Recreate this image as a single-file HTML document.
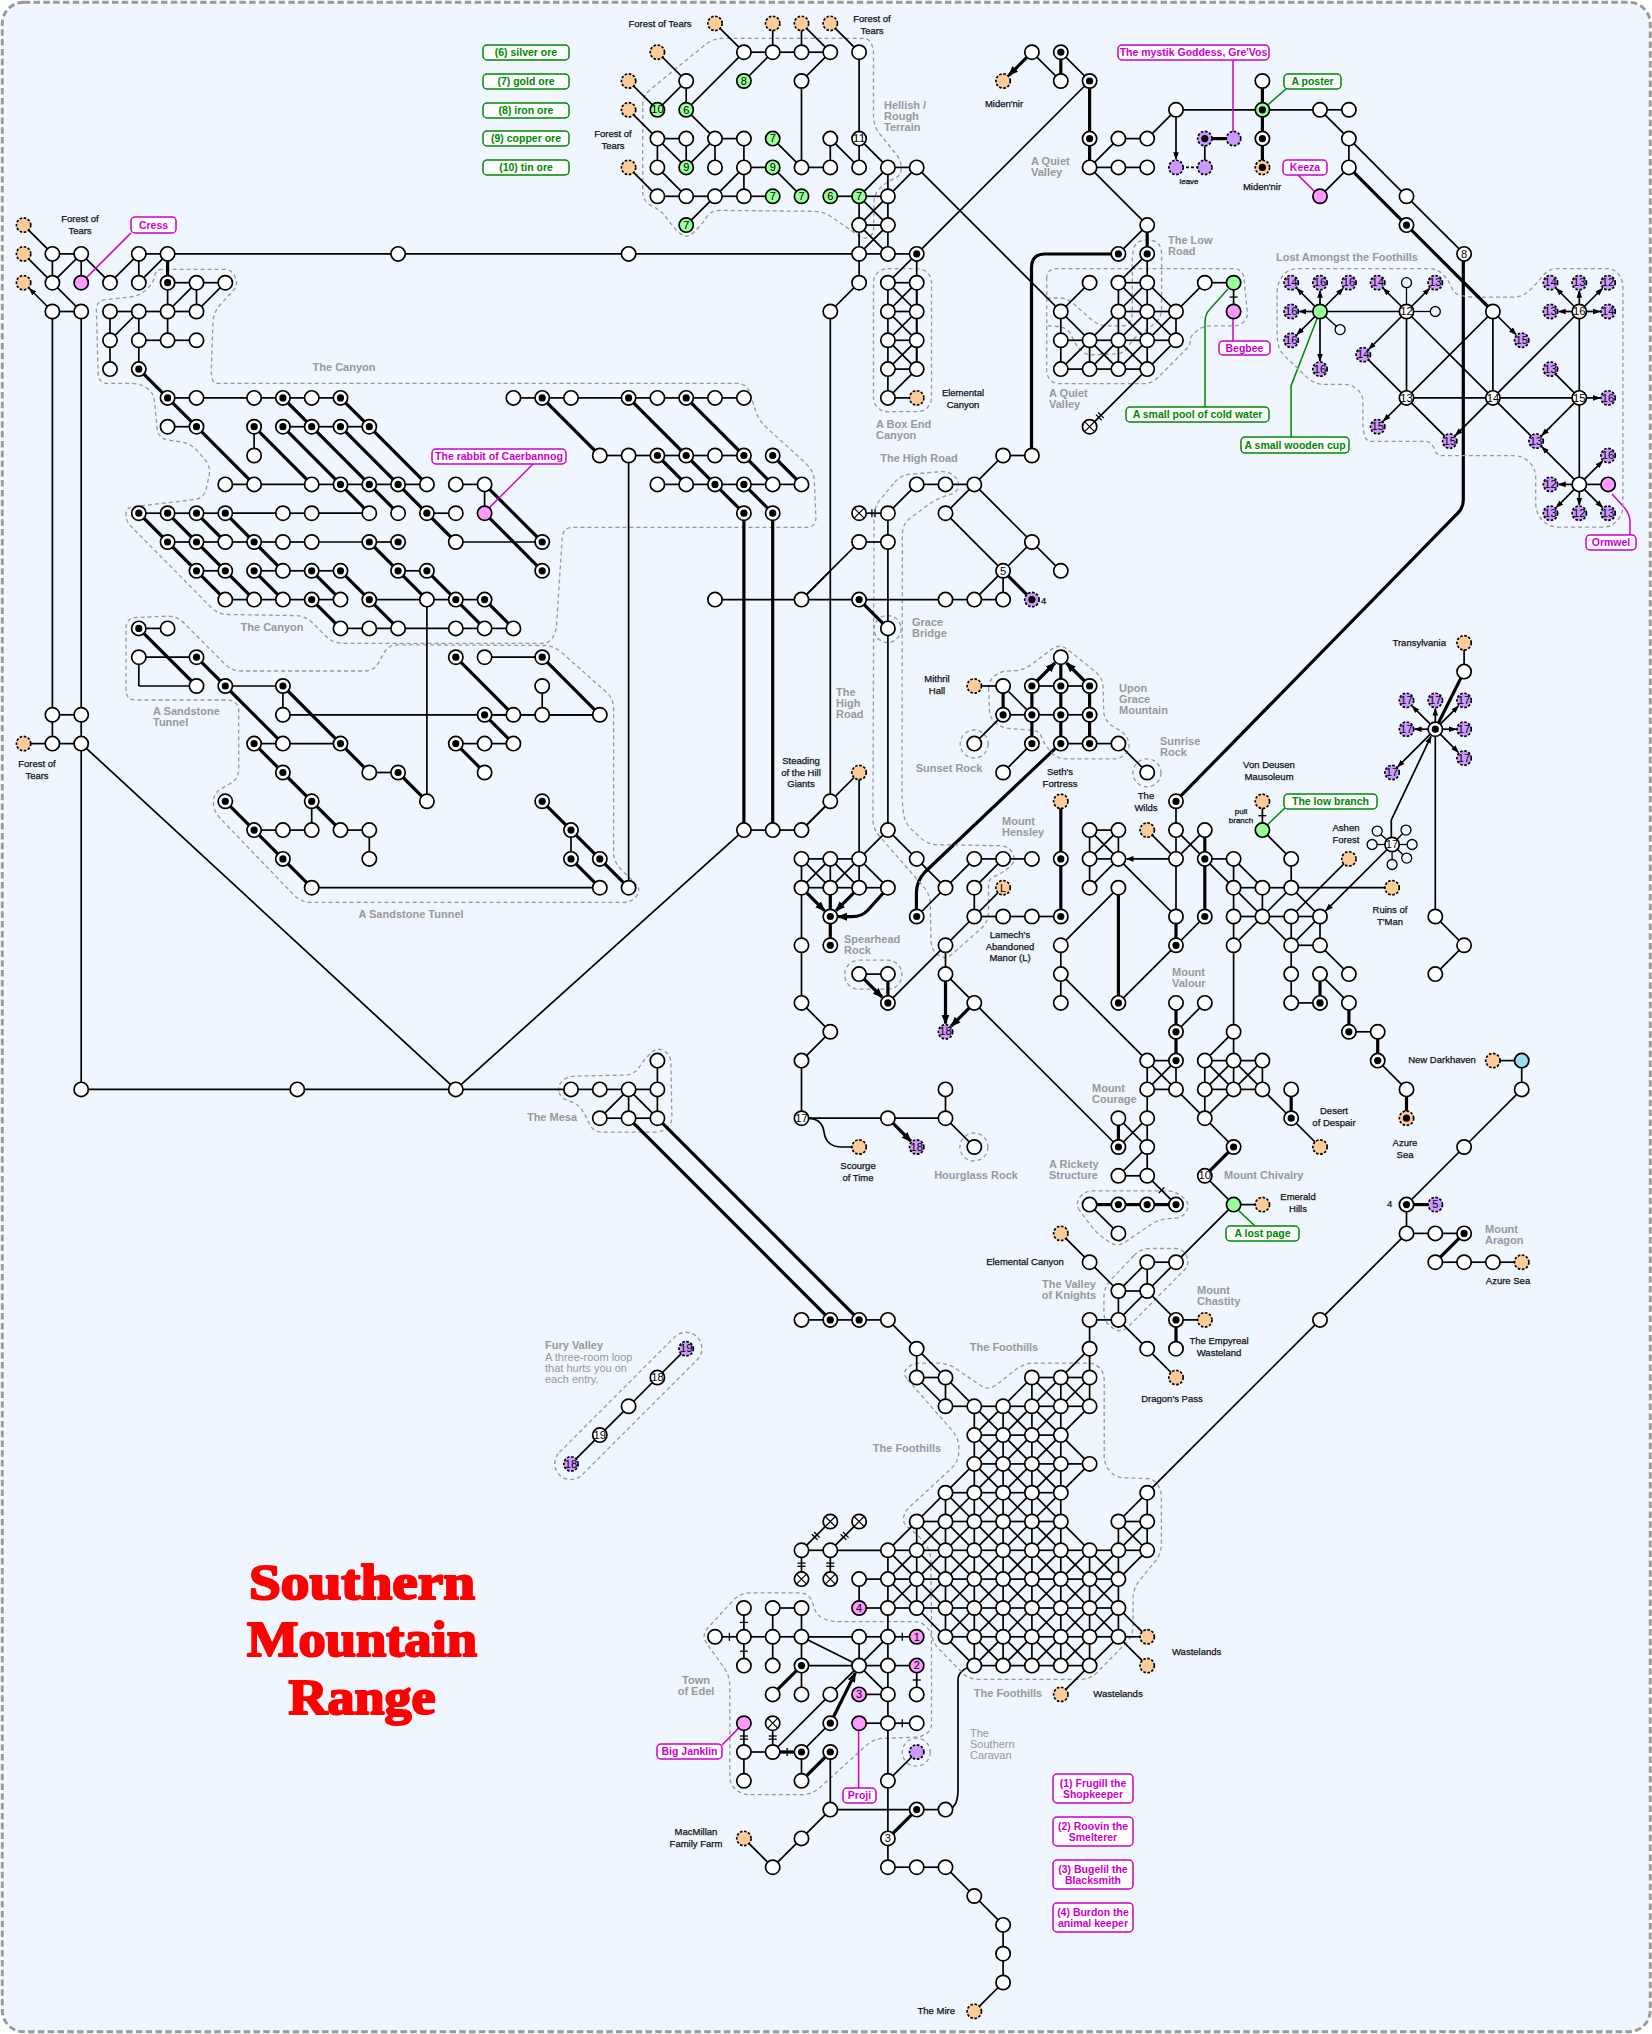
<!DOCTYPE html><html><head><meta charset="utf-8"><style>html,body{margin:0;padding:0;background:#fff;width:1652px;height:2034px;overflow:hidden;position:relative}</style></head><body><svg width="1652" height="2034" viewBox="0 0 1652 2034" style="position:absolute;left:0;top:0">
<defs><marker id="ah" markerWidth="8" markerHeight="8" refX="7" refY="4" orient="auto" markerUnits="userSpaceOnUse"><path d="M0,1.2 L8,4 L0,6.8 z" fill="#000"/></marker><marker id="ahT" markerWidth="10" markerHeight="10" refX="9" refY="5" orient="auto" markerUnits="userSpaceOnUse"><path d="M0,1 L10,5 L0,9 z" fill="#000"/></marker></defs>
<rect x="2.25" y="2.25" width="1648" height="2029.5" rx="21.5" ry="21.5" fill="#eff6fd" stroke="#999" stroke-width="2.9" stroke-dasharray="6.5,3.3"/>
<path d="M1118.0,254.0 L1045,254 Q1031.5,254 1031.5,268 L1031.5,455.6" fill="none" stroke="#000" stroke-width="3.2"/>
<path d="M1060.3,743.6 L925,872 Q916.4,881 916.4,893 L916.4,916.4" fill="none" stroke="#000" stroke-width="3.2"/>
<path d="M887.8,888 L868,910 Q862,916.7 852,916.7 L838,916.7" fill="none" stroke="#000" stroke-width="3.2" marker-end="url(#ahT)"/>
<path d="M808,1118.3 Q822,1118.3 824,1132 Q826,1147 842,1147 L852,1147" fill="none" stroke="#000" stroke-width="1.7"/>
<path d="M1463.3,254 L1463.3,500 Q1463.3,508 1457,514 L1175.7,801.2" fill="none" stroke="#000" stroke-width="3.2"/>
<path d="M1228,289 L1210,309 Q1205,314 1205,322 L1205,407" fill="none" stroke="#008800" stroke-width="1.5"/>
<path d="M1319.7,311.7 L1291.1,385.7 L1291.1,437" fill="none" stroke="#008800" stroke-width="1.5"/>
<circle cx="1319.7" cy="340.2" r="0" />
<path d="M1612,494 L1622,505 Q1630,513 1630,522 L1630,535" fill="none" stroke="#cc00cc" stroke-width="1.5"/>
<path d="M1391.3,844 L1391.3,820 L1431,736.4" fill="none" stroke="#000" stroke-width="1.7" marker-end="url(#ah)"/>
<path d="M945.1,1809.8 Q958,1809.8 958,1790 L958,1680 Q958,1670 973.9,1665.3" fill="none" stroke="#000" stroke-width="1.7"/>
<text x="362" y="1598.5" text-anchor="middle" font-family="Liberation Serif" font-weight="bold" font-size="51" fill="#f00" stroke="#f00" stroke-width="2.2" stroke-linejoin="round" textLength="226" lengthAdjust="spacingAndGlyphs">Southern</text>
<text x="362" y="1656" text-anchor="middle" font-family="Liberation Serif" font-weight="bold" font-size="51" fill="#f00" stroke="#f00" stroke-width="2.2" stroke-linejoin="round" textLength="230" lengthAdjust="spacingAndGlyphs">Mountain</text>
<text x="362" y="1713.7" text-anchor="middle" font-family="Liberation Serif" font-weight="bold" font-size="51" fill="#f00" stroke="#f00" stroke-width="2.2" stroke-linejoin="round" textLength="147" lengthAdjust="spacingAndGlyphs">Range</text>
<path d="M154.8,275.8 Q155.9,269.3 162.5,269.3 L223.5,269.3 Q231.8,269.3 235.2,276.9 L235.2,276.9 Q238.7,284.5 233.1,290.7 L220.2,304.7 Q213.4,312.1 213.0,322.1 L211.3,369.5 Q211.1,374.2 212.2,378.8 L212.2,378.8 Q213.4,383.4 218.1,383.4 L737.0,383.4 Q747.0,383.4 750.0,392.9 L755.6,410.7 Q758.6,420.2 766.0,427.0 L806.4,464.0 Q813.8,470.8 814.3,480.8 L815.9,517.6 Q816.1,521.4 813.8,524.4 L813.8,524.4 Q811.5,527.4 807.7,527.4 L573.0,527.4 Q563.0,527.4 562.3,537.4 L556.5,625.1 Q556.1,631.8 552.7,637.5 L552.7,637.5 Q549.3,643.3 542.6,643.3 L343.0,643.3 Q333.0,643.3 325.9,636.2 L312.5,622.8 Q305.4,615.7 295.4,615.6 L228.0,614.5 Q218.0,614.4 211.0,607.3 L130.9,526.3 Q126.0,521.4 126.0,514.5 L126.0,514.5 Q126.0,507.6 132.9,506.8 L194.3,499.6 Q204.2,498.4 206.3,488.6 L209.0,476.0 Q211.1,466.2 204.4,458.8 L197.1,450.6 Q190.4,443.2 180.5,441.8 L168.1,440.0 Q158.2,438.6 157.2,428.6 L154.4,400.9 Q153.6,392.6 146.7,388.0 L146.7,388.0 Q139.8,383.4 131.5,383.4 L108.4,383.4 Q98.4,383.4 98.1,373.4 L96.4,310.6 Q96.1,300.6 106.0,299.6 L130.1,297.0 Q139.8,296.0 146.7,289.1 L149.0,286.8 Q153.6,282.2 154.8,275.8 Z" fill="none" stroke="#999" stroke-width="1.3" stroke-dasharray="4,3"/>
<path d="M126.0,628.0 Q126.0,618.0 136.0,617.5 L166.6,616.2 Q176.6,615.7 183.7,622.8 L224.7,663.9 Q231.8,671.0 241.8,671.0 L364.4,671.0 Q374.4,671.0 379.0,662.1 L383.6,653.6 Q388.2,644.7 398.2,644.8 L543.8,645.5 Q553.8,645.6 561.3,652.2 L606.1,691.9 Q613.6,698.5 613.6,708.5 L613.6,851.9 Q613.6,861.9 620.7,869.0 L635.7,883.9 Q641.3,889.5 636.6,895.9 L636.6,895.9 Q632.0,902.3 624.1,902.3 L310.8,902.3 Q300.8,902.3 293.9,895.1 L219.8,817.9 Q213.4,811.3 213.4,802.1 L213.4,802.1 Q213.4,792.9 221.5,788.5 L229.9,783.8 Q238.7,779.0 238.7,769.0 L238.7,709.8 Q238.7,705.4 235.2,702.7 L235.2,702.7 Q231.8,700.0 227.4,700.0 L136.0,700.0 Q126.0,700.0 126.0,690.0 Z" fill="none" stroke="#999" stroke-width="1.3" stroke-dasharray="4,3"/>
<path d="M642.7,105.7 Q642.7,95.7 650.5,89.4 L705.2,44.7 Q713.0,38.4 723.0,38.4 L863.3,38.4 Q868.7,38.4 871.1,43.2 L871.1,43.2 Q873.5,48.1 873.5,53.5 L873.5,116.0 Q873.5,126.0 879.7,133.8 L896.5,154.7 Q901.2,160.6 901.2,168.1 L901.2,168.7 Q901.2,175.7 894.7,178.4 L894.7,178.4 Q888.2,181.1 882.8,185.6 L881.2,187.1 Q874.1,193.0 874.0,202.2 L873.6,228.8 Q873.5,234.1 869.0,236.8 L869.0,236.8 Q864.4,239.5 860.0,236.5 L831.6,217.0 Q823.3,211.4 813.3,211.3 L719.8,210.4 Q710.8,210.3 706.0,217.9 L706.0,217.9 Q701.1,225.5 694.5,231.6 L693.3,232.7 Q686.0,239.5 679.0,232.5 L678.5,232.1 Q671.9,225.5 666.5,217.9 L666.5,217.9 Q661.1,210.3 652.7,206.4 L651.8,205.9 Q642.7,201.7 642.7,191.7 Z" fill="none" stroke="#999" stroke-width="1.3" stroke-dasharray="4,3"/>
<rect x="873.5" y="268.7" width="58.0" height="143.0" rx="14.0" fill="none" stroke="#999" stroke-width="1.3" stroke-dasharray="4,3"/>
<path d="M894.6,482.4 Q901.1,474.8 911.1,474.0 L940.9,471.7 Q947.9,471.1 953.4,475.4 L954.0,475.9 Q958.9,479.7 958.3,485.9 L958.3,485.9 Q957.7,492.0 951.8,493.9 L945.1,496.2 Q935.6,499.3 927.6,505.3 L910.4,518.0 Q902.4,524.0 902.4,534.0 L902.0,790.0 Q902.0,800.0 903.1,809.9 L903.5,813.0 Q904.6,822.9 911.9,829.8 L920.2,837.6 Q927.5,844.5 937.5,844.7 L1000.3,845.7 Q1008.8,845.8 1012.6,853.4 L1012.6,853.4 Q1016.5,861.0 1009.9,866.4 L1006.5,869.3 Q1001.2,873.7 994.9,876.2 L994.9,876.2 Q988.5,878.8 988.5,885.6 L988.5,912.0 Q988.5,922.0 981.0,928.6 L951.8,954.5 Q945.3,960.2 938.3,955.1 L938.3,955.1 Q931.3,950.0 931.1,941.3 L930.2,904.0 Q930.0,894.0 923.4,886.5 L879.5,836.3 Q872.9,828.8 872.9,818.8 L874.1,516.7 Q874.1,506.7 880.6,499.1 Z" fill="none" stroke="#999" stroke-width="1.3" stroke-dasharray="4,3"/>
<circle cx="887.6" cy="629.0" r="13.5" fill="none" stroke="#999" stroke-width="1.3" stroke-dasharray="4,3"/>
<path d="M988.7,688.7 Q988.4,681.3 994.0,676.4 L994.0,676.4 Q999.5,671.5 1006.9,671.1 L1014.1,670.7 Q1024.1,670.2 1032.1,664.2 L1051.8,649.2 Q1059.8,643.2 1067.6,649.4 L1095.0,671.4 Q1102.8,677.6 1103.1,687.6 L1103.7,710.7 Q1104.0,720.7 1112.5,726.0 L1121.1,731.4 Q1127.4,735.4 1128.6,742.8 L1128.8,743.8 Q1129.8,750.2 1124.9,754.5 L1124.9,754.5 Q1120.0,758.8 1113.5,758.8 L1066.0,758.8 Q1056.0,758.8 1049.9,750.8 L1047.8,748.1 Q1043.8,742.8 1041.3,736.6 L1041.3,736.6 Q1038.8,730.5 1032.2,730.1 L1009.8,728.5 Q1002.0,728.0 995.9,723.1 L995.9,723.1 Q989.7,718.2 989.4,710.3 Z" fill="none" stroke="#999" stroke-width="1.3" stroke-dasharray="4,3"/>
<circle cx="974.2" cy="744.0" r="14.0" fill="none" stroke="#999" stroke-width="1.3" stroke-dasharray="4,3"/>
<circle cx="1147.0" cy="772.8" r="14.0" fill="none" stroke="#999" stroke-width="1.3" stroke-dasharray="4,3"/>
<rect x="844.8" y="960.2" width="57.0" height="29.0" rx="14.0" fill="none" stroke="#999" stroke-width="1.3" stroke-dasharray="4,3"/>
<circle cx="973.9" cy="1147.0" r="14.0" fill="none" stroke="#999" stroke-width="1.3" stroke-dasharray="4,3"/>
<path d="M1079.7,1210.5 Q1074.9,1203.9 1079.8,1197.3 L1079.8,1197.3 Q1084.6,1190.8 1092.8,1190.8 L1165.8,1190.8 Q1175.6,1190.8 1182.8,1197.3 L1184.5,1198.8 Q1190.1,1203.9 1186.7,1210.7 L1186.7,1210.7 Q1183.3,1217.5 1175.7,1218.1 L1168.2,1218.6 Q1158.2,1219.4 1150.0,1225.1 L1125.7,1241.8 Q1117.5,1247.5 1109.2,1241.9 L1104.5,1238.6 Q1096.2,1233.0 1090.3,1224.9 Z" fill="none" stroke="#999" stroke-width="1.3" stroke-dasharray="4,3"/>
<path d="M1133.8,1255.7 Q1140.7,1248.5 1150.7,1248.5 L1174.8,1248.5 Q1183.3,1248.5 1186.7,1256.2 L1186.7,1256.2 Q1190.1,1264.0 1184.2,1270.0 L1128.4,1326.6 Q1121.4,1333.7 1113.1,1328.2 L1112.2,1327.6 Q1103.9,1322.1 1103.9,1312.1 L1103.9,1297.2 Q1103.9,1287.2 1110.8,1280.0 Z" fill="none" stroke="#999" stroke-width="1.3" stroke-dasharray="4,3"/>
<path d="M906.7,1378.6 Q902.0,1373.2 907.1,1368.2 L907.1,1368.2 Q912.2,1363.1 919.4,1363.1 L937.8,1363.1 Q947.8,1363.1 956.0,1368.8 L980.3,1385.3 Q988.5,1391.0 996.4,1384.8 L1016.2,1369.3 Q1024.1,1363.1 1034.1,1363.1 L1088.6,1363.1 Q1095.3,1363.1 1099.8,1368.2 L1099.8,1368.2 Q1104.2,1373.2 1104.2,1379.9 L1104.2,1456.3 Q1104.2,1464.8 1109.9,1471.2 L1109.9,1471.2 Q1115.6,1477.5 1124.1,1477.8 L1147.0,1478.6 Q1153.8,1478.8 1157.6,1484.5 L1157.6,1484.5 Q1161.4,1490.2 1161.4,1497.1 L1161.4,1543.8 Q1161.4,1553.8 1155.0,1561.5 L1139.5,1580.5 Q1133.1,1588.2 1133.1,1598.2 L1133.1,1625.7 Q1133.1,1635.7 1126.1,1642.9 L1097.5,1672.1 Q1090.5,1679.3 1080.5,1679.3 L978.5,1679.3 Q968.5,1679.3 961.5,1672.1 L938.7,1648.7 Q931.7,1641.5 931.6,1631.5 L930.8,1560.5 Q930.7,1550.5 924.4,1542.8 L924.2,1542.5 Q918.1,1535.0 910.4,1529.2 L907.3,1526.8 Q902.6,1523.3 903.6,1517.5 L903.6,1517.5 Q904.6,1511.7 908.9,1507.7 L951.5,1468.2 Q958.8,1461.4 958.8,1451.4 L958.8,1448.1 Q958.8,1438.1 952.2,1430.6 Z" fill="none" stroke="#999" stroke-width="1.3" stroke-dasharray="4,3"/>
<path d="M706.8,1643.5 Q701.0,1635.3 707.8,1627.9 L733.2,1600.3 Q740.0,1592.9 750.0,1592.9 L799.5,1592.9 Q809.5,1592.9 812.5,1602.5 L814.1,1607.7 Q816.3,1614.9 823.0,1618.3 L823.0,1618.3 Q829.8,1621.7 837.4,1621.7 L914.2,1621.7 Q921.4,1621.7 926.5,1626.8 L926.5,1626.8 Q931.5,1631.9 931.5,1639.1 L931.5,1724.1 Q931.5,1730.2 926.5,1733.6 L926.5,1733.6 Q921.4,1737.0 915.3,1737.2 L883.9,1738.3 Q873.9,1738.6 866.5,1745.3 L819.4,1787.9 Q812.0,1794.6 802.0,1794.6 L749.5,1794.6 Q741.7,1794.6 735.8,1789.5 L735.8,1789.5 Q729.8,1784.4 729.8,1776.6 L729.8,1685.9 Q729.8,1675.9 724.0,1667.7 Z" fill="none" stroke="#999" stroke-width="1.3" stroke-dasharray="4,3"/>
<circle cx="916.3" cy="1752.2" r="14.0" fill="none" stroke="#999" stroke-width="1.3" stroke-dasharray="4,3"/>
<path d="M558.9,1091.5 Q557.6,1085.1 562.5,1080.8 L562.7,1080.7 Q567.8,1076.2 574.6,1076.1 L624.7,1075.1 Q633.9,1074.9 639.0,1067.3 L639.1,1067.2 Q644.1,1059.7 650.5,1053.3 L651.2,1052.6 Q656.8,1047.0 663.8,1050.8 L663.8,1050.8 Q670.8,1054.6 670.9,1062.6 L671.9,1116.6 Q672.0,1123.3 667.0,1127.8 L667.0,1127.8 Q661.9,1132.2 655.2,1132.2 L602.3,1132.2 Q593.2,1132.2 589.4,1123.9 L588.5,1121.8 Q585.6,1115.6 581.8,1109.9 L581.8,1109.9 Q578.0,1104.2 571.5,1101.9 L566.4,1100.1 Q560.2,1097.9 558.9,1091.5 Z" fill="none" stroke="#999" stroke-width="1.3" stroke-dasharray="4,3"/>
<rect x="531.0" y="1390.0" width="195.0" height="32.0" rx="16.0" fill="none" stroke="#999" stroke-width="1.3" stroke-dasharray="4,3" transform="rotate(-45.0 628.4 1406.2)"/>
<path d="M1277.1,292.1 Q1277.1,282.9 1282.8,275.8 L1282.8,275.8 Q1288.6,268.6 1297.8,268.6 L1429.0,268.6 Q1437.1,268.6 1442.8,274.3 L1443.1,274.6 Q1448.6,280.0 1451.4,287.1 L1451.6,287.5 Q1454.3,294.3 1461.4,295.7 L1461.4,295.7 Q1468.6,297.1 1475.9,297.1 L1512.9,297.1 Q1522.9,297.1 1530.0,290.0 L1530.6,289.4 Q1537.1,282.9 1542.8,275.8 L1542.8,275.8 Q1548.6,268.6 1557.8,268.6 L1607.2,268.6 Q1614.3,268.6 1618.6,274.3 L1618.6,274.3 Q1622.9,280.0 1622.9,287.1 L1622.9,505.7 Q1622.9,514.3 1617.2,520.7 L1617.2,520.7 Q1611.4,527.1 1602.8,527.1 L1558.2,527.1 Q1548.6,527.1 1542.2,520.0 L1542.1,520.0 Q1535.7,512.9 1535.7,503.3 L1535.7,477.7 Q1535.7,468.6 1529.3,462.1 L1529.3,462.1 Q1522.9,455.7 1513.8,455.7 L1442.5,455.7 Q1437.1,455.7 1435.0,450.7 L1434.1,448.5 Q1432.9,445.7 1430.8,443.5 L1430.8,443.5 Q1428.6,441.4 1425.6,441.4 L1372.3,441.4 Q1365.7,441.4 1364.3,435.0 L1364.3,435.0 Q1362.9,428.6 1362.9,422.0 L1362.9,401.9 Q1362.9,394.3 1357.2,389.3 L1357.2,389.3 Q1351.4,384.3 1343.8,384.3 L1324.3,384.3 Q1314.3,384.3 1307.1,377.4 L1284.2,355.5 Q1280.0,351.4 1278.5,345.7 L1278.5,345.7 Q1277.1,340.0 1277.1,334.1 Z" fill="none" stroke="#999" stroke-width="1.3" stroke-dasharray="4,3"/>
<path d="M1046.7,278.7 Q1046.7,268.7 1056.7,268.7 L1233.0,268.7 Q1243.0,268.7 1244.0,278.6 L1247.3,311.8 Q1247.9,317.5 1244.0,321.6 L1244.0,321.6 Q1240.0,325.8 1234.3,325.8 L1211.0,325.8 Q1202.6,325.8 1196.3,331.4 L1193.2,334.2 Q1190.1,337.0 1190.1,341.1 L1190.1,341.1 Q1190.1,345.3 1187.2,348.2 L1158.1,377.3 Q1155.3,380.1 1151.8,381.9 L1151.8,381.9 Q1148.3,383.6 1144.4,383.6 L1058.9,383.6 Q1053.7,383.6 1050.2,379.8 L1050.2,379.8 Q1046.7,375.9 1046.7,370.7 Z" fill="none" stroke="#999" stroke-width="1.3" stroke-dasharray="4,3"/>
<path d="M1046.7,298.0 L1060.7,298.0 Q1064.8,298.0 1068.3,300.1 L1068.3,300.1 Q1071.8,302.1 1074.8,304.8 L1090.8,319.1 Q1098.2,325.8 1108.2,325.8 L1122.7,325.8 Q1127.5,325.8 1129.9,321.6 L1129.9,321.6 Q1132.3,317.5 1132.3,312.7 L1132.3,259.4 Q1132.3,253.4 1134.1,247.7 L1134.3,247.3 Q1136.0,242.0 1141.5,240.8 L1141.5,240.8 Q1146.9,239.5 1152.4,240.7 L1153.7,241.0 Q1158.0,242.0 1159.8,246.0 L1159.8,246.0 Q1161.6,250.0 1161.6,254.4 L1161.6,309.4 Q1161.6,316.1 1157.0,321.0 L1157.0,321.0 Q1152.5,325.8 1146.9,329.4 L1140.3,333.6 Q1133.0,338.3 1128.8,346.0 L1128.8,346.0 Q1124.7,353.6 1116.0,353.9 L1092.6,354.8 Q1085.7,355.0 1080.8,350.1 L1080.8,350.1 Q1075.9,345.3 1073.0,339.0 L1071.8,336.2 Q1067.6,327.2 1057.7,326.5 L1046.7,325.8" fill="none" stroke="#999" stroke-width="1.3" stroke-dasharray="4,3"/>
<line x1="23.6" y1="225.1" x2="52.4" y2="253.9" stroke="#000" stroke-width="1.7"/>
<line x1="52.4" y1="253.9" x2="81.2" y2="253.9" stroke="#000" stroke-width="1.7"/>
<line x1="81.2" y1="253.9" x2="81.2" y2="282.7" stroke="#000" stroke-width="1.7"/>
<line x1="23.6" y1="253.9" x2="52.4" y2="282.7" stroke="#000" stroke-width="1.7"/>
<line x1="52.4" y1="282.7" x2="81.2" y2="253.9" stroke="#000" stroke-width="1.7"/>
<line x1="81.2" y1="253.9" x2="110.0" y2="282.7" stroke="#000" stroke-width="1.7"/>
<line x1="110.0" y1="282.7" x2="138.8" y2="253.9" stroke="#000" stroke-width="1.7"/>
<line x1="138.8" y1="253.9" x2="167.6" y2="253.9" stroke="#000" stroke-width="1.7"/>
<line x1="167.6" y1="253.9" x2="398.1" y2="253.9" stroke="#000" stroke-width="1.7"/>
<line x1="52.4" y1="253.9" x2="52.4" y2="282.7" stroke="#000" stroke-width="1.7"/>
<line x1="52.4" y1="282.7" x2="81.2" y2="311.5" stroke="#000" stroke-width="1.7"/>
<line x1="138.8" y1="253.9" x2="138.8" y2="282.7" stroke="#000" stroke-width="1.7"/>
<line x1="138.8" y1="282.7" x2="167.6" y2="253.9" stroke="#000" stroke-width="1.7"/>
<line x1="167.6" y1="253.9" x2="167.6" y2="282.7" stroke="#000" stroke-width="3.2"/>
<line x1="167.6" y1="282.7" x2="196.5" y2="282.7" stroke="#000" stroke-width="1.7"/>
<line x1="196.5" y1="282.7" x2="225.3" y2="282.7" stroke="#000" stroke-width="1.7"/>
<line x1="167.6" y1="282.7" x2="167.6" y2="311.5" stroke="#000" stroke-width="1.7"/>
<line x1="167.6" y1="311.5" x2="196.5" y2="282.7" stroke="#000" stroke-width="1.7"/>
<line x1="196.5" y1="282.7" x2="196.5" y2="311.5" stroke="#000" stroke-width="1.7"/>
<line x1="196.5" y1="311.5" x2="225.3" y2="282.7" stroke="#000" stroke-width="1.7"/>
<line x1="52.4" y1="311.5" x2="29.4" y2="288.5" stroke="#000" stroke-width="1.7" marker-end="url(#ah)"/>
<line x1="52.4" y1="311.5" x2="81.2" y2="311.5" stroke="#000" stroke-width="1.7"/>
<line x1="110.0" y1="311.5" x2="138.8" y2="311.5" stroke="#000" stroke-width="1.7"/>
<line x1="138.8" y1="311.5" x2="167.6" y2="311.5" stroke="#000" stroke-width="1.7"/>
<line x1="167.6" y1="311.5" x2="196.5" y2="311.5" stroke="#000" stroke-width="1.7"/>
<line x1="110.0" y1="311.5" x2="110.0" y2="340.3" stroke="#000" stroke-width="1.7"/>
<line x1="110.0" y1="340.3" x2="138.8" y2="311.5" stroke="#000" stroke-width="1.7"/>
<line x1="138.8" y1="311.5" x2="138.8" y2="340.3" stroke="#000" stroke-width="1.7"/>
<line x1="138.8" y1="340.3" x2="167.6" y2="340.3" stroke="#000" stroke-width="1.7"/>
<line x1="167.6" y1="340.3" x2="196.5" y2="340.3" stroke="#000" stroke-width="1.7"/>
<line x1="167.6" y1="311.5" x2="167.6" y2="340.3" stroke="#000" stroke-width="1.7"/>
<line x1="110.0" y1="340.3" x2="110.0" y2="369.1" stroke="#000" stroke-width="1.7"/>
<line x1="138.8" y1="340.3" x2="138.8" y2="369.1" stroke="#000" stroke-width="1.7"/>
<line x1="138.8" y1="369.1" x2="167.6" y2="397.9" stroke="#000" stroke-width="3.2"/>
<line x1="167.6" y1="397.9" x2="196.5" y2="426.7" stroke="#000" stroke-width="3.2"/>
<line x1="196.5" y1="426.7" x2="254.1" y2="484.4" stroke="#000" stroke-width="3.2"/>
<line x1="167.6" y1="397.9" x2="196.5" y2="397.9" stroke="#000" stroke-width="1.7"/>
<line x1="196.5" y1="397.9" x2="254.1" y2="397.9" stroke="#000" stroke-width="1.7"/>
<line x1="254.1" y1="397.9" x2="282.9" y2="397.9" stroke="#000" stroke-width="1.7"/>
<line x1="282.9" y1="397.9" x2="311.7" y2="397.9" stroke="#000" stroke-width="1.7"/>
<line x1="311.7" y1="397.9" x2="340.5" y2="397.9" stroke="#000" stroke-width="1.7"/>
<line x1="167.6" y1="426.7" x2="196.5" y2="426.7" stroke="#000" stroke-width="1.7"/>
<line x1="254.1" y1="426.7" x2="254.1" y2="455.5" stroke="#000" stroke-width="1.7"/>
<line x1="282.9" y1="426.7" x2="311.7" y2="426.7" stroke="#000" stroke-width="1.7"/>
<line x1="311.7" y1="426.7" x2="340.5" y2="426.7" stroke="#000" stroke-width="1.7"/>
<line x1="340.5" y1="426.7" x2="369.3" y2="426.7" stroke="#000" stroke-width="1.7"/>
<line x1="282.9" y1="397.9" x2="311.7" y2="426.7" stroke="#000" stroke-width="3.2"/>
<line x1="311.7" y1="426.7" x2="369.3" y2="484.4" stroke="#000" stroke-width="3.2"/>
<line x1="340.5" y1="397.9" x2="369.3" y2="426.7" stroke="#000" stroke-width="3.2"/>
<line x1="254.1" y1="426.7" x2="311.7" y2="484.4" stroke="#000" stroke-width="3.2"/>
<line x1="282.9" y1="426.7" x2="340.5" y2="484.4" stroke="#000" stroke-width="3.2"/>
<line x1="340.5" y1="426.7" x2="398.1" y2="484.4" stroke="#000" stroke-width="3.2"/>
<line x1="369.3" y1="426.7" x2="426.9" y2="484.4" stroke="#000" stroke-width="3.2"/>
<line x1="225.3" y1="484.4" x2="254.1" y2="484.4" stroke="#000" stroke-width="1.7"/>
<line x1="254.1" y1="484.4" x2="311.7" y2="484.4" stroke="#000" stroke-width="1.7"/>
<line x1="311.7" y1="484.4" x2="340.5" y2="484.4" stroke="#000" stroke-width="1.7"/>
<line x1="340.5" y1="484.4" x2="369.3" y2="484.4" stroke="#000" stroke-width="1.7"/>
<line x1="369.3" y1="484.4" x2="398.1" y2="484.4" stroke="#000" stroke-width="1.7"/>
<line x1="398.1" y1="484.4" x2="426.9" y2="484.4" stroke="#000" stroke-width="1.7"/>
<line x1="340.5" y1="484.4" x2="369.3" y2="513.2" stroke="#000" stroke-width="3.2"/>
<line x1="369.3" y1="484.4" x2="398.1" y2="513.2" stroke="#000" stroke-width="3.2"/>
<line x1="398.1" y1="484.4" x2="426.9" y2="513.2" stroke="#000" stroke-width="3.2"/>
<line x1="138.8" y1="513.2" x2="167.6" y2="513.2" stroke="#000" stroke-width="1.7"/>
<line x1="167.6" y1="513.2" x2="196.5" y2="513.2" stroke="#000" stroke-width="1.7"/>
<line x1="196.5" y1="513.2" x2="225.3" y2="513.2" stroke="#000" stroke-width="1.7"/>
<line x1="225.3" y1="513.2" x2="282.9" y2="513.2" stroke="#000" stroke-width="1.7"/>
<line x1="282.9" y1="513.2" x2="311.7" y2="513.2" stroke="#000" stroke-width="1.7"/>
<line x1="311.7" y1="513.2" x2="369.3" y2="513.2" stroke="#000" stroke-width="1.7"/>
<line x1="167.6" y1="542.0" x2="196.5" y2="542.0" stroke="#000" stroke-width="1.7"/>
<line x1="196.5" y1="542.0" x2="225.3" y2="542.0" stroke="#000" stroke-width="1.7"/>
<line x1="225.3" y1="542.0" x2="254.1" y2="542.0" stroke="#000" stroke-width="1.7"/>
<line x1="254.1" y1="542.0" x2="282.9" y2="542.0" stroke="#000" stroke-width="1.7"/>
<line x1="282.9" y1="542.0" x2="311.7" y2="542.0" stroke="#000" stroke-width="1.7"/>
<line x1="311.7" y1="542.0" x2="369.3" y2="542.0" stroke="#000" stroke-width="1.7"/>
<line x1="369.3" y1="542.0" x2="398.1" y2="542.0" stroke="#000" stroke-width="1.7"/>
<line x1="138.8" y1="513.2" x2="167.6" y2="542.0" stroke="#000" stroke-width="3.2"/>
<line x1="167.6" y1="542.0" x2="196.5" y2="570.8" stroke="#000" stroke-width="3.2"/>
<line x1="196.5" y1="570.8" x2="225.3" y2="599.6" stroke="#000" stroke-width="3.2"/>
<line x1="167.6" y1="513.2" x2="196.5" y2="542.0" stroke="#000" stroke-width="3.2"/>
<line x1="196.5" y1="542.0" x2="225.3" y2="570.8" stroke="#000" stroke-width="3.2"/>
<line x1="225.3" y1="570.8" x2="254.1" y2="599.6" stroke="#000" stroke-width="3.2"/>
<line x1="196.5" y1="513.2" x2="225.3" y2="542.0" stroke="#000" stroke-width="3.2"/>
<line x1="225.3" y1="513.2" x2="254.1" y2="542.0" stroke="#000" stroke-width="3.2"/>
<line x1="254.1" y1="542.0" x2="282.9" y2="570.8" stroke="#000" stroke-width="3.2"/>
<line x1="369.3" y1="542.0" x2="398.1" y2="570.8" stroke="#000" stroke-width="3.2"/>
<line x1="398.1" y1="570.8" x2="426.9" y2="599.6" stroke="#000" stroke-width="3.2"/>
<line x1="196.5" y1="570.8" x2="225.3" y2="570.8" stroke="#000" stroke-width="1.7"/>
<line x1="254.1" y1="570.8" x2="282.9" y2="570.8" stroke="#000" stroke-width="1.7"/>
<line x1="282.9" y1="570.8" x2="311.7" y2="570.8" stroke="#000" stroke-width="1.7"/>
<line x1="311.7" y1="570.8" x2="340.5" y2="570.8" stroke="#000" stroke-width="1.7"/>
<line x1="398.1" y1="570.8" x2="426.9" y2="570.8" stroke="#000" stroke-width="1.7"/>
<line x1="225.3" y1="599.6" x2="254.1" y2="599.6" stroke="#000" stroke-width="1.7"/>
<line x1="254.1" y1="599.6" x2="282.9" y2="599.6" stroke="#000" stroke-width="1.7"/>
<line x1="282.9" y1="599.6" x2="311.7" y2="599.6" stroke="#000" stroke-width="1.7"/>
<line x1="311.7" y1="599.6" x2="340.5" y2="599.6" stroke="#000" stroke-width="1.7"/>
<line x1="369.3" y1="599.6" x2="398.1" y2="599.6" stroke="#000" stroke-width="1.7"/>
<line x1="398.1" y1="599.6" x2="426.9" y2="599.6" stroke="#000" stroke-width="1.7"/>
<line x1="254.1" y1="570.8" x2="282.9" y2="599.6" stroke="#000" stroke-width="3.2"/>
<line x1="311.7" y1="570.8" x2="340.5" y2="599.6" stroke="#000" stroke-width="3.2"/>
<line x1="340.5" y1="570.8" x2="369.3" y2="599.6" stroke="#000" stroke-width="3.2"/>
<line x1="369.3" y1="599.6" x2="398.1" y2="628.4" stroke="#000" stroke-width="3.2"/>
<line x1="311.7" y1="599.6" x2="340.5" y2="628.4" stroke="#000" stroke-width="3.2"/>
<line x1="138.8" y1="628.4" x2="167.6" y2="628.4" stroke="#000" stroke-width="1.7"/>
<line x1="340.5" y1="628.4" x2="369.3" y2="628.4" stroke="#000" stroke-width="1.7"/>
<line x1="369.3" y1="628.4" x2="398.1" y2="628.4" stroke="#000" stroke-width="1.7"/>
<line x1="398.1" y1="628.4" x2="455.8" y2="628.4" stroke="#000" stroke-width="1.7"/>
<line x1="138.8" y1="628.4" x2="196.5" y2="686.0" stroke="#000" stroke-width="3.2"/>
<line x1="138.8" y1="657.2" x2="196.5" y2="657.2" stroke="#000" stroke-width="1.7"/>
<line x1="138.8" y1="657.2" x2="138.8" y2="686.0" stroke="#000" stroke-width="1.7"/>
<line x1="138.8" y1="686.0" x2="196.5" y2="686.0" stroke="#000" stroke-width="1.7"/>
<line x1="225.3" y1="686.0" x2="282.9" y2="686.0" stroke="#000" stroke-width="1.7"/>
<line x1="196.5" y1="657.2" x2="225.3" y2="686.0" stroke="#000" stroke-width="3.2"/>
<line x1="225.3" y1="686.0" x2="282.9" y2="743.6" stroke="#000" stroke-width="3.2"/>
<line x1="282.9" y1="686.0" x2="282.9" y2="714.8" stroke="#000" stroke-width="1.7"/>
<line x1="282.9" y1="686.0" x2="340.5" y2="743.6" stroke="#000" stroke-width="3.2"/>
<line x1="340.5" y1="743.6" x2="369.3" y2="772.5" stroke="#000" stroke-width="3.2"/>
<line x1="282.9" y1="714.8" x2="599.8" y2="714.8" stroke="#000" stroke-width="1.7"/>
<line x1="52.4" y1="311.5" x2="52.4" y2="714.8" stroke="#000" stroke-width="1.7"/>
<line x1="52.4" y1="714.8" x2="52.4" y2="743.6" stroke="#000" stroke-width="1.7"/>
<line x1="81.2" y1="743.6" x2="81.2" y2="1089.4" stroke="#000" stroke-width="1.7"/>
<line x1="81.2" y1="1089.4" x2="297.3" y2="1089.4" stroke="#000" stroke-width="1.7"/>
<line x1="81.2" y1="743.6" x2="455.8" y2="1089.4" stroke="#000" stroke-width="1.7"/>
<line x1="81.2" y1="311.5" x2="81.2" y2="714.8" stroke="#000" stroke-width="1.7"/>
<line x1="81.2" y1="714.8" x2="81.2" y2="743.6" stroke="#000" stroke-width="1.7"/>
<line x1="52.4" y1="714.8" x2="81.2" y2="714.8" stroke="#000" stroke-width="1.7"/>
<line x1="23.6" y1="743.6" x2="52.4" y2="743.6" stroke="#000" stroke-width="1.7"/>
<line x1="52.4" y1="743.6" x2="81.2" y2="743.6" stroke="#000" stroke-width="1.7"/>
<line x1="254.1" y1="743.6" x2="282.9" y2="743.6" stroke="#000" stroke-width="1.7"/>
<line x1="282.9" y1="743.6" x2="340.5" y2="743.6" stroke="#000" stroke-width="1.7"/>
<line x1="254.1" y1="743.6" x2="282.9" y2="772.5" stroke="#000" stroke-width="3.2"/>
<line x1="282.9" y1="772.5" x2="311.7" y2="801.3" stroke="#000" stroke-width="3.2"/>
<line x1="369.3" y1="772.5" x2="398.1" y2="772.5" stroke="#000" stroke-width="1.7"/>
<line x1="398.1" y1="772.5" x2="426.9" y2="801.3" stroke="#000" stroke-width="3.2"/>
<line x1="225.3" y1="801.3" x2="254.1" y2="830.1" stroke="#000" stroke-width="3.2"/>
<line x1="254.1" y1="830.1" x2="282.9" y2="858.9" stroke="#000" stroke-width="3.2"/>
<line x1="282.9" y1="858.9" x2="311.7" y2="887.7" stroke="#000" stroke-width="3.2"/>
<line x1="254.1" y1="830.1" x2="282.9" y2="830.1" stroke="#000" stroke-width="1.7"/>
<line x1="282.9" y1="830.1" x2="311.7" y2="830.1" stroke="#000" stroke-width="1.7"/>
<line x1="311.7" y1="801.3" x2="311.7" y2="830.1" stroke="#000" stroke-width="1.7"/>
<line x1="311.7" y1="801.3" x2="340.5" y2="830.1" stroke="#000" stroke-width="3.2"/>
<line x1="340.5" y1="830.1" x2="369.3" y2="830.1" stroke="#000" stroke-width="1.7"/>
<line x1="369.3" y1="830.1" x2="369.3" y2="858.9" stroke="#000" stroke-width="1.7"/>
<line x1="311.7" y1="887.7" x2="599.8" y2="887.7" stroke="#000" stroke-width="1.7"/>
<line x1="715.0" y1="23.4" x2="743.9" y2="52.2" stroke="#000" stroke-width="1.7"/>
<line x1="743.9" y1="52.2" x2="772.7" y2="52.2" stroke="#000" stroke-width="1.7"/>
<line x1="772.7" y1="52.2" x2="801.5" y2="52.2" stroke="#000" stroke-width="1.7"/>
<line x1="801.5" y1="52.2" x2="830.3" y2="52.2" stroke="#000" stroke-width="1.7"/>
<line x1="772.7" y1="23.4" x2="772.7" y2="52.2" stroke="#000" stroke-width="1.7"/>
<line x1="801.5" y1="23.4" x2="801.5" y2="52.2" stroke="#000" stroke-width="1.7"/>
<line x1="801.5" y1="23.4" x2="830.3" y2="52.2" stroke="#000" stroke-width="1.7"/>
<line x1="657.4" y1="52.2" x2="686.2" y2="81.0" stroke="#000" stroke-width="1.7"/>
<line x1="686.2" y1="81.0" x2="657.4" y2="109.8" stroke="#000" stroke-width="1.7"/>
<line x1="686.2" y1="81.0" x2="686.2" y2="109.8" stroke="#000" stroke-width="1.7"/>
<line x1="686.2" y1="109.8" x2="743.9" y2="52.2" stroke="#000" stroke-width="1.7"/>
<line x1="743.9" y1="81.0" x2="772.7" y2="52.2" stroke="#000" stroke-width="1.7"/>
<line x1="801.5" y1="81.0" x2="830.3" y2="52.2" stroke="#000" stroke-width="1.7"/>
<line x1="801.5" y1="81.0" x2="801.5" y2="167.4" stroke="#000" stroke-width="1.7"/>
<line x1="801.5" y1="167.4" x2="830.3" y2="167.4" stroke="#000" stroke-width="1.7"/>
<line x1="628.6" y1="81.0" x2="657.4" y2="109.8" stroke="#000" stroke-width="1.7"/>
<line x1="628.6" y1="109.8" x2="657.4" y2="138.6" stroke="#000" stroke-width="1.7"/>
<line x1="657.4" y1="138.6" x2="686.2" y2="138.6" stroke="#000" stroke-width="1.7"/>
<line x1="657.4" y1="138.6" x2="657.4" y2="167.4" stroke="#000" stroke-width="1.7"/>
<line x1="657.4" y1="167.4" x2="686.2" y2="196.3" stroke="#000" stroke-width="1.7"/>
<line x1="657.4" y1="138.6" x2="686.2" y2="167.4" stroke="#000" stroke-width="1.7"/>
<line x1="686.2" y1="167.4" x2="715.0" y2="138.6" stroke="#000" stroke-width="1.7"/>
<line x1="715.0" y1="138.6" x2="743.9" y2="138.6" stroke="#000" stroke-width="1.7"/>
<line x1="743.9" y1="138.6" x2="743.9" y2="167.4" stroke="#000" stroke-width="1.7"/>
<line x1="743.9" y1="167.4" x2="772.7" y2="167.4" stroke="#000" stroke-width="1.7"/>
<line x1="772.7" y1="167.4" x2="801.5" y2="196.3" stroke="#000" stroke-width="1.7"/>
<line x1="686.2" y1="138.6" x2="686.2" y2="167.4" stroke="#000" stroke-width="1.7"/>
<line x1="686.2" y1="109.8" x2="715.0" y2="138.6" stroke="#000" stroke-width="1.7"/>
<line x1="715.0" y1="138.6" x2="715.0" y2="167.4" stroke="#000" stroke-width="1.7"/>
<line x1="772.7" y1="138.6" x2="801.5" y2="167.4" stroke="#000" stroke-width="1.7"/>
<line x1="628.6" y1="167.4" x2="657.4" y2="196.3" stroke="#000" stroke-width="1.7"/>
<line x1="657.4" y1="196.3" x2="686.2" y2="196.3" stroke="#000" stroke-width="1.7"/>
<line x1="686.2" y1="196.3" x2="715.0" y2="196.3" stroke="#000" stroke-width="1.7"/>
<line x1="715.0" y1="196.3" x2="743.9" y2="196.3" stroke="#000" stroke-width="1.7"/>
<line x1="743.9" y1="196.3" x2="772.7" y2="196.3" stroke="#000" stroke-width="1.7"/>
<line x1="715.0" y1="196.3" x2="743.9" y2="167.4" stroke="#000" stroke-width="1.7"/>
<line x1="715.0" y1="196.3" x2="686.2" y2="225.1" stroke="#000" stroke-width="1.7"/>
<line x1="743.9" y1="167.4" x2="743.9" y2="196.3" stroke="#000" stroke-width="1.7"/>
<line x1="513.4" y1="397.9" x2="542.2" y2="397.9" stroke="#000" stroke-width="1.7"/>
<line x1="542.2" y1="397.9" x2="571.0" y2="397.9" stroke="#000" stroke-width="1.7"/>
<line x1="571.0" y1="397.9" x2="628.6" y2="397.9" stroke="#000" stroke-width="1.7"/>
<line x1="628.6" y1="397.9" x2="657.4" y2="397.9" stroke="#000" stroke-width="1.7"/>
<line x1="657.4" y1="397.9" x2="686.2" y2="397.9" stroke="#000" stroke-width="1.7"/>
<line x1="686.2" y1="397.9" x2="715.0" y2="397.9" stroke="#000" stroke-width="1.7"/>
<line x1="715.0" y1="397.9" x2="743.9" y2="397.9" stroke="#000" stroke-width="1.7"/>
<line x1="542.2" y1="397.9" x2="599.8" y2="455.5" stroke="#000" stroke-width="3.2"/>
<line x1="628.6" y1="397.9" x2="686.2" y2="455.5" stroke="#000" stroke-width="3.2"/>
<line x1="686.2" y1="397.9" x2="743.9" y2="455.5" stroke="#000" stroke-width="3.2"/>
<line x1="599.8" y1="455.5" x2="628.6" y2="455.5" stroke="#000" stroke-width="1.7"/>
<line x1="628.6" y1="455.5" x2="657.4" y2="455.5" stroke="#000" stroke-width="1.7"/>
<line x1="657.4" y1="455.5" x2="686.2" y2="455.5" stroke="#000" stroke-width="1.7"/>
<line x1="686.2" y1="455.5" x2="715.0" y2="455.5" stroke="#000" stroke-width="1.7"/>
<line x1="715.0" y1="455.5" x2="743.9" y2="455.5" stroke="#000" stroke-width="1.7"/>
<line x1="628.6" y1="455.5" x2="628.6" y2="887.7" stroke="#000" stroke-width="1.7"/>
<line x1="657.4" y1="455.5" x2="686.2" y2="484.4" stroke="#000" stroke-width="3.2"/>
<line x1="686.2" y1="455.5" x2="715.0" y2="484.4" stroke="#000" stroke-width="3.2"/>
<line x1="715.0" y1="484.4" x2="743.9" y2="513.2" stroke="#000" stroke-width="3.2"/>
<line x1="743.9" y1="455.5" x2="772.7" y2="484.4" stroke="#000" stroke-width="3.2"/>
<line x1="743.9" y1="484.4" x2="772.7" y2="513.2" stroke="#000" stroke-width="3.2"/>
<line x1="772.7" y1="455.5" x2="801.5" y2="484.4" stroke="#000" stroke-width="3.2"/>
<line x1="657.4" y1="484.4" x2="686.2" y2="484.4" stroke="#000" stroke-width="1.7"/>
<line x1="686.2" y1="484.4" x2="715.0" y2="484.4" stroke="#000" stroke-width="1.7"/>
<line x1="715.0" y1="484.4" x2="743.9" y2="484.4" stroke="#000" stroke-width="1.7"/>
<line x1="743.9" y1="484.4" x2="772.7" y2="484.4" stroke="#000" stroke-width="1.7"/>
<line x1="772.7" y1="484.4" x2="801.5" y2="484.4" stroke="#000" stroke-width="1.7"/>
<line x1="743.9" y1="513.2" x2="743.9" y2="830.1" stroke="#000" stroke-width="3.2"/>
<line x1="772.7" y1="513.2" x2="772.7" y2="830.1" stroke="#000" stroke-width="3.2"/>
<line x1="715.0" y1="599.6" x2="801.5" y2="599.6" stroke="#000" stroke-width="1.7"/>
<line x1="801.5" y1="599.6" x2="859.1" y2="599.6" stroke="#000" stroke-width="1.7"/>
<line x1="801.5" y1="599.6" x2="830.3" y2="570.8" stroke="#000" stroke-width="1.7"/>
<line x1="455.8" y1="484.4" x2="484.6" y2="484.4" stroke="#000" stroke-width="1.7"/>
<line x1="484.6" y1="484.4" x2="484.6" y2="513.2" stroke="#000" stroke-width="1.7"/>
<line x1="484.6" y1="484.4" x2="542.2" y2="542.0" stroke="#000" stroke-width="3.2"/>
<line x1="426.9" y1="513.2" x2="455.8" y2="513.2" stroke="#000" stroke-width="1.7"/>
<line x1="426.9" y1="513.2" x2="455.8" y2="542.0" stroke="#000" stroke-width="3.2"/>
<line x1="484.6" y1="513.2" x2="542.2" y2="570.8" stroke="#000" stroke-width="3.2"/>
<line x1="455.8" y1="542.0" x2="542.2" y2="542.0" stroke="#000" stroke-width="1.7"/>
<line x1="426.9" y1="570.8" x2="455.8" y2="599.6" stroke="#000" stroke-width="3.2"/>
<line x1="455.8" y1="599.6" x2="484.6" y2="628.4" stroke="#000" stroke-width="3.2"/>
<line x1="426.9" y1="599.6" x2="455.8" y2="599.6" stroke="#000" stroke-width="1.7"/>
<line x1="455.8" y1="599.6" x2="484.6" y2="599.6" stroke="#000" stroke-width="1.7"/>
<line x1="426.9" y1="599.6" x2="426.9" y2="801.3" stroke="#000" stroke-width="1.7"/>
<line x1="484.6" y1="599.6" x2="513.4" y2="628.4" stroke="#000" stroke-width="3.2"/>
<line x1="455.8" y1="628.4" x2="484.6" y2="628.4" stroke="#000" stroke-width="1.7"/>
<line x1="484.6" y1="628.4" x2="513.4" y2="628.4" stroke="#000" stroke-width="1.7"/>
<line x1="484.6" y1="657.2" x2="542.2" y2="657.2" stroke="#000" stroke-width="1.7"/>
<line x1="455.8" y1="657.2" x2="513.4" y2="714.8" stroke="#000" stroke-width="3.2"/>
<line x1="542.2" y1="657.2" x2="599.8" y2="714.8" stroke="#000" stroke-width="3.2"/>
<line x1="542.2" y1="686.0" x2="542.2" y2="714.8" stroke="#000" stroke-width="1.7"/>
<line x1="484.6" y1="714.8" x2="513.4" y2="714.8" stroke="#000" stroke-width="1.7"/>
<line x1="513.4" y1="714.8" x2="542.2" y2="714.8" stroke="#000" stroke-width="1.7"/>
<line x1="542.2" y1="714.8" x2="599.8" y2="714.8" stroke="#000" stroke-width="1.7"/>
<line x1="484.6" y1="714.8" x2="513.4" y2="743.6" stroke="#000" stroke-width="3.2"/>
<line x1="455.8" y1="743.6" x2="484.6" y2="743.6" stroke="#000" stroke-width="1.7"/>
<line x1="484.6" y1="743.6" x2="513.4" y2="743.6" stroke="#000" stroke-width="1.7"/>
<line x1="455.8" y1="743.6" x2="484.6" y2="772.5" stroke="#000" stroke-width="3.2"/>
<line x1="542.2" y1="801.3" x2="571.0" y2="830.1" stroke="#000" stroke-width="3.2"/>
<line x1="571.0" y1="830.1" x2="599.8" y2="858.9" stroke="#000" stroke-width="3.2"/>
<line x1="599.8" y1="858.9" x2="628.6" y2="887.7" stroke="#000" stroke-width="3.2"/>
<line x1="571.0" y1="830.1" x2="571.0" y2="858.9" stroke="#000" stroke-width="1.7"/>
<line x1="571.0" y1="858.9" x2="599.8" y2="887.7" stroke="#000" stroke-width="3.2"/>
<line x1="743.9" y1="830.1" x2="772.7" y2="830.1" stroke="#000" stroke-width="1.7"/>
<line x1="772.7" y1="830.1" x2="801.5" y2="830.1" stroke="#000" stroke-width="1.7"/>
<line x1="801.5" y1="830.1" x2="859.1" y2="772.5" stroke="#000" stroke-width="1.7"/>
<line x1="743.9" y1="830.1" x2="455.8" y2="1089.4" stroke="#000" stroke-width="1.7"/>
<line x1="297.3" y1="1089.4" x2="455.8" y2="1089.4" stroke="#000" stroke-width="1.7"/>
<line x1="455.8" y1="1089.4" x2="571.0" y2="1089.4" stroke="#000" stroke-width="1.7"/>
<line x1="571.0" y1="1089.4" x2="599.8" y2="1089.4" stroke="#000" stroke-width="1.7"/>
<line x1="599.8" y1="1089.4" x2="628.6" y2="1089.4" stroke="#000" stroke-width="1.7"/>
<line x1="628.6" y1="1089.4" x2="657.4" y2="1089.4" stroke="#000" stroke-width="1.7"/>
<line x1="657.4" y1="1060.6" x2="657.4" y2="1089.4" stroke="#000" stroke-width="1.7"/>
<line x1="657.4" y1="1089.4" x2="657.4" y2="1118.2" stroke="#000" stroke-width="1.7"/>
<line x1="599.8" y1="1118.2" x2="628.6" y2="1118.2" stroke="#000" stroke-width="1.7"/>
<line x1="628.6" y1="1118.2" x2="657.4" y2="1118.2" stroke="#000" stroke-width="1.7"/>
<line x1="628.6" y1="1089.4" x2="599.8" y2="1118.2" stroke="#000" stroke-width="1.7"/>
<line x1="628.6" y1="1089.4" x2="628.6" y2="1118.2" stroke="#000" stroke-width="1.7"/>
<line x1="628.6" y1="1089.4" x2="657.4" y2="1118.2" stroke="#000" stroke-width="1.7"/>
<line x1="628.6" y1="1118.2" x2="830.3" y2="1319.9" stroke="#000" stroke-width="3.2"/>
<line x1="657.4" y1="1118.2" x2="859.1" y2="1319.9" stroke="#000" stroke-width="3.2"/>
<line x1="398.1" y1="253.9" x2="628.6" y2="253.9" stroke="#000" stroke-width="1.7"/>
<line x1="628.6" y1="253.9" x2="859.1" y2="253.9" stroke="#000" stroke-width="1.7"/>
<line x1="830.3" y1="23.4" x2="859.1" y2="52.2" stroke="#000" stroke-width="1.7"/>
<line x1="859.1" y1="52.2" x2="859.1" y2="138.6" stroke="#000" stroke-width="1.7"/>
<line x1="859.1" y1="138.6" x2="859.1" y2="167.4" stroke="#000" stroke-width="1.7"/>
<line x1="830.3" y1="138.6" x2="830.3" y2="167.4" stroke="#000" stroke-width="1.7"/>
<line x1="830.3" y1="138.6" x2="859.1" y2="167.4" stroke="#000" stroke-width="1.7"/>
<line x1="859.1" y1="138.6" x2="887.9" y2="167.4" stroke="#000" stroke-width="1.7"/>
<line x1="887.9" y1="167.4" x2="916.7" y2="167.4" stroke="#000" stroke-width="1.7"/>
<line x1="916.7" y1="167.4" x2="1060.8" y2="311.5" stroke="#000" stroke-width="1.7"/>
<line x1="887.9" y1="167.4" x2="859.1" y2="196.3" stroke="#000" stroke-width="1.7"/>
<line x1="859.1" y1="196.3" x2="887.9" y2="196.3" stroke="#000" stroke-width="1.7"/>
<line x1="887.9" y1="196.3" x2="916.7" y2="167.4" stroke="#000" stroke-width="1.7"/>
<line x1="887.9" y1="167.4" x2="887.9" y2="196.3" stroke="#000" stroke-width="1.7"/>
<line x1="887.9" y1="196.3" x2="887.9" y2="225.1" stroke="#000" stroke-width="1.7"/>
<line x1="887.9" y1="225.1" x2="887.9" y2="253.9" stroke="#000" stroke-width="1.7"/>
<line x1="887.9" y1="253.9" x2="916.7" y2="253.9" stroke="#000" stroke-width="1.7"/>
<line x1="830.3" y1="196.3" x2="859.1" y2="196.3" stroke="#000" stroke-width="1.7"/>
<line x1="887.9" y1="196.3" x2="859.1" y2="225.1" stroke="#000" stroke-width="1.7"/>
<line x1="859.1" y1="225.1" x2="887.9" y2="253.9" stroke="#000" stroke-width="1.7"/>
<line x1="859.1" y1="196.3" x2="859.1" y2="225.1" stroke="#000" stroke-width="1.7"/>
<line x1="859.1" y1="225.1" x2="859.1" y2="253.9" stroke="#000" stroke-width="1.7"/>
<line x1="859.1" y1="253.9" x2="887.9" y2="225.1" stroke="#000" stroke-width="1.7"/>
<line x1="859.1" y1="196.3" x2="887.9" y2="225.1" stroke="#000" stroke-width="1.7"/>
<line x1="887.9" y1="225.1" x2="859.1" y2="225.1" stroke="#000" stroke-width="1.7"/>
<line x1="859.1" y1="253.9" x2="887.9" y2="253.9" stroke="#000" stroke-width="1.7"/>
<line x1="916.7" y1="253.9" x2="1089.6" y2="81.0" stroke="#000" stroke-width="1.7"/>
<line x1="859.1" y1="253.9" x2="859.1" y2="282.7" stroke="#000" stroke-width="1.7"/>
<line x1="859.1" y1="282.7" x2="830.3" y2="311.5" stroke="#000" stroke-width="1.7"/>
<line x1="830.3" y1="311.5" x2="830.3" y2="801.3" stroke="#000" stroke-width="1.7"/>
<line x1="830.3" y1="801.3" x2="801.5" y2="830.1" stroke="#000" stroke-width="1.7"/>
<line x1="916.7" y1="253.9" x2="916.7" y2="282.7" stroke="#000" stroke-width="1.7"/>
<line x1="916.7" y1="282.7" x2="887.9" y2="282.7" stroke="#000" stroke-width="1.7"/>
<line x1="887.9" y1="282.7" x2="916.7" y2="253.9" stroke="#000" stroke-width="1.7"/>
<line x1="887.9" y1="282.7" x2="887.9" y2="311.5" stroke="#000" stroke-width="1.7"/>
<line x1="887.9" y1="311.5" x2="916.7" y2="340.3" stroke="#000" stroke-width="1.7"/>
<line x1="916.7" y1="340.3" x2="916.7" y2="369.1" stroke="#000" stroke-width="1.7"/>
<line x1="916.7" y1="369.1" x2="887.9" y2="397.9" stroke="#000" stroke-width="1.7"/>
<line x1="887.9" y1="397.9" x2="916.7" y2="397.9" stroke="#000" stroke-width="1.7"/>
<line x1="916.7" y1="282.7" x2="916.7" y2="311.5" stroke="#000" stroke-width="1.7"/>
<line x1="916.7" y1="311.5" x2="887.9" y2="340.3" stroke="#000" stroke-width="1.7"/>
<line x1="887.9" y1="340.3" x2="916.7" y2="369.1" stroke="#000" stroke-width="1.7"/>
<line x1="887.9" y1="282.7" x2="916.7" y2="311.5" stroke="#000" stroke-width="1.7"/>
<line x1="916.7" y1="311.5" x2="887.9" y2="311.5" stroke="#000" stroke-width="1.7"/>
<line x1="887.9" y1="311.5" x2="887.9" y2="340.3" stroke="#000" stroke-width="1.7"/>
<line x1="887.9" y1="340.3" x2="887.9" y2="369.1" stroke="#000" stroke-width="1.7"/>
<line x1="887.9" y1="369.1" x2="887.9" y2="397.9" stroke="#000" stroke-width="1.7"/>
<line x1="916.7" y1="282.7" x2="887.9" y2="311.5" stroke="#000" stroke-width="1.7"/>
<line x1="916.7" y1="340.3" x2="887.9" y2="369.1" stroke="#000" stroke-width="1.7"/>
<line x1="887.9" y1="369.1" x2="916.7" y2="369.1" stroke="#000" stroke-width="1.7"/>
<line x1="916.7" y1="311.5" x2="916.7" y2="340.3" stroke="#000" stroke-width="1.7"/>
<line x1="916.7" y1="340.3" x2="887.9" y2="340.3" stroke="#000" stroke-width="1.7"/>
<line x1="916.7" y1="282.7" x2="916.7" y2="369.1" stroke="#000" stroke-width="1.7"/>
<line x1="1031.9" y1="52.2" x2="1008.9" y2="75.3" stroke="#000" stroke-width="3.2" marker-end="url(#ahT)"/>
<line x1="1031.9" y1="52.2" x2="1060.8" y2="81.0" stroke="#000" stroke-width="1.7"/>
<line x1="1060.8" y1="52.2" x2="1060.8" y2="81.0" stroke="#000" stroke-width="3.2"/>
<line x1="1060.8" y1="52.2" x2="1089.6" y2="81.0" stroke="#000" stroke-width="1.7"/>
<line x1="1089.6" y1="81.0" x2="1089.6" y2="138.6" stroke="#000" stroke-width="3.2"/>
<line x1="1089.6" y1="138.6" x2="1089.6" y2="167.4" stroke="#000" stroke-width="3.2"/>
<line x1="1089.6" y1="167.4" x2="1118.4" y2="138.6" stroke="#000" stroke-width="1.7"/>
<line x1="1118.4" y1="138.6" x2="1147.2" y2="138.6" stroke="#000" stroke-width="1.7"/>
<line x1="1147.2" y1="138.6" x2="1176.0" y2="109.8" stroke="#000" stroke-width="1.7"/>
<line x1="1176.0" y1="109.8" x2="1262.4" y2="109.8" stroke="#000" stroke-width="1.7"/>
<line x1="1176.0" y1="109.8" x2="1176.0" y2="159.3" stroke="#000" stroke-width="1.7" marker-end="url(#ah)"/>
<line x1="1089.6" y1="167.4" x2="1118.4" y2="167.4" stroke="#000" stroke-width="1.7"/>
<line x1="1118.4" y1="167.4" x2="1147.2" y2="167.4" stroke="#000" stroke-width="1.7"/>
<line x1="1176.0" y1="167.4" x2="1204.8" y2="167.4" stroke="#000" stroke-width="1.7" stroke-dasharray="3,2"/>
<line x1="1204.8" y1="138.6" x2="1204.8" y2="167.4" stroke="#000" stroke-width="1.7"/>
<line x1="1204.8" y1="138.6" x2="1233.6" y2="138.6" stroke="#000" stroke-width="3.2"/>
<line x1="1089.6" y1="167.4" x2="1147.2" y2="225.1" stroke="#000" stroke-width="1.7"/>
<line x1="1147.2" y1="225.1" x2="1118.4" y2="253.9" stroke="#000" stroke-width="1.7"/>
<line x1="1147.2" y1="225.1" x2="1147.2" y2="253.9" stroke="#000" stroke-width="3.2"/>
<line x1="1147.2" y1="253.9" x2="1147.2" y2="282.7" stroke="#000" stroke-width="1.7"/>
<line x1="1147.2" y1="282.7" x2="1118.4" y2="282.7" stroke="#000" stroke-width="1.7"/>
<line x1="1118.4" y1="282.7" x2="1147.2" y2="253.9" stroke="#000" stroke-width="1.7"/>
<line x1="1089.6" y1="282.7" x2="1060.8" y2="311.5" stroke="#000" stroke-width="1.7"/>
<line x1="1060.8" y1="311.5" x2="1060.8" y2="340.3" stroke="#000" stroke-width="1.7"/>
<line x1="1060.8" y1="340.3" x2="1060.8" y2="369.1" stroke="#000" stroke-width="1.7"/>
<line x1="1118.4" y1="282.7" x2="1118.4" y2="311.5" stroke="#000" stroke-width="1.7"/>
<line x1="1118.4" y1="311.5" x2="1118.4" y2="340.3" stroke="#000" stroke-width="1.7"/>
<line x1="1118.4" y1="340.3" x2="1118.4" y2="369.1" stroke="#000" stroke-width="1.7"/>
<line x1="1147.2" y1="282.7" x2="1147.2" y2="311.5" stroke="#000" stroke-width="1.7"/>
<line x1="1147.2" y1="311.5" x2="1147.2" y2="340.3" stroke="#000" stroke-width="1.7"/>
<line x1="1147.2" y1="340.3" x2="1147.2" y2="369.1" stroke="#000" stroke-width="1.7"/>
<line x1="1176.0" y1="311.5" x2="1176.0" y2="340.3" stroke="#000" stroke-width="1.7"/>
<line x1="1176.0" y1="340.3" x2="1147.2" y2="369.1" stroke="#000" stroke-width="1.7"/>
<line x1="1118.4" y1="282.7" x2="1147.2" y2="311.5" stroke="#000" stroke-width="1.7"/>
<line x1="1147.2" y1="311.5" x2="1176.0" y2="340.3" stroke="#000" stroke-width="1.7"/>
<line x1="1147.2" y1="282.7" x2="1176.0" y2="311.5" stroke="#000" stroke-width="1.7"/>
<line x1="1176.0" y1="311.5" x2="1204.8" y2="282.7" stroke="#000" stroke-width="1.7"/>
<line x1="1204.8" y1="282.7" x2="1233.6" y2="282.7" stroke="#000" stroke-width="1.7"/>
<line x1="1147.2" y1="282.7" x2="1118.4" y2="311.5" stroke="#000" stroke-width="1.7"/>
<line x1="1118.4" y1="311.5" x2="1147.2" y2="311.5" stroke="#000" stroke-width="1.7"/>
<line x1="1147.2" y1="311.5" x2="1176.0" y2="311.5" stroke="#000" stroke-width="1.7"/>
<line x1="1060.8" y1="311.5" x2="1089.6" y2="340.3" stroke="#000" stroke-width="1.7"/>
<line x1="1089.6" y1="340.3" x2="1118.4" y2="369.1" stroke="#000" stroke-width="1.7"/>
<line x1="1118.4" y1="311.5" x2="1089.6" y2="340.3" stroke="#000" stroke-width="1.7"/>
<line x1="1089.6" y1="340.3" x2="1060.8" y2="369.1" stroke="#000" stroke-width="1.7"/>
<line x1="1118.4" y1="311.5" x2="1147.2" y2="340.3" stroke="#000" stroke-width="1.7"/>
<line x1="1147.2" y1="311.5" x2="1118.4" y2="340.3" stroke="#000" stroke-width="1.7"/>
<line x1="1118.4" y1="340.3" x2="1089.6" y2="369.1" stroke="#000" stroke-width="1.7"/>
<line x1="1176.0" y1="311.5" x2="1147.2" y2="340.3" stroke="#000" stroke-width="1.7"/>
<line x1="1147.2" y1="340.3" x2="1118.4" y2="369.1" stroke="#000" stroke-width="1.7"/>
<line x1="1089.6" y1="340.3" x2="1089.6" y2="369.1" stroke="#000" stroke-width="1.7"/>
<line x1="1118.4" y1="340.3" x2="1147.2" y2="369.1" stroke="#000" stroke-width="1.7"/>
<line x1="1060.8" y1="340.3" x2="1089.6" y2="340.3" stroke="#000" stroke-width="1.7"/>
<line x1="1089.6" y1="340.3" x2="1118.4" y2="340.3" stroke="#000" stroke-width="1.7"/>
<line x1="1118.4" y1="340.3" x2="1147.2" y2="340.3" stroke="#000" stroke-width="1.7"/>
<line x1="1147.2" y1="340.3" x2="1176.0" y2="340.3" stroke="#000" stroke-width="1.7"/>
<line x1="1060.8" y1="369.1" x2="1089.6" y2="369.1" stroke="#000" stroke-width="1.7"/>
<line x1="1089.6" y1="369.1" x2="1118.4" y2="369.1" stroke="#000" stroke-width="1.7"/>
<line x1="1118.4" y1="369.1" x2="1147.2" y2="369.1" stroke="#000" stroke-width="1.7"/>
<line x1="1089.6" y1="426.7" x2="1147.2" y2="369.1" stroke="#000" stroke-width="1.7"/>
<line x1="1096.0" y1="414.6" x2="1101.7" y2="420.3" stroke="#000" stroke-width="1.3"/>
<line x1="1098.2" y1="412.5" x2="1103.8" y2="418.1" stroke="#000" stroke-width="1.3"/>
<line x1="1003.1" y1="455.5" x2="1031.9" y2="455.5" stroke="#000" stroke-width="1.7"/>
<line x1="1003.1" y1="455.5" x2="974.3" y2="484.4" stroke="#000" stroke-width="1.7"/>
<line x1="974.3" y1="484.4" x2="945.5" y2="484.4" stroke="#000" stroke-width="1.7"/>
<line x1="945.5" y1="484.4" x2="916.7" y2="484.4" stroke="#000" stroke-width="1.7"/>
<line x1="916.7" y1="484.4" x2="887.9" y2="513.2" stroke="#000" stroke-width="1.7"/>
<line x1="887.9" y1="513.2" x2="887.9" y2="542.0" stroke="#000" stroke-width="1.7"/>
<line x1="887.9" y1="542.0" x2="859.1" y2="542.0" stroke="#000" stroke-width="1.7"/>
<line x1="859.1" y1="542.0" x2="801.5" y2="599.6" stroke="#000" stroke-width="1.7"/>
<line x1="974.3" y1="484.4" x2="945.5" y2="513.2" stroke="#000" stroke-width="1.7"/>
<line x1="945.5" y1="513.2" x2="1003.1" y2="570.8" stroke="#000" stroke-width="1.7"/>
<line x1="1003.1" y1="570.8" x2="974.3" y2="599.6" stroke="#000" stroke-width="1.7"/>
<line x1="974.3" y1="599.6" x2="945.5" y2="599.6" stroke="#000" stroke-width="1.7"/>
<line x1="945.5" y1="599.6" x2="859.1" y2="599.6" stroke="#000" stroke-width="1.7"/>
<line x1="974.3" y1="484.4" x2="1031.9" y2="542.0" stroke="#000" stroke-width="1.7"/>
<line x1="1031.9" y1="542.0" x2="1003.1" y2="570.8" stroke="#000" stroke-width="1.7"/>
<line x1="1003.1" y1="570.8" x2="1003.1" y2="599.6" stroke="#000" stroke-width="1.7"/>
<line x1="1003.1" y1="599.6" x2="974.3" y2="599.6" stroke="#000" stroke-width="1.7"/>
<line x1="1031.9" y1="542.0" x2="1060.8" y2="570.8" stroke="#000" stroke-width="1.7"/>
<line x1="1003.1" y1="570.8" x2="1031.9" y2="599.6" stroke="#000" stroke-width="3.2"/>
<line x1="859.1" y1="513.2" x2="887.9" y2="513.2" stroke="#000" stroke-width="1.7"/>
<line x1="871.9" y1="509.2" x2="871.9" y2="517.2" stroke="#000" stroke-width="1.3"/>
<line x1="875.1" y1="509.2" x2="875.1" y2="517.2" stroke="#000" stroke-width="1.3"/>
<line x1="859.1" y1="599.6" x2="887.9" y2="628.4" stroke="#000" stroke-width="3.2"/>
<line x1="887.9" y1="542.0" x2="887.9" y2="830.1" stroke="#000" stroke-width="1.7"/>
<line x1="974.3" y1="686.0" x2="1003.1" y2="686.0" stroke="#000" stroke-width="1.7"/>
<line x1="1003.1" y1="686.0" x2="1031.9" y2="714.8" stroke="#000" stroke-width="1.7"/>
<line x1="1031.9" y1="714.8" x2="1003.1" y2="714.8" stroke="#000" stroke-width="1.7"/>
<line x1="1003.1" y1="714.8" x2="974.3" y2="743.6" stroke="#000" stroke-width="1.7"/>
<line x1="1003.1" y1="686.0" x2="1003.1" y2="714.8" stroke="#000" stroke-width="3.2"/>
<line x1="1031.9" y1="686.0" x2="1060.8" y2="686.0" stroke="#000" stroke-width="1.7"/>
<line x1="1060.8" y1="686.0" x2="1089.6" y2="686.0" stroke="#000" stroke-width="1.7"/>
<line x1="1031.9" y1="686.0" x2="1055.0" y2="663.0" stroke="#000" stroke-width="3.2" marker-end="url(#ahT)"/>
<line x1="1089.6" y1="686.0" x2="1066.5" y2="663.0" stroke="#000" stroke-width="3.2" marker-end="url(#ahT)"/>
<line x1="1060.8" y1="657.2" x2="1060.8" y2="686.0" stroke="#000" stroke-width="3.2"/>
<line x1="1060.8" y1="686.0" x2="1060.8" y2="714.8" stroke="#000" stroke-width="3.2"/>
<line x1="1060.8" y1="714.8" x2="1060.8" y2="743.6" stroke="#000" stroke-width="3.2"/>
<line x1="1031.9" y1="686.0" x2="1031.9" y2="714.8" stroke="#000" stroke-width="3.2"/>
<line x1="1031.9" y1="714.8" x2="1031.9" y2="743.6" stroke="#000" stroke-width="3.2"/>
<line x1="1089.6" y1="686.0" x2="1089.6" y2="714.8" stroke="#000" stroke-width="3.2"/>
<line x1="1089.6" y1="714.8" x2="1089.6" y2="743.6" stroke="#000" stroke-width="3.2"/>
<line x1="1031.9" y1="714.8" x2="1060.8" y2="714.8" stroke="#000" stroke-width="1.7"/>
<line x1="1060.8" y1="714.8" x2="1089.6" y2="714.8" stroke="#000" stroke-width="1.7"/>
<line x1="1060.8" y1="743.6" x2="1089.6" y2="743.6" stroke="#000" stroke-width="1.7"/>
<line x1="1089.6" y1="743.6" x2="1118.4" y2="743.6" stroke="#000" stroke-width="1.7"/>
<line x1="1118.4" y1="743.6" x2="1147.2" y2="772.5" stroke="#000" stroke-width="1.7"/>
<line x1="1031.9" y1="743.6" x2="1003.1" y2="772.5" stroke="#000" stroke-width="1.7"/>
<line x1="1060.8" y1="801.3" x2="1060.8" y2="858.9" stroke="#000" stroke-width="3.2"/>
<line x1="1060.8" y1="858.9" x2="1060.8" y2="916.5" stroke="#000" stroke-width="3.2"/>
<line x1="859.1" y1="772.5" x2="859.1" y2="858.9" stroke="#000" stroke-width="1.7"/>
<line x1="801.5" y1="858.9" x2="830.3" y2="858.9" stroke="#000" stroke-width="1.7"/>
<line x1="830.3" y1="858.9" x2="859.1" y2="858.9" stroke="#000" stroke-width="1.7"/>
<line x1="859.1" y1="858.9" x2="887.9" y2="830.1" stroke="#000" stroke-width="1.7"/>
<line x1="887.9" y1="830.1" x2="916.7" y2="858.9" stroke="#000" stroke-width="1.7"/>
<line x1="916.7" y1="858.9" x2="945.5" y2="887.7" stroke="#000" stroke-width="1.7"/>
<line x1="945.5" y1="887.7" x2="916.7" y2="916.5" stroke="#000" stroke-width="1.7"/>
<line x1="1089.6" y1="830.1" x2="1118.4" y2="830.1" stroke="#000" stroke-width="1.7"/>
<line x1="1118.4" y1="830.1" x2="1118.4" y2="858.9" stroke="#000" stroke-width="1.7"/>
<line x1="1118.4" y1="858.9" x2="1089.6" y2="887.7" stroke="#000" stroke-width="1.7"/>
<line x1="1089.6" y1="830.1" x2="1089.6" y2="887.7" stroke="#000" stroke-width="1.7"/>
<line x1="1089.6" y1="830.1" x2="1118.4" y2="858.9" stroke="#000" stroke-width="1.7"/>
<line x1="1118.4" y1="830.1" x2="1089.6" y2="858.9" stroke="#000" stroke-width="1.7"/>
<line x1="1089.6" y1="858.9" x2="1118.4" y2="858.9" stroke="#000" stroke-width="1.7"/>
<line x1="1176.0" y1="858.9" x2="1126.5" y2="858.9" stroke="#000" stroke-width="1.7" marker-end="url(#ah)"/>
<line x1="1147.2" y1="830.1" x2="1176.0" y2="858.9" stroke="#000" stroke-width="1.7"/>
<line x1="1176.0" y1="858.9" x2="1176.0" y2="916.5" stroke="#000" stroke-width="1.7"/>
<line x1="1176.0" y1="801.3" x2="1176.0" y2="830.1" stroke="#000" stroke-width="1.7"/>
<line x1="1176.0" y1="830.1" x2="1176.0" y2="858.9" stroke="#000" stroke-width="1.7"/>
<line x1="1176.0" y1="830.1" x2="1204.8" y2="858.9" stroke="#000" stroke-width="1.7"/>
<line x1="1176.0" y1="858.9" x2="1204.8" y2="830.1" stroke="#000" stroke-width="1.7"/>
<line x1="1118.4" y1="858.9" x2="1176.0" y2="916.5" stroke="#000" stroke-width="1.7"/>
<line x1="974.3" y1="858.9" x2="1003.1" y2="858.9" stroke="#000" stroke-width="1.7"/>
<line x1="1003.1" y1="858.9" x2="1031.9" y2="858.9" stroke="#000" stroke-width="1.7"/>
<line x1="974.3" y1="858.9" x2="945.5" y2="887.7" stroke="#000" stroke-width="1.7"/>
<line x1="1003.1" y1="858.9" x2="974.3" y2="887.7" stroke="#000" stroke-width="1.7"/>
<line x1="974.3" y1="887.7" x2="974.3" y2="916.5" stroke="#000" stroke-width="1.7"/>
<line x1="801.5" y1="887.7" x2="830.3" y2="887.7" stroke="#000" stroke-width="1.7"/>
<line x1="830.3" y1="887.7" x2="859.1" y2="887.7" stroke="#000" stroke-width="1.7"/>
<line x1="859.1" y1="887.7" x2="887.9" y2="887.7" stroke="#000" stroke-width="1.7"/>
<line x1="801.5" y1="858.9" x2="801.5" y2="887.7" stroke="#000" stroke-width="1.7"/>
<line x1="801.5" y1="887.7" x2="801.5" y2="945.3" stroke="#000" stroke-width="1.7"/>
<line x1="801.5" y1="945.3" x2="801.5" y2="1002.9" stroke="#000" stroke-width="1.7"/>
<line x1="830.3" y1="858.9" x2="830.3" y2="887.7" stroke="#000" stroke-width="1.7"/>
<line x1="859.1" y1="858.9" x2="859.1" y2="887.7" stroke="#000" stroke-width="1.7"/>
<line x1="801.5" y1="858.9" x2="830.3" y2="887.7" stroke="#000" stroke-width="1.7"/>
<line x1="830.3" y1="887.7" x2="859.1" y2="858.9" stroke="#000" stroke-width="1.7"/>
<line x1="859.1" y1="858.9" x2="887.9" y2="887.7" stroke="#000" stroke-width="1.7"/>
<line x1="830.3" y1="858.9" x2="801.5" y2="887.7" stroke="#000" stroke-width="1.7"/>
<line x1="830.3" y1="858.9" x2="859.1" y2="887.7" stroke="#000" stroke-width="1.7"/>
<line x1="801.5" y1="887.7" x2="824.5" y2="910.7" stroke="#000" stroke-width="3.2" marker-end="url(#ahT)"/>
<line x1="859.1" y1="887.7" x2="836.0" y2="910.7" stroke="#000" stroke-width="3.2" marker-end="url(#ahT)"/>
<line x1="830.3" y1="887.7" x2="830.3" y2="916.5" stroke="#000" stroke-width="3.2"/>
<line x1="830.3" y1="916.5" x2="830.3" y2="945.3" stroke="#000" stroke-width="3.2"/>
<line x1="1003.1" y1="887.7" x2="974.3" y2="916.5" stroke="#000" stroke-width="1.7"/>
<line x1="1118.4" y1="887.7" x2="1118.4" y2="1002.9" stroke="#000" stroke-width="3.2"/>
<line x1="1118.4" y1="887.7" x2="1060.8" y2="945.3" stroke="#000" stroke-width="1.7"/>
<line x1="1060.8" y1="945.3" x2="1060.8" y2="1002.9" stroke="#000" stroke-width="1.7"/>
<line x1="974.3" y1="916.5" x2="1003.1" y2="916.5" stroke="#000" stroke-width="1.7"/>
<line x1="1003.1" y1="916.5" x2="1031.9" y2="916.5" stroke="#000" stroke-width="1.7"/>
<line x1="1031.9" y1="916.5" x2="1060.8" y2="916.5" stroke="#000" stroke-width="1.7"/>
<line x1="974.3" y1="916.5" x2="945.5" y2="945.3" stroke="#000" stroke-width="1.7"/>
<line x1="945.5" y1="945.3" x2="945.5" y2="974.1" stroke="#000" stroke-width="1.7"/>
<line x1="945.5" y1="945.3" x2="887.9" y2="1002.9" stroke="#000" stroke-width="1.7"/>
<line x1="1176.0" y1="916.5" x2="1176.0" y2="945.3" stroke="#000" stroke-width="3.2"/>
<line x1="1176.0" y1="945.3" x2="1204.8" y2="916.5" stroke="#000" stroke-width="1.7"/>
<line x1="1176.0" y1="945.3" x2="1118.4" y2="1002.9" stroke="#000" stroke-width="1.7"/>
<line x1="859.1" y1="974.1" x2="887.9" y2="974.1" stroke="#000" stroke-width="1.7"/>
<line x1="859.1" y1="974.1" x2="882.1" y2="997.2" stroke="#000" stroke-width="3.2" marker-end="url(#ahT)"/>
<line x1="887.9" y1="974.1" x2="887.9" y2="1002.9" stroke="#000" stroke-width="3.2"/>
<line x1="945.5" y1="974.1" x2="945.5" y2="1023.6" stroke="#000" stroke-width="3.2" marker-end="url(#ahT)"/>
<line x1="945.5" y1="974.1" x2="974.3" y2="1002.9" stroke="#000" stroke-width="1.7"/>
<line x1="974.3" y1="1002.9" x2="951.3" y2="1026.0" stroke="#000" stroke-width="3.2" marker-end="url(#ahT)"/>
<line x1="974.3" y1="1002.9" x2="1118.4" y2="1147.0" stroke="#000" stroke-width="1.7"/>
<line x1="801.5" y1="1002.9" x2="830.3" y2="1031.8" stroke="#000" stroke-width="1.7"/>
<line x1="830.3" y1="1031.8" x2="801.5" y2="1060.6" stroke="#000" stroke-width="1.7"/>
<line x1="801.5" y1="1060.6" x2="801.5" y2="1118.2" stroke="#000" stroke-width="1.7"/>
<line x1="1176.0" y1="1002.9" x2="1176.0" y2="1031.8" stroke="#000" stroke-width="3.2"/>
<line x1="1176.0" y1="1031.8" x2="1176.0" y2="1060.6" stroke="#000" stroke-width="3.2"/>
<line x1="1176.0" y1="1031.8" x2="1204.8" y2="1002.9" stroke="#000" stroke-width="1.7"/>
<line x1="1060.8" y1="974.1" x2="1147.2" y2="1060.6" stroke="#000" stroke-width="1.7"/>
<line x1="1147.2" y1="1060.6" x2="1176.0" y2="1060.6" stroke="#000" stroke-width="1.7"/>
<line x1="1147.2" y1="1060.6" x2="1147.2" y2="1089.4" stroke="#000" stroke-width="1.7"/>
<line x1="1147.2" y1="1089.4" x2="1176.0" y2="1089.4" stroke="#000" stroke-width="1.7"/>
<line x1="1176.0" y1="1089.4" x2="1204.8" y2="1118.2" stroke="#000" stroke-width="1.7"/>
<line x1="1147.2" y1="1060.6" x2="1176.0" y2="1089.4" stroke="#000" stroke-width="1.7"/>
<line x1="1176.0" y1="1060.6" x2="1147.2" y2="1089.4" stroke="#000" stroke-width="1.7"/>
<line x1="1176.0" y1="1060.6" x2="1176.0" y2="1089.4" stroke="#000" stroke-width="1.7"/>
<line x1="1147.2" y1="1089.4" x2="1147.2" y2="1118.2" stroke="#000" stroke-width="1.7"/>
<line x1="801.5" y1="1118.2" x2="887.9" y2="1118.2" stroke="#000" stroke-width="1.7"/>
<line x1="887.9" y1="1118.2" x2="945.5" y2="1118.2" stroke="#000" stroke-width="1.7"/>
<line x1="945.5" y1="1118.2" x2="974.3" y2="1147.0" stroke="#000" stroke-width="1.7"/>
<line x1="945.5" y1="1089.4" x2="945.5" y2="1118.2" stroke="#000" stroke-width="1.7"/>
<line x1="887.9" y1="1118.2" x2="910.9" y2="1141.2" stroke="#000" stroke-width="3.2" marker-end="url(#ahT)"/>
<line x1="1118.4" y1="1118.2" x2="1118.4" y2="1147.0" stroke="#000" stroke-width="3.2"/>
<line x1="1118.4" y1="1118.2" x2="1147.2" y2="1147.0" stroke="#000" stroke-width="1.7"/>
<line x1="1147.2" y1="1118.2" x2="1118.4" y2="1147.0" stroke="#000" stroke-width="1.7"/>
<line x1="1147.2" y1="1118.2" x2="1147.2" y2="1147.0" stroke="#000" stroke-width="1.7"/>
<line x1="1147.2" y1="1147.0" x2="1118.4" y2="1175.8" stroke="#000" stroke-width="1.7"/>
<line x1="1118.4" y1="1175.8" x2="1147.2" y2="1175.8" stroke="#000" stroke-width="1.7"/>
<line x1="1147.2" y1="1147.0" x2="1147.2" y2="1175.8" stroke="#000" stroke-width="1.7"/>
<line x1="1147.2" y1="1175.8" x2="1176.0" y2="1204.6" stroke="#000" stroke-width="1.7"/>
<line x1="1164.4" y1="1187.4" x2="1158.8" y2="1193.0" stroke="#000" stroke-width="1.3"/>
<line x1="1089.6" y1="1204.6" x2="1118.4" y2="1204.6" stroke="#000" stroke-width="3.2"/>
<line x1="1118.4" y1="1204.6" x2="1147.2" y2="1204.6" stroke="#000" stroke-width="3.2"/>
<line x1="1147.2" y1="1204.6" x2="1176.0" y2="1204.6" stroke="#000" stroke-width="3.2"/>
<line x1="1089.6" y1="1204.6" x2="1118.4" y2="1233.4" stroke="#000" stroke-width="1.7"/>
<line x1="1262.4" y1="81.0" x2="1262.4" y2="109.8" stroke="#000" stroke-width="3.2"/>
<line x1="1262.4" y1="109.8" x2="1262.4" y2="138.6" stroke="#000" stroke-width="3.2"/>
<line x1="1262.4" y1="138.6" x2="1262.4" y2="167.4" stroke="#000" stroke-width="3.2"/>
<line x1="1262.4" y1="109.8" x2="1320.0" y2="109.8" stroke="#000" stroke-width="1.7"/>
<line x1="1320.0" y1="109.8" x2="1348.9" y2="109.8" stroke="#000" stroke-width="1.7"/>
<line x1="1320.0" y1="109.8" x2="1348.9" y2="138.6" stroke="#000" stroke-width="1.7"/>
<line x1="1348.9" y1="138.6" x2="1406.5" y2="196.3" stroke="#000" stroke-width="1.7"/>
<line x1="1406.5" y1="196.3" x2="1464.1" y2="253.9" stroke="#000" stroke-width="1.7"/>
<line x1="1348.9" y1="138.6" x2="1348.9" y2="167.4" stroke="#000" stroke-width="1.7"/>
<line x1="1348.9" y1="167.4" x2="1320.0" y2="196.3" stroke="#000" stroke-width="1.7"/>
<line x1="1348.9" y1="167.4" x2="1406.5" y2="225.1" stroke="#000" stroke-width="3.2"/>
<line x1="1406.5" y1="225.1" x2="1492.9" y2="311.5" stroke="#000" stroke-width="3.2"/>
<line x1="1233.6" y1="282.7" x2="1233.6" y2="311.5" stroke="#000" stroke-width="1.7"/>
<line x1="1237.6" y1="297.1" x2="1229.6" y2="297.1" stroke="#000" stroke-width="1.3"/>
<line x1="1320.0" y1="311.5" x2="1297.0" y2="288.5" stroke="#000" stroke-width="1.7" marker-end="url(#ah)"/>
<line x1="1320.0" y1="311.5" x2="1320.0" y2="290.8" stroke="#000" stroke-width="1.7" marker-end="url(#ah)"/>
<line x1="1320.0" y1="311.5" x2="1343.1" y2="288.5" stroke="#000" stroke-width="1.7" marker-end="url(#ah)"/>
<line x1="1320.0" y1="311.5" x2="1299.4" y2="311.5" stroke="#000" stroke-width="1.7" marker-end="url(#ah)"/>
<line x1="1320.0" y1="311.5" x2="1297.0" y2="334.5" stroke="#000" stroke-width="1.7" marker-end="url(#ah)"/>
<line x1="1320.0" y1="311.5" x2="1320.0" y2="361.0" stroke="#000" stroke-width="1.7" marker-end="url(#ah)"/>
<line x1="1320.0" y1="311.5" x2="1406.5" y2="311.5" stroke="#000" stroke-width="1.7"/>
<line x1="1406.5" y1="311.5" x2="1383.4" y2="288.5" stroke="#000" stroke-width="1.7" marker-end="url(#ah)"/>
<line x1="1406.5" y1="311.5" x2="1429.5" y2="288.5" stroke="#000" stroke-width="1.7" marker-end="url(#ah)"/>
<line x1="1406.5" y1="311.5" x2="1369.0" y2="349.0" stroke="#000" stroke-width="1.7" marker-end="url(#ah)"/>
<line x1="1406.5" y1="311.5" x2="1406.5" y2="397.9" stroke="#000" stroke-width="1.7"/>
<line x1="1406.5" y1="397.9" x2="1492.9" y2="397.9" stroke="#000" stroke-width="1.7"/>
<line x1="1492.9" y1="397.9" x2="1579.3" y2="397.9" stroke="#000" stroke-width="1.7"/>
<line x1="1406.5" y1="311.5" x2="1492.9" y2="397.9" stroke="#000" stroke-width="1.7"/>
<line x1="1492.9" y1="397.9" x2="1492.9" y2="311.5" stroke="#000" stroke-width="1.7"/>
<line x1="1492.9" y1="311.5" x2="1406.5" y2="397.9" stroke="#000" stroke-width="1.7"/>
<line x1="1492.9" y1="311.5" x2="1516.0" y2="334.5" stroke="#000" stroke-width="1.7" marker-end="url(#ah)"/>
<line x1="1579.3" y1="311.5" x2="1556.3" y2="288.5" stroke="#000" stroke-width="1.7" marker-end="url(#ah)"/>
<line x1="1579.3" y1="311.5" x2="1579.3" y2="290.8" stroke="#000" stroke-width="1.7" marker-end="url(#ah)"/>
<line x1="1579.3" y1="311.5" x2="1602.4" y2="288.5" stroke="#000" stroke-width="1.7" marker-end="url(#ah)"/>
<line x1="1579.3" y1="311.5" x2="1558.7" y2="311.5" stroke="#000" stroke-width="1.7" marker-end="url(#ah)"/>
<line x1="1579.3" y1="311.5" x2="1600.0" y2="311.5" stroke="#000" stroke-width="1.7" marker-end="url(#ah)"/>
<line x1="1579.3" y1="311.5" x2="1579.3" y2="397.9" stroke="#000" stroke-width="1.7"/>
<line x1="1579.3" y1="311.5" x2="1492.9" y2="397.9" stroke="#000" stroke-width="1.7"/>
<line x1="1363.3" y1="354.7" x2="1406.5" y2="397.9" stroke="#000" stroke-width="1.7"/>
<line x1="1406.5" y1="397.9" x2="1383.4" y2="421.0" stroke="#000" stroke-width="1.7" marker-end="url(#ah)"/>
<line x1="1406.5" y1="397.9" x2="1449.7" y2="441.1" stroke="#000" stroke-width="1.7"/>
<line x1="1492.9" y1="397.9" x2="1455.5" y2="435.4" stroke="#000" stroke-width="1.7" marker-end="url(#ah)"/>
<line x1="1492.9" y1="397.9" x2="1536.1" y2="441.1" stroke="#000" stroke-width="1.7"/>
<line x1="1579.3" y1="397.9" x2="1541.9" y2="435.4" stroke="#000" stroke-width="1.7" marker-end="url(#ah)"/>
<line x1="1550.5" y1="369.1" x2="1579.3" y2="397.9" stroke="#000" stroke-width="1.7"/>
<line x1="1579.3" y1="397.9" x2="1600.0" y2="397.9" stroke="#000" stroke-width="1.7" marker-end="url(#ah)"/>
<line x1="1579.3" y1="397.9" x2="1579.3" y2="484.4" stroke="#000" stroke-width="1.7"/>
<line x1="1579.3" y1="484.4" x2="1541.9" y2="446.9" stroke="#000" stroke-width="1.7" marker-end="url(#ah)"/>
<line x1="1579.3" y1="484.4" x2="1602.4" y2="461.3" stroke="#000" stroke-width="1.7" marker-end="url(#ah)"/>
<line x1="1579.3" y1="484.4" x2="1558.7" y2="484.4" stroke="#000" stroke-width="1.7" marker-end="url(#ah)"/>
<line x1="1579.3" y1="484.4" x2="1608.1" y2="484.4" stroke="#000" stroke-width="1.7"/>
<line x1="1579.3" y1="484.4" x2="1556.3" y2="507.4" stroke="#000" stroke-width="1.7" marker-end="url(#ah)"/>
<line x1="1579.3" y1="484.4" x2="1579.3" y2="505.0" stroke="#000" stroke-width="1.7" marker-end="url(#ah)"/>
<line x1="1579.3" y1="484.4" x2="1602.4" y2="507.4" stroke="#000" stroke-width="1.7" marker-end="url(#ah)"/>
<line x1="1464.1" y1="642.8" x2="1464.1" y2="671.6" stroke="#000" stroke-width="1.7"/>
<line x1="1464.1" y1="671.6" x2="1435.3" y2="729.2" stroke="#000" stroke-width="3.2"/>
<line x1="1435.3" y1="729.2" x2="1412.2" y2="706.2" stroke="#000" stroke-width="1.7" marker-end="url(#ah)"/>
<line x1="1435.3" y1="729.2" x2="1435.3" y2="708.6" stroke="#000" stroke-width="1.7" marker-end="url(#ah)"/>
<line x1="1435.3" y1="729.2" x2="1458.3" y2="706.2" stroke="#000" stroke-width="1.7" marker-end="url(#ah)"/>
<line x1="1435.3" y1="729.2" x2="1414.6" y2="729.2" stroke="#000" stroke-width="1.7" marker-end="url(#ah)"/>
<line x1="1435.3" y1="729.2" x2="1455.9" y2="729.2" stroke="#000" stroke-width="1.7" marker-end="url(#ah)"/>
<line x1="1435.3" y1="729.2" x2="1458.3" y2="752.3" stroke="#000" stroke-width="1.7" marker-end="url(#ah)"/>
<line x1="1435.3" y1="729.2" x2="1397.8" y2="766.7" stroke="#000" stroke-width="1.7" marker-end="url(#ah)"/>
<line x1="1435.3" y1="729.2" x2="1435.3" y2="916.5" stroke="#000" stroke-width="1.7"/>
<line x1="1262.4" y1="801.3" x2="1262.4" y2="830.1" stroke="#000" stroke-width="1.7"/>
<line x1="1266.4" y1="815.7" x2="1258.4" y2="815.7" stroke="#000" stroke-width="1.3"/>
<line x1="1262.4" y1="830.1" x2="1291.2" y2="858.9" stroke="#000" stroke-width="1.7"/>
<line x1="1291.2" y1="858.9" x2="1291.2" y2="887.7" stroke="#000" stroke-width="1.7"/>
<line x1="1291.2" y1="887.7" x2="1320.0" y2="916.5" stroke="#000" stroke-width="1.7"/>
<line x1="1204.8" y1="830.1" x2="1204.8" y2="858.9" stroke="#000" stroke-width="3.2"/>
<line x1="1204.8" y1="858.9" x2="1204.8" y2="916.5" stroke="#000" stroke-width="3.2"/>
<line x1="1204.8" y1="858.9" x2="1233.6" y2="858.9" stroke="#000" stroke-width="1.7"/>
<line x1="1233.6" y1="858.9" x2="1233.6" y2="887.7" stroke="#000" stroke-width="1.7"/>
<line x1="1233.6" y1="887.7" x2="1262.4" y2="887.7" stroke="#000" stroke-width="1.7"/>
<line x1="1262.4" y1="887.7" x2="1291.2" y2="887.7" stroke="#000" stroke-width="1.7"/>
<line x1="1291.2" y1="887.7" x2="1392.1" y2="887.7" stroke="#000" stroke-width="1.7"/>
<line x1="1204.8" y1="858.9" x2="1233.6" y2="887.7" stroke="#000" stroke-width="1.7"/>
<line x1="1233.6" y1="858.9" x2="1262.4" y2="887.7" stroke="#000" stroke-width="1.7"/>
<line x1="1348.9" y1="858.9" x2="1291.2" y2="916.5" stroke="#000" stroke-width="1.7"/>
<line x1="1392.1" y1="844.5" x2="1325.8" y2="910.7" stroke="#000" stroke-width="1.7" marker-end="url(#ah)"/>
<line x1="1233.6" y1="887.7" x2="1233.6" y2="916.5" stroke="#000" stroke-width="1.7"/>
<line x1="1233.6" y1="916.5" x2="1233.6" y2="945.3" stroke="#000" stroke-width="1.7"/>
<line x1="1233.6" y1="945.3" x2="1233.6" y2="1031.8" stroke="#000" stroke-width="1.7"/>
<line x1="1233.6" y1="887.7" x2="1262.4" y2="916.5" stroke="#000" stroke-width="1.7"/>
<line x1="1262.4" y1="887.7" x2="1262.4" y2="916.5" stroke="#000" stroke-width="1.7"/>
<line x1="1291.2" y1="887.7" x2="1262.4" y2="916.5" stroke="#000" stroke-width="1.7"/>
<line x1="1233.6" y1="916.5" x2="1262.4" y2="916.5" stroke="#000" stroke-width="1.7"/>
<line x1="1262.4" y1="916.5" x2="1291.2" y2="916.5" stroke="#000" stroke-width="1.7"/>
<line x1="1291.2" y1="916.5" x2="1320.0" y2="916.5" stroke="#000" stroke-width="1.7"/>
<line x1="1233.6" y1="945.3" x2="1262.4" y2="916.5" stroke="#000" stroke-width="1.7"/>
<line x1="1262.4" y1="916.5" x2="1291.2" y2="945.3" stroke="#000" stroke-width="1.7"/>
<line x1="1291.2" y1="916.5" x2="1291.2" y2="945.3" stroke="#000" stroke-width="1.7"/>
<line x1="1291.2" y1="945.3" x2="1320.0" y2="945.3" stroke="#000" stroke-width="1.7"/>
<line x1="1320.0" y1="945.3" x2="1348.9" y2="974.1" stroke="#000" stroke-width="1.7"/>
<line x1="1320.0" y1="916.5" x2="1291.2" y2="945.3" stroke="#000" stroke-width="1.7"/>
<line x1="1320.0" y1="916.5" x2="1320.0" y2="945.3" stroke="#000" stroke-width="1.7"/>
<line x1="1291.2" y1="945.3" x2="1291.2" y2="974.1" stroke="#000" stroke-width="1.7"/>
<line x1="1291.2" y1="974.1" x2="1291.2" y2="1002.9" stroke="#000" stroke-width="1.7"/>
<line x1="1291.2" y1="1002.9" x2="1320.0" y2="1002.9" stroke="#000" stroke-width="1.7"/>
<line x1="1320.0" y1="974.1" x2="1320.0" y2="1002.9" stroke="#000" stroke-width="3.2"/>
<line x1="1320.0" y1="974.1" x2="1348.9" y2="1002.9" stroke="#000" stroke-width="1.7"/>
<line x1="1348.9" y1="1002.9" x2="1348.9" y2="1031.8" stroke="#000" stroke-width="3.2"/>
<line x1="1348.9" y1="1031.8" x2="1377.7" y2="1031.8" stroke="#000" stroke-width="1.7"/>
<line x1="1377.7" y1="1031.8" x2="1377.7" y2="1060.6" stroke="#000" stroke-width="3.2"/>
<line x1="1377.7" y1="1060.6" x2="1406.5" y2="1089.4" stroke="#000" stroke-width="1.7"/>
<line x1="1406.5" y1="1089.4" x2="1406.5" y2="1118.2" stroke="#000" stroke-width="3.2"/>
<line x1="1435.3" y1="916.5" x2="1464.1" y2="945.3" stroke="#000" stroke-width="1.7"/>
<line x1="1464.1" y1="945.3" x2="1435.3" y2="974.1" stroke="#000" stroke-width="1.7"/>
<line x1="1233.6" y1="1031.8" x2="1204.8" y2="1060.6" stroke="#000" stroke-width="1.7"/>
<line x1="1204.8" y1="1060.6" x2="1233.6" y2="1060.6" stroke="#000" stroke-width="1.7"/>
<line x1="1233.6" y1="1060.6" x2="1262.4" y2="1060.6" stroke="#000" stroke-width="1.7"/>
<line x1="1233.6" y1="1031.8" x2="1233.6" y2="1060.6" stroke="#000" stroke-width="1.7"/>
<line x1="1204.8" y1="1060.6" x2="1204.8" y2="1089.4" stroke="#000" stroke-width="1.7"/>
<line x1="1204.8" y1="1089.4" x2="1233.6" y2="1089.4" stroke="#000" stroke-width="1.7"/>
<line x1="1233.6" y1="1089.4" x2="1262.4" y2="1089.4" stroke="#000" stroke-width="1.7"/>
<line x1="1262.4" y1="1089.4" x2="1262.4" y2="1060.6" stroke="#000" stroke-width="1.7"/>
<line x1="1233.6" y1="1060.6" x2="1233.6" y2="1089.4" stroke="#000" stroke-width="1.7"/>
<line x1="1204.8" y1="1060.6" x2="1233.6" y2="1089.4" stroke="#000" stroke-width="1.7"/>
<line x1="1233.6" y1="1060.6" x2="1204.8" y2="1089.4" stroke="#000" stroke-width="1.7"/>
<line x1="1233.6" y1="1060.6" x2="1262.4" y2="1089.4" stroke="#000" stroke-width="1.7"/>
<line x1="1262.4" y1="1060.6" x2="1233.6" y2="1089.4" stroke="#000" stroke-width="1.7"/>
<line x1="1204.8" y1="1089.4" x2="1204.8" y2="1118.2" stroke="#000" stroke-width="1.7"/>
<line x1="1204.8" y1="1118.2" x2="1233.6" y2="1147.0" stroke="#000" stroke-width="1.7"/>
<line x1="1233.6" y1="1089.4" x2="1204.8" y2="1118.2" stroke="#000" stroke-width="1.7"/>
<line x1="1262.4" y1="1089.4" x2="1291.2" y2="1118.2" stroke="#000" stroke-width="1.7"/>
<line x1="1291.2" y1="1118.2" x2="1320.0" y2="1147.0" stroke="#000" stroke-width="1.7"/>
<line x1="1291.2" y1="1089.4" x2="1291.2" y2="1118.2" stroke="#000" stroke-width="3.2"/>
<line x1="1233.6" y1="1147.0" x2="1204.8" y2="1175.8" stroke="#000" stroke-width="3.2"/>
<line x1="1204.8" y1="1175.8" x2="1233.6" y2="1204.6" stroke="#000" stroke-width="1.7"/>
<line x1="1233.6" y1="1204.6" x2="1262.4" y2="1204.6" stroke="#000" stroke-width="1.7"/>
<line x1="1233.6" y1="1204.6" x2="1176.0" y2="1262.2" stroke="#000" stroke-width="1.7"/>
<line x1="1492.9" y1="1060.6" x2="1521.7" y2="1060.6" stroke="#000" stroke-width="1.7"/>
<line x1="1521.7" y1="1060.6" x2="1521.7" y2="1089.4" stroke="#000" stroke-width="1.7"/>
<line x1="1521.7" y1="1089.4" x2="1464.1" y2="1147.0" stroke="#000" stroke-width="1.7"/>
<line x1="1464.1" y1="1147.0" x2="1406.5" y2="1204.6" stroke="#000" stroke-width="1.7"/>
<line x1="1406.5" y1="1204.6" x2="1435.3" y2="1204.6" stroke="#000" stroke-width="3.2"/>
<line x1="1406.5" y1="1204.6" x2="1406.5" y2="1233.4" stroke="#000" stroke-width="1.7"/>
<line x1="1406.5" y1="1233.4" x2="1435.3" y2="1233.4" stroke="#000" stroke-width="1.7"/>
<line x1="1435.3" y1="1233.4" x2="1464.1" y2="1233.4" stroke="#000" stroke-width="1.7"/>
<line x1="1464.1" y1="1233.4" x2="1435.3" y2="1262.2" stroke="#000" stroke-width="3.2"/>
<line x1="1435.3" y1="1262.2" x2="1464.1" y2="1262.2" stroke="#000" stroke-width="1.7"/>
<line x1="1464.1" y1="1262.2" x2="1492.9" y2="1262.2" stroke="#000" stroke-width="1.7"/>
<line x1="1492.9" y1="1262.2" x2="1521.7" y2="1262.2" stroke="#000" stroke-width="1.7"/>
<line x1="1406.5" y1="1233.4" x2="1320.0" y2="1319.9" stroke="#000" stroke-width="1.7"/>
<line x1="1320.0" y1="1319.9" x2="1147.2" y2="1492.7" stroke="#000" stroke-width="1.7"/>
<line x1="1060.8" y1="1233.4" x2="1089.6" y2="1262.2" stroke="#000" stroke-width="1.7"/>
<line x1="1089.6" y1="1262.2" x2="1118.4" y2="1291.0" stroke="#000" stroke-width="1.7"/>
<line x1="1118.4" y1="1291.0" x2="1147.2" y2="1291.0" stroke="#000" stroke-width="1.7"/>
<line x1="1147.2" y1="1291.0" x2="1176.0" y2="1262.2" stroke="#000" stroke-width="1.7"/>
<line x1="1176.0" y1="1262.2" x2="1147.2" y2="1262.2" stroke="#000" stroke-width="1.7"/>
<line x1="1147.2" y1="1262.2" x2="1118.4" y2="1291.0" stroke="#000" stroke-width="1.7"/>
<line x1="1147.2" y1="1262.2" x2="1147.2" y2="1291.0" stroke="#000" stroke-width="1.7"/>
<line x1="1118.4" y1="1291.0" x2="1118.4" y2="1319.9" stroke="#000" stroke-width="1.7"/>
<line x1="1118.4" y1="1319.9" x2="1089.6" y2="1319.9" stroke="#000" stroke-width="1.7"/>
<line x1="1089.6" y1="1319.9" x2="1089.6" y2="1348.7" stroke="#000" stroke-width="1.7"/>
<line x1="1089.6" y1="1348.7" x2="1089.6" y2="1377.5" stroke="#000" stroke-width="1.7"/>
<line x1="1089.6" y1="1377.5" x2="1089.6" y2="1406.3" stroke="#000" stroke-width="1.7"/>
<line x1="1089.6" y1="1406.3" x2="1060.8" y2="1435.1" stroke="#000" stroke-width="1.7"/>
<line x1="1147.2" y1="1291.0" x2="1118.4" y2="1319.9" stroke="#000" stroke-width="1.7"/>
<line x1="1118.4" y1="1319.9" x2="1147.2" y2="1348.7" stroke="#000" stroke-width="1.7"/>
<line x1="1147.2" y1="1348.7" x2="1176.0" y2="1377.5" stroke="#000" stroke-width="1.7"/>
<line x1="1147.2" y1="1291.0" x2="1176.0" y2="1319.9" stroke="#000" stroke-width="1.7"/>
<line x1="1176.0" y1="1319.9" x2="1204.8" y2="1319.9" stroke="#000" stroke-width="1.7"/>
<line x1="1176.0" y1="1319.9" x2="1176.0" y2="1348.7" stroke="#000" stroke-width="3.2"/>
<line x1="1089.6" y1="1348.7" x2="1060.8" y2="1377.5" stroke="#000" stroke-width="1.7"/>
<line x1="1060.8" y1="1377.5" x2="1089.6" y2="1377.5" stroke="#000" stroke-width="1.7"/>
<line x1="1060.8" y1="1377.5" x2="1060.8" y2="1406.3" stroke="#000" stroke-width="1.7"/>
<line x1="1060.8" y1="1406.3" x2="1089.6" y2="1406.3" stroke="#000" stroke-width="1.7"/>
<line x1="1060.8" y1="1377.5" x2="1089.6" y2="1406.3" stroke="#000" stroke-width="1.7"/>
<line x1="1060.8" y1="1406.3" x2="1060.8" y2="1435.1" stroke="#000" stroke-width="1.7"/>
<line x1="916.7" y1="1377.5" x2="945.5" y2="1377.5" stroke="#000" stroke-width="1.7"/>
<line x1="1031.9" y1="1377.5" x2="1060.8" y2="1377.5" stroke="#000" stroke-width="1.7"/>
<line x1="945.5" y1="1406.3" x2="974.3" y2="1406.3" stroke="#000" stroke-width="1.7"/>
<line x1="974.3" y1="1406.3" x2="1003.1" y2="1406.3" stroke="#000" stroke-width="1.7"/>
<line x1="1003.1" y1="1406.3" x2="1031.9" y2="1406.3" stroke="#000" stroke-width="1.7"/>
<line x1="1031.9" y1="1406.3" x2="1060.8" y2="1406.3" stroke="#000" stroke-width="1.7"/>
<line x1="974.3" y1="1435.1" x2="1003.1" y2="1435.1" stroke="#000" stroke-width="1.7"/>
<line x1="1003.1" y1="1435.1" x2="1031.9" y2="1435.1" stroke="#000" stroke-width="1.7"/>
<line x1="1031.9" y1="1435.1" x2="1060.8" y2="1435.1" stroke="#000" stroke-width="1.7"/>
<line x1="974.3" y1="1463.9" x2="1003.1" y2="1463.9" stroke="#000" stroke-width="1.7"/>
<line x1="1003.1" y1="1463.9" x2="1031.9" y2="1463.9" stroke="#000" stroke-width="1.7"/>
<line x1="1031.9" y1="1463.9" x2="1060.8" y2="1463.9" stroke="#000" stroke-width="1.7"/>
<line x1="1060.8" y1="1463.9" x2="1089.6" y2="1463.9" stroke="#000" stroke-width="1.7"/>
<line x1="945.5" y1="1492.7" x2="974.3" y2="1492.7" stroke="#000" stroke-width="1.7"/>
<line x1="974.3" y1="1492.7" x2="1003.1" y2="1492.7" stroke="#000" stroke-width="1.7"/>
<line x1="1003.1" y1="1492.7" x2="1031.9" y2="1492.7" stroke="#000" stroke-width="1.7"/>
<line x1="1031.9" y1="1492.7" x2="1060.8" y2="1492.7" stroke="#000" stroke-width="1.7"/>
<line x1="916.7" y1="1521.5" x2="945.5" y2="1521.5" stroke="#000" stroke-width="1.7"/>
<line x1="945.5" y1="1521.5" x2="974.3" y2="1521.5" stroke="#000" stroke-width="1.7"/>
<line x1="974.3" y1="1521.5" x2="1003.1" y2="1521.5" stroke="#000" stroke-width="1.7"/>
<line x1="1003.1" y1="1521.5" x2="1031.9" y2="1521.5" stroke="#000" stroke-width="1.7"/>
<line x1="1031.9" y1="1521.5" x2="1060.8" y2="1521.5" stroke="#000" stroke-width="1.7"/>
<line x1="1118.4" y1="1521.5" x2="1147.2" y2="1521.5" stroke="#000" stroke-width="1.7"/>
<line x1="801.5" y1="1550.3" x2="830.3" y2="1550.3" stroke="#000" stroke-width="1.7"/>
<line x1="830.3" y1="1550.3" x2="887.9" y2="1550.3" stroke="#000" stroke-width="1.7"/>
<line x1="887.9" y1="1550.3" x2="916.7" y2="1550.3" stroke="#000" stroke-width="1.7"/>
<line x1="916.7" y1="1550.3" x2="945.5" y2="1550.3" stroke="#000" stroke-width="1.7"/>
<line x1="945.5" y1="1550.3" x2="974.3" y2="1550.3" stroke="#000" stroke-width="1.7"/>
<line x1="974.3" y1="1550.3" x2="1003.1" y2="1550.3" stroke="#000" stroke-width="1.7"/>
<line x1="1003.1" y1="1550.3" x2="1031.9" y2="1550.3" stroke="#000" stroke-width="1.7"/>
<line x1="1031.9" y1="1550.3" x2="1060.8" y2="1550.3" stroke="#000" stroke-width="1.7"/>
<line x1="1060.8" y1="1550.3" x2="1089.6" y2="1550.3" stroke="#000" stroke-width="1.7"/>
<line x1="1089.6" y1="1550.3" x2="1118.4" y2="1550.3" stroke="#000" stroke-width="1.7"/>
<line x1="1118.4" y1="1550.3" x2="1147.2" y2="1550.3" stroke="#000" stroke-width="1.7"/>
<line x1="859.1" y1="1579.1" x2="887.9" y2="1579.1" stroke="#000" stroke-width="1.7"/>
<line x1="887.9" y1="1579.1" x2="916.7" y2="1579.1" stroke="#000" stroke-width="1.7"/>
<line x1="916.7" y1="1579.1" x2="945.5" y2="1579.1" stroke="#000" stroke-width="1.7"/>
<line x1="945.5" y1="1579.1" x2="974.3" y2="1579.1" stroke="#000" stroke-width="1.7"/>
<line x1="974.3" y1="1579.1" x2="1003.1" y2="1579.1" stroke="#000" stroke-width="1.7"/>
<line x1="1003.1" y1="1579.1" x2="1031.9" y2="1579.1" stroke="#000" stroke-width="1.7"/>
<line x1="1031.9" y1="1579.1" x2="1060.8" y2="1579.1" stroke="#000" stroke-width="1.7"/>
<line x1="1060.8" y1="1579.1" x2="1089.6" y2="1579.1" stroke="#000" stroke-width="1.7"/>
<line x1="1089.6" y1="1579.1" x2="1118.4" y2="1579.1" stroke="#000" stroke-width="1.7"/>
<line x1="859.1" y1="1608.0" x2="887.9" y2="1608.0" stroke="#000" stroke-width="1.7"/>
<line x1="887.9" y1="1608.0" x2="916.7" y2="1608.0" stroke="#000" stroke-width="1.7"/>
<line x1="916.7" y1="1608.0" x2="945.5" y2="1608.0" stroke="#000" stroke-width="1.7"/>
<line x1="945.5" y1="1608.0" x2="974.3" y2="1608.0" stroke="#000" stroke-width="1.7"/>
<line x1="974.3" y1="1608.0" x2="1003.1" y2="1608.0" stroke="#000" stroke-width="1.7"/>
<line x1="1003.1" y1="1608.0" x2="1031.9" y2="1608.0" stroke="#000" stroke-width="1.7"/>
<line x1="1031.9" y1="1608.0" x2="1060.8" y2="1608.0" stroke="#000" stroke-width="1.7"/>
<line x1="1060.8" y1="1608.0" x2="1089.6" y2="1608.0" stroke="#000" stroke-width="1.7"/>
<line x1="1089.6" y1="1608.0" x2="1118.4" y2="1608.0" stroke="#000" stroke-width="1.7"/>
<line x1="945.5" y1="1636.8" x2="974.3" y2="1636.8" stroke="#000" stroke-width="1.7"/>
<line x1="974.3" y1="1636.8" x2="1003.1" y2="1636.8" stroke="#000" stroke-width="1.7"/>
<line x1="1003.1" y1="1636.8" x2="1031.9" y2="1636.8" stroke="#000" stroke-width="1.7"/>
<line x1="1031.9" y1="1636.8" x2="1060.8" y2="1636.8" stroke="#000" stroke-width="1.7"/>
<line x1="1060.8" y1="1636.8" x2="1089.6" y2="1636.8" stroke="#000" stroke-width="1.7"/>
<line x1="1089.6" y1="1636.8" x2="1118.4" y2="1636.8" stroke="#000" stroke-width="1.7"/>
<line x1="1118.4" y1="1636.8" x2="1147.2" y2="1636.8" stroke="#000" stroke-width="1.7"/>
<line x1="974.3" y1="1665.6" x2="1003.1" y2="1665.6" stroke="#000" stroke-width="1.7"/>
<line x1="1003.1" y1="1665.6" x2="1031.9" y2="1665.6" stroke="#000" stroke-width="1.7"/>
<line x1="1031.9" y1="1665.6" x2="1060.8" y2="1665.6" stroke="#000" stroke-width="1.7"/>
<line x1="1060.8" y1="1665.6" x2="1089.6" y2="1665.6" stroke="#000" stroke-width="1.7"/>
<line x1="945.5" y1="1377.5" x2="945.5" y2="1406.3" stroke="#000" stroke-width="1.7"/>
<line x1="1031.9" y1="1377.5" x2="1031.9" y2="1406.3" stroke="#000" stroke-width="1.7"/>
<line x1="974.3" y1="1406.3" x2="974.3" y2="1435.1" stroke="#000" stroke-width="1.7"/>
<line x1="1003.1" y1="1406.3" x2="1003.1" y2="1435.1" stroke="#000" stroke-width="1.7"/>
<line x1="1031.9" y1="1406.3" x2="1031.9" y2="1435.1" stroke="#000" stroke-width="1.7"/>
<line x1="974.3" y1="1435.1" x2="974.3" y2="1463.9" stroke="#000" stroke-width="1.7"/>
<line x1="1003.1" y1="1435.1" x2="1003.1" y2="1463.9" stroke="#000" stroke-width="1.7"/>
<line x1="1031.9" y1="1435.1" x2="1031.9" y2="1463.9" stroke="#000" stroke-width="1.7"/>
<line x1="1060.8" y1="1435.1" x2="1060.8" y2="1463.9" stroke="#000" stroke-width="1.7"/>
<line x1="974.3" y1="1463.9" x2="974.3" y2="1492.7" stroke="#000" stroke-width="1.7"/>
<line x1="1003.1" y1="1463.9" x2="1003.1" y2="1492.7" stroke="#000" stroke-width="1.7"/>
<line x1="1031.9" y1="1463.9" x2="1031.9" y2="1492.7" stroke="#000" stroke-width="1.7"/>
<line x1="1060.8" y1="1463.9" x2="1060.8" y2="1492.7" stroke="#000" stroke-width="1.7"/>
<line x1="945.5" y1="1492.7" x2="945.5" y2="1521.5" stroke="#000" stroke-width="1.7"/>
<line x1="974.3" y1="1492.7" x2="974.3" y2="1521.5" stroke="#000" stroke-width="1.7"/>
<line x1="1003.1" y1="1492.7" x2="1003.1" y2="1521.5" stroke="#000" stroke-width="1.7"/>
<line x1="1031.9" y1="1492.7" x2="1031.9" y2="1521.5" stroke="#000" stroke-width="1.7"/>
<line x1="1060.8" y1="1492.7" x2="1060.8" y2="1521.5" stroke="#000" stroke-width="1.7"/>
<line x1="1147.2" y1="1492.7" x2="1147.2" y2="1521.5" stroke="#000" stroke-width="1.7"/>
<line x1="916.7" y1="1521.5" x2="916.7" y2="1550.3" stroke="#000" stroke-width="1.7"/>
<line x1="945.5" y1="1521.5" x2="945.5" y2="1550.3" stroke="#000" stroke-width="1.7"/>
<line x1="974.3" y1="1521.5" x2="974.3" y2="1550.3" stroke="#000" stroke-width="1.7"/>
<line x1="1003.1" y1="1521.5" x2="1003.1" y2="1550.3" stroke="#000" stroke-width="1.7"/>
<line x1="1031.9" y1="1521.5" x2="1031.9" y2="1550.3" stroke="#000" stroke-width="1.7"/>
<line x1="1060.8" y1="1521.5" x2="1060.8" y2="1550.3" stroke="#000" stroke-width="1.7"/>
<line x1="1118.4" y1="1521.5" x2="1118.4" y2="1550.3" stroke="#000" stroke-width="1.7"/>
<line x1="1147.2" y1="1521.5" x2="1147.2" y2="1550.3" stroke="#000" stroke-width="1.7"/>
<line x1="887.9" y1="1550.3" x2="887.9" y2="1579.1" stroke="#000" stroke-width="1.7"/>
<line x1="916.7" y1="1550.3" x2="916.7" y2="1579.1" stroke="#000" stroke-width="1.7"/>
<line x1="945.5" y1="1550.3" x2="945.5" y2="1579.1" stroke="#000" stroke-width="1.7"/>
<line x1="974.3" y1="1550.3" x2="974.3" y2="1579.1" stroke="#000" stroke-width="1.7"/>
<line x1="1003.1" y1="1550.3" x2="1003.1" y2="1579.1" stroke="#000" stroke-width="1.7"/>
<line x1="1031.9" y1="1550.3" x2="1031.9" y2="1579.1" stroke="#000" stroke-width="1.7"/>
<line x1="1060.8" y1="1550.3" x2="1060.8" y2="1579.1" stroke="#000" stroke-width="1.7"/>
<line x1="1089.6" y1="1550.3" x2="1089.6" y2="1579.1" stroke="#000" stroke-width="1.7"/>
<line x1="1118.4" y1="1550.3" x2="1118.4" y2="1579.1" stroke="#000" stroke-width="1.7"/>
<line x1="859.1" y1="1579.1" x2="859.1" y2="1608.0" stroke="#000" stroke-width="1.7"/>
<line x1="887.9" y1="1579.1" x2="887.9" y2="1608.0" stroke="#000" stroke-width="1.7"/>
<line x1="916.7" y1="1579.1" x2="916.7" y2="1608.0" stroke="#000" stroke-width="1.7"/>
<line x1="945.5" y1="1579.1" x2="945.5" y2="1608.0" stroke="#000" stroke-width="1.7"/>
<line x1="974.3" y1="1579.1" x2="974.3" y2="1608.0" stroke="#000" stroke-width="1.7"/>
<line x1="1003.1" y1="1579.1" x2="1003.1" y2="1608.0" stroke="#000" stroke-width="1.7"/>
<line x1="1031.9" y1="1579.1" x2="1031.9" y2="1608.0" stroke="#000" stroke-width="1.7"/>
<line x1="1060.8" y1="1579.1" x2="1060.8" y2="1608.0" stroke="#000" stroke-width="1.7"/>
<line x1="1089.6" y1="1579.1" x2="1089.6" y2="1608.0" stroke="#000" stroke-width="1.7"/>
<line x1="1118.4" y1="1579.1" x2="1118.4" y2="1608.0" stroke="#000" stroke-width="1.7"/>
<line x1="887.9" y1="1608.0" x2="887.9" y2="1636.8" stroke="#000" stroke-width="1.7"/>
<line x1="945.5" y1="1608.0" x2="945.5" y2="1636.8" stroke="#000" stroke-width="1.7"/>
<line x1="974.3" y1="1608.0" x2="974.3" y2="1636.8" stroke="#000" stroke-width="1.7"/>
<line x1="1003.1" y1="1608.0" x2="1003.1" y2="1636.8" stroke="#000" stroke-width="1.7"/>
<line x1="1031.9" y1="1608.0" x2="1031.9" y2="1636.8" stroke="#000" stroke-width="1.7"/>
<line x1="1060.8" y1="1608.0" x2="1060.8" y2="1636.8" stroke="#000" stroke-width="1.7"/>
<line x1="1089.6" y1="1608.0" x2="1089.6" y2="1636.8" stroke="#000" stroke-width="1.7"/>
<line x1="1118.4" y1="1608.0" x2="1118.4" y2="1636.8" stroke="#000" stroke-width="1.7"/>
<line x1="974.3" y1="1636.8" x2="974.3" y2="1665.6" stroke="#000" stroke-width="1.7"/>
<line x1="1003.1" y1="1636.8" x2="1003.1" y2="1665.6" stroke="#000" stroke-width="1.7"/>
<line x1="1031.9" y1="1636.8" x2="1031.9" y2="1665.6" stroke="#000" stroke-width="1.7"/>
<line x1="1060.8" y1="1636.8" x2="1060.8" y2="1665.6" stroke="#000" stroke-width="1.7"/>
<line x1="1089.6" y1="1636.8" x2="1089.6" y2="1665.6" stroke="#000" stroke-width="1.7"/>
<line x1="1031.9" y1="1377.5" x2="1060.8" y2="1406.3" stroke="#000" stroke-width="1.7"/>
<line x1="1060.8" y1="1377.5" x2="1031.9" y2="1406.3" stroke="#000" stroke-width="1.7"/>
<line x1="1089.6" y1="1377.5" x2="1060.8" y2="1406.3" stroke="#000" stroke-width="1.7"/>
<line x1="974.3" y1="1406.3" x2="1003.1" y2="1435.1" stroke="#000" stroke-width="1.7"/>
<line x1="1003.1" y1="1406.3" x2="974.3" y2="1435.1" stroke="#000" stroke-width="1.7"/>
<line x1="1003.1" y1="1406.3" x2="1031.9" y2="1435.1" stroke="#000" stroke-width="1.7"/>
<line x1="1031.9" y1="1406.3" x2="1003.1" y2="1435.1" stroke="#000" stroke-width="1.7"/>
<line x1="1031.9" y1="1406.3" x2="1060.8" y2="1435.1" stroke="#000" stroke-width="1.7"/>
<line x1="1060.8" y1="1406.3" x2="1031.9" y2="1435.1" stroke="#000" stroke-width="1.7"/>
<line x1="974.3" y1="1435.1" x2="1003.1" y2="1463.9" stroke="#000" stroke-width="1.7"/>
<line x1="1003.1" y1="1435.1" x2="974.3" y2="1463.9" stroke="#000" stroke-width="1.7"/>
<line x1="1003.1" y1="1435.1" x2="1031.9" y2="1463.9" stroke="#000" stroke-width="1.7"/>
<line x1="1031.9" y1="1435.1" x2="1003.1" y2="1463.9" stroke="#000" stroke-width="1.7"/>
<line x1="1031.9" y1="1435.1" x2="1060.8" y2="1463.9" stroke="#000" stroke-width="1.7"/>
<line x1="1060.8" y1="1435.1" x2="1031.9" y2="1463.9" stroke="#000" stroke-width="1.7"/>
<line x1="974.3" y1="1463.9" x2="1003.1" y2="1492.7" stroke="#000" stroke-width="1.7"/>
<line x1="1003.1" y1="1463.9" x2="974.3" y2="1492.7" stroke="#000" stroke-width="1.7"/>
<line x1="1003.1" y1="1463.9" x2="1031.9" y2="1492.7" stroke="#000" stroke-width="1.7"/>
<line x1="1031.9" y1="1463.9" x2="1003.1" y2="1492.7" stroke="#000" stroke-width="1.7"/>
<line x1="1031.9" y1="1463.9" x2="1060.8" y2="1492.7" stroke="#000" stroke-width="1.7"/>
<line x1="1060.8" y1="1463.9" x2="1031.9" y2="1492.7" stroke="#000" stroke-width="1.7"/>
<line x1="945.5" y1="1492.7" x2="974.3" y2="1521.5" stroke="#000" stroke-width="1.7"/>
<line x1="974.3" y1="1492.7" x2="945.5" y2="1521.5" stroke="#000" stroke-width="1.7"/>
<line x1="974.3" y1="1492.7" x2="1003.1" y2="1521.5" stroke="#000" stroke-width="1.7"/>
<line x1="1003.1" y1="1492.7" x2="974.3" y2="1521.5" stroke="#000" stroke-width="1.7"/>
<line x1="1003.1" y1="1492.7" x2="1031.9" y2="1521.5" stroke="#000" stroke-width="1.7"/>
<line x1="1031.9" y1="1492.7" x2="1003.1" y2="1521.5" stroke="#000" stroke-width="1.7"/>
<line x1="1031.9" y1="1492.7" x2="1060.8" y2="1521.5" stroke="#000" stroke-width="1.7"/>
<line x1="1060.8" y1="1492.7" x2="1031.9" y2="1521.5" stroke="#000" stroke-width="1.7"/>
<line x1="916.7" y1="1521.5" x2="945.5" y2="1550.3" stroke="#000" stroke-width="1.7"/>
<line x1="945.5" y1="1521.5" x2="916.7" y2="1550.3" stroke="#000" stroke-width="1.7"/>
<line x1="945.5" y1="1521.5" x2="974.3" y2="1550.3" stroke="#000" stroke-width="1.7"/>
<line x1="974.3" y1="1521.5" x2="945.5" y2="1550.3" stroke="#000" stroke-width="1.7"/>
<line x1="974.3" y1="1521.5" x2="1003.1" y2="1550.3" stroke="#000" stroke-width="1.7"/>
<line x1="1003.1" y1="1521.5" x2="974.3" y2="1550.3" stroke="#000" stroke-width="1.7"/>
<line x1="1003.1" y1="1521.5" x2="1031.9" y2="1550.3" stroke="#000" stroke-width="1.7"/>
<line x1="1031.9" y1="1521.5" x2="1003.1" y2="1550.3" stroke="#000" stroke-width="1.7"/>
<line x1="1031.9" y1="1521.5" x2="1060.8" y2="1550.3" stroke="#000" stroke-width="1.7"/>
<line x1="1060.8" y1="1521.5" x2="1031.9" y2="1550.3" stroke="#000" stroke-width="1.7"/>
<line x1="1118.4" y1="1521.5" x2="1147.2" y2="1550.3" stroke="#000" stroke-width="1.7"/>
<line x1="1147.2" y1="1521.5" x2="1118.4" y2="1550.3" stroke="#000" stroke-width="1.7"/>
<line x1="887.9" y1="1550.3" x2="916.7" y2="1579.1" stroke="#000" stroke-width="1.7"/>
<line x1="916.7" y1="1550.3" x2="887.9" y2="1579.1" stroke="#000" stroke-width="1.7"/>
<line x1="916.7" y1="1550.3" x2="945.5" y2="1579.1" stroke="#000" stroke-width="1.7"/>
<line x1="945.5" y1="1550.3" x2="916.7" y2="1579.1" stroke="#000" stroke-width="1.7"/>
<line x1="945.5" y1="1550.3" x2="974.3" y2="1579.1" stroke="#000" stroke-width="1.7"/>
<line x1="974.3" y1="1550.3" x2="945.5" y2="1579.1" stroke="#000" stroke-width="1.7"/>
<line x1="974.3" y1="1550.3" x2="1003.1" y2="1579.1" stroke="#000" stroke-width="1.7"/>
<line x1="1003.1" y1="1550.3" x2="974.3" y2="1579.1" stroke="#000" stroke-width="1.7"/>
<line x1="1003.1" y1="1550.3" x2="1031.9" y2="1579.1" stroke="#000" stroke-width="1.7"/>
<line x1="1031.9" y1="1550.3" x2="1003.1" y2="1579.1" stroke="#000" stroke-width="1.7"/>
<line x1="1031.9" y1="1550.3" x2="1060.8" y2="1579.1" stroke="#000" stroke-width="1.7"/>
<line x1="1060.8" y1="1550.3" x2="1031.9" y2="1579.1" stroke="#000" stroke-width="1.7"/>
<line x1="1060.8" y1="1550.3" x2="1089.6" y2="1579.1" stroke="#000" stroke-width="1.7"/>
<line x1="1089.6" y1="1550.3" x2="1060.8" y2="1579.1" stroke="#000" stroke-width="1.7"/>
<line x1="1089.6" y1="1550.3" x2="1118.4" y2="1579.1" stroke="#000" stroke-width="1.7"/>
<line x1="1118.4" y1="1550.3" x2="1089.6" y2="1579.1" stroke="#000" stroke-width="1.7"/>
<line x1="887.9" y1="1579.1" x2="916.7" y2="1608.0" stroke="#000" stroke-width="1.7"/>
<line x1="916.7" y1="1579.1" x2="887.9" y2="1608.0" stroke="#000" stroke-width="1.7"/>
<line x1="916.7" y1="1579.1" x2="945.5" y2="1608.0" stroke="#000" stroke-width="1.7"/>
<line x1="945.5" y1="1579.1" x2="916.7" y2="1608.0" stroke="#000" stroke-width="1.7"/>
<line x1="945.5" y1="1579.1" x2="974.3" y2="1608.0" stroke="#000" stroke-width="1.7"/>
<line x1="974.3" y1="1579.1" x2="945.5" y2="1608.0" stroke="#000" stroke-width="1.7"/>
<line x1="974.3" y1="1579.1" x2="1003.1" y2="1608.0" stroke="#000" stroke-width="1.7"/>
<line x1="1003.1" y1="1579.1" x2="974.3" y2="1608.0" stroke="#000" stroke-width="1.7"/>
<line x1="1003.1" y1="1579.1" x2="1031.9" y2="1608.0" stroke="#000" stroke-width="1.7"/>
<line x1="1031.9" y1="1579.1" x2="1003.1" y2="1608.0" stroke="#000" stroke-width="1.7"/>
<line x1="1031.9" y1="1579.1" x2="1060.8" y2="1608.0" stroke="#000" stroke-width="1.7"/>
<line x1="1060.8" y1="1579.1" x2="1031.9" y2="1608.0" stroke="#000" stroke-width="1.7"/>
<line x1="1060.8" y1="1579.1" x2="1089.6" y2="1608.0" stroke="#000" stroke-width="1.7"/>
<line x1="1089.6" y1="1579.1" x2="1060.8" y2="1608.0" stroke="#000" stroke-width="1.7"/>
<line x1="1089.6" y1="1579.1" x2="1118.4" y2="1608.0" stroke="#000" stroke-width="1.7"/>
<line x1="1118.4" y1="1579.1" x2="1089.6" y2="1608.0" stroke="#000" stroke-width="1.7"/>
<line x1="945.5" y1="1608.0" x2="974.3" y2="1636.8" stroke="#000" stroke-width="1.7"/>
<line x1="974.3" y1="1608.0" x2="945.5" y2="1636.8" stroke="#000" stroke-width="1.7"/>
<line x1="974.3" y1="1608.0" x2="1003.1" y2="1636.8" stroke="#000" stroke-width="1.7"/>
<line x1="1003.1" y1="1608.0" x2="974.3" y2="1636.8" stroke="#000" stroke-width="1.7"/>
<line x1="1003.1" y1="1608.0" x2="1031.9" y2="1636.8" stroke="#000" stroke-width="1.7"/>
<line x1="1031.9" y1="1608.0" x2="1003.1" y2="1636.8" stroke="#000" stroke-width="1.7"/>
<line x1="1031.9" y1="1608.0" x2="1060.8" y2="1636.8" stroke="#000" stroke-width="1.7"/>
<line x1="1060.8" y1="1608.0" x2="1031.9" y2="1636.8" stroke="#000" stroke-width="1.7"/>
<line x1="1060.8" y1="1608.0" x2="1089.6" y2="1636.8" stroke="#000" stroke-width="1.7"/>
<line x1="1089.6" y1="1608.0" x2="1060.8" y2="1636.8" stroke="#000" stroke-width="1.7"/>
<line x1="1089.6" y1="1608.0" x2="1118.4" y2="1636.8" stroke="#000" stroke-width="1.7"/>
<line x1="1118.4" y1="1608.0" x2="1089.6" y2="1636.8" stroke="#000" stroke-width="1.7"/>
<line x1="974.3" y1="1636.8" x2="1003.1" y2="1665.6" stroke="#000" stroke-width="1.7"/>
<line x1="1003.1" y1="1636.8" x2="974.3" y2="1665.6" stroke="#000" stroke-width="1.7"/>
<line x1="1003.1" y1="1636.8" x2="1031.9" y2="1665.6" stroke="#000" stroke-width="1.7"/>
<line x1="1031.9" y1="1636.8" x2="1003.1" y2="1665.6" stroke="#000" stroke-width="1.7"/>
<line x1="1031.9" y1="1636.8" x2="1060.8" y2="1665.6" stroke="#000" stroke-width="1.7"/>
<line x1="1060.8" y1="1636.8" x2="1031.9" y2="1665.6" stroke="#000" stroke-width="1.7"/>
<line x1="1060.8" y1="1636.8" x2="1089.6" y2="1665.6" stroke="#000" stroke-width="1.7"/>
<line x1="1089.6" y1="1636.8" x2="1060.8" y2="1665.6" stroke="#000" stroke-width="1.7"/>
<line x1="916.7" y1="1377.5" x2="945.5" y2="1406.3" stroke="#000" stroke-width="1.7"/>
<line x1="945.5" y1="1377.5" x2="974.3" y2="1406.3" stroke="#000" stroke-width="1.7"/>
<line x1="1031.9" y1="1377.5" x2="1003.1" y2="1406.3" stroke="#000" stroke-width="1.7"/>
<line x1="1060.8" y1="1435.1" x2="1089.6" y2="1463.9" stroke="#000" stroke-width="1.7"/>
<line x1="974.3" y1="1463.9" x2="945.5" y2="1492.7" stroke="#000" stroke-width="1.7"/>
<line x1="1089.6" y1="1463.9" x2="1060.8" y2="1492.7" stroke="#000" stroke-width="1.7"/>
<line x1="945.5" y1="1492.7" x2="916.7" y2="1521.5" stroke="#000" stroke-width="1.7"/>
<line x1="1147.2" y1="1492.7" x2="1118.4" y2="1521.5" stroke="#000" stroke-width="1.7"/>
<line x1="916.7" y1="1521.5" x2="887.9" y2="1550.3" stroke="#000" stroke-width="1.7"/>
<line x1="1060.8" y1="1521.5" x2="1089.6" y2="1550.3" stroke="#000" stroke-width="1.7"/>
<line x1="1147.2" y1="1550.3" x2="1118.4" y2="1579.1" stroke="#000" stroke-width="1.7"/>
<line x1="916.7" y1="1608.0" x2="945.5" y2="1636.8" stroke="#000" stroke-width="1.7"/>
<line x1="1118.4" y1="1608.0" x2="1147.2" y2="1636.8" stroke="#000" stroke-width="1.7"/>
<line x1="945.5" y1="1636.8" x2="974.3" y2="1665.6" stroke="#000" stroke-width="1.7"/>
<line x1="1118.4" y1="1636.8" x2="1089.6" y2="1665.6" stroke="#000" stroke-width="1.7"/>
<line x1="1118.4" y1="1636.8" x2="1147.2" y2="1665.6" stroke="#000" stroke-width="1.7"/>
<line x1="1089.6" y1="1665.6" x2="1060.8" y2="1694.4" stroke="#000" stroke-width="1.7"/>
<line x1="801.5" y1="1319.9" x2="830.3" y2="1319.9" stroke="#000" stroke-width="1.7"/>
<line x1="830.3" y1="1319.9" x2="859.1" y2="1319.9" stroke="#000" stroke-width="1.7"/>
<line x1="859.1" y1="1319.9" x2="887.9" y2="1319.9" stroke="#000" stroke-width="1.7"/>
<line x1="887.9" y1="1319.9" x2="916.7" y2="1348.7" stroke="#000" stroke-width="1.7"/>
<line x1="916.7" y1="1348.7" x2="916.7" y2="1377.5" stroke="#000" stroke-width="1.7"/>
<line x1="916.7" y1="1348.7" x2="945.5" y2="1377.5" stroke="#000" stroke-width="1.7"/>
<line x1="830.3" y1="1521.5" x2="801.5" y2="1550.3" stroke="#000" stroke-width="1.7"/>
<line x1="819.8" y1="1537.6" x2="814.2" y2="1532.0" stroke="#000" stroke-width="1.3"/>
<line x1="817.6" y1="1539.9" x2="811.9" y2="1534.2" stroke="#000" stroke-width="1.3"/>
<line x1="801.5" y1="1550.3" x2="801.5" y2="1579.1" stroke="#000" stroke-width="1.7"/>
<line x1="805.5" y1="1563.1" x2="797.5" y2="1563.1" stroke="#000" stroke-width="1.3"/>
<line x1="805.5" y1="1566.3" x2="797.5" y2="1566.3" stroke="#000" stroke-width="1.3"/>
<line x1="859.1" y1="1521.5" x2="830.3" y2="1550.3" stroke="#000" stroke-width="1.7"/>
<line x1="848.6" y1="1537.6" x2="843.0" y2="1532.0" stroke="#000" stroke-width="1.3"/>
<line x1="846.4" y1="1539.9" x2="840.7" y2="1534.2" stroke="#000" stroke-width="1.3"/>
<line x1="830.3" y1="1550.3" x2="830.3" y2="1579.1" stroke="#000" stroke-width="1.7"/>
<line x1="834.3" y1="1563.1" x2="826.3" y2="1563.1" stroke="#000" stroke-width="1.3"/>
<line x1="834.3" y1="1566.3" x2="826.3" y2="1566.3" stroke="#000" stroke-width="1.3"/>
<line x1="715.0" y1="1636.8" x2="743.9" y2="1636.8" stroke="#000" stroke-width="1.7"/>
<line x1="729.4" y1="1632.8" x2="729.4" y2="1640.8" stroke="#000" stroke-width="1.3"/>
<line x1="743.9" y1="1636.8" x2="772.7" y2="1636.8" stroke="#000" stroke-width="1.7"/>
<line x1="772.7" y1="1636.8" x2="801.5" y2="1636.8" stroke="#000" stroke-width="1.7"/>
<line x1="801.5" y1="1636.8" x2="859.1" y2="1636.8" stroke="#000" stroke-width="1.7"/>
<line x1="859.1" y1="1636.8" x2="887.9" y2="1636.8" stroke="#000" stroke-width="1.7"/>
<line x1="887.9" y1="1636.8" x2="916.7" y2="1636.8" stroke="#000" stroke-width="1.7"/>
<line x1="902.3" y1="1632.8" x2="902.3" y2="1640.8" stroke="#000" stroke-width="1.3"/>
<line x1="743.9" y1="1608.0" x2="743.9" y2="1636.8" stroke="#000" stroke-width="1.7"/>
<line x1="747.9" y1="1622.4" x2="739.9" y2="1622.4" stroke="#000" stroke-width="1.3"/>
<line x1="743.9" y1="1636.8" x2="743.9" y2="1665.6" stroke="#000" stroke-width="1.7"/>
<line x1="747.9" y1="1651.2" x2="739.9" y2="1651.2" stroke="#000" stroke-width="1.3"/>
<line x1="772.7" y1="1608.0" x2="801.5" y2="1608.0" stroke="#000" stroke-width="1.7"/>
<line x1="801.5" y1="1608.0" x2="801.5" y2="1636.8" stroke="#000" stroke-width="1.7"/>
<line x1="801.5" y1="1636.8" x2="801.5" y2="1665.6" stroke="#000" stroke-width="1.7"/>
<line x1="801.5" y1="1665.6" x2="801.5" y2="1694.4" stroke="#000" stroke-width="1.7"/>
<line x1="772.7" y1="1608.0" x2="772.7" y2="1636.8" stroke="#000" stroke-width="1.7"/>
<line x1="772.7" y1="1636.8" x2="772.7" y2="1665.6" stroke="#000" stroke-width="1.7"/>
<line x1="801.5" y1="1636.8" x2="859.1" y2="1665.6" stroke="#000" stroke-width="1.7"/>
<line x1="859.1" y1="1665.6" x2="887.9" y2="1694.4" stroke="#000" stroke-width="1.7"/>
<line x1="887.9" y1="1694.4" x2="887.9" y2="1723.2" stroke="#000" stroke-width="1.7"/>
<line x1="887.9" y1="1723.2" x2="887.9" y2="1867.2" stroke="#000" stroke-width="1.7"/>
<line x1="887.9" y1="1867.2" x2="916.7" y2="1867.2" stroke="#000" stroke-width="1.7"/>
<line x1="916.7" y1="1867.2" x2="945.5" y2="1867.2" stroke="#000" stroke-width="1.7"/>
<line x1="945.5" y1="1867.2" x2="974.3" y2="1896.0" stroke="#000" stroke-width="1.7"/>
<line x1="974.3" y1="1896.0" x2="1003.1" y2="1924.9" stroke="#000" stroke-width="1.7"/>
<line x1="1003.1" y1="1924.9" x2="1003.1" y2="1953.7" stroke="#000" stroke-width="1.7"/>
<line x1="1003.1" y1="1953.7" x2="1003.1" y2="1982.5" stroke="#000" stroke-width="1.7"/>
<line x1="1003.1" y1="1982.5" x2="974.3" y2="2011.3" stroke="#000" stroke-width="1.7"/>
<line x1="801.5" y1="1665.6" x2="859.1" y2="1665.6" stroke="#000" stroke-width="1.7"/>
<line x1="859.1" y1="1665.6" x2="887.9" y2="1665.6" stroke="#000" stroke-width="1.7"/>
<line x1="887.9" y1="1665.6" x2="916.7" y2="1665.6" stroke="#000" stroke-width="1.7"/>
<line x1="916.7" y1="1665.6" x2="916.7" y2="1694.4" stroke="#000" stroke-width="1.7"/>
<line x1="920.7" y1="1680.0" x2="912.7" y2="1680.0" stroke="#000" stroke-width="1.3"/>
<line x1="859.1" y1="1636.8" x2="859.1" y2="1665.6" stroke="#000" stroke-width="1.7"/>
<line x1="887.9" y1="1636.8" x2="859.1" y2="1665.6" stroke="#000" stroke-width="1.7"/>
<line x1="887.9" y1="1636.8" x2="887.9" y2="1665.6" stroke="#000" stroke-width="1.7"/>
<line x1="887.9" y1="1665.6" x2="887.9" y2="1694.4" stroke="#000" stroke-width="1.7"/>
<line x1="772.7" y1="1694.4" x2="801.5" y2="1665.6" stroke="#000" stroke-width="3.2"/>
<line x1="772.7" y1="1752.0" x2="830.3" y2="1694.4" stroke="#000" stroke-width="1.7"/>
<line x1="830.3" y1="1694.4" x2="859.1" y2="1665.6" stroke="#000" stroke-width="1.7"/>
<line x1="859.1" y1="1694.4" x2="887.9" y2="1694.4" stroke="#000" stroke-width="1.7"/>
<line x1="859.1" y1="1723.2" x2="887.9" y2="1723.2" stroke="#000" stroke-width="1.7"/>
<line x1="887.9" y1="1723.2" x2="916.7" y2="1723.2" stroke="#000" stroke-width="1.7"/>
<line x1="902.3" y1="1719.2" x2="902.3" y2="1727.2" stroke="#000" stroke-width="1.3"/>
<line x1="830.3" y1="1723.2" x2="855.4" y2="1672.9" stroke="#000" stroke-width="3.2" marker-end="url(#ahT)"/>
<line x1="743.9" y1="1723.2" x2="743.9" y2="1752.0" stroke="#000" stroke-width="1.7"/>
<line x1="747.9" y1="1736.0" x2="739.9" y2="1736.0" stroke="#000" stroke-width="1.3"/>
<line x1="747.9" y1="1739.2" x2="739.9" y2="1739.2" stroke="#000" stroke-width="1.3"/>
<line x1="743.9" y1="1752.0" x2="743.9" y2="1780.8" stroke="#000" stroke-width="1.7"/>
<line x1="772.7" y1="1723.2" x2="772.7" y2="1752.0" stroke="#000" stroke-width="1.7"/>
<line x1="776.7" y1="1736.0" x2="768.7" y2="1736.0" stroke="#000" stroke-width="1.3"/>
<line x1="776.7" y1="1739.2" x2="768.7" y2="1739.2" stroke="#000" stroke-width="1.3"/>
<line x1="772.7" y1="1752.0" x2="743.9" y2="1752.0" stroke="#000" stroke-width="1.7"/>
<line x1="772.7" y1="1752.0" x2="801.5" y2="1752.0" stroke="#000" stroke-width="3.2"/>
<line x1="787.1" y1="1748.0" x2="787.1" y2="1756.0" stroke="#000" stroke-width="1.3"/>
<line x1="801.5" y1="1752.0" x2="830.3" y2="1723.2" stroke="#000" stroke-width="1.7"/>
<line x1="801.5" y1="1752.0" x2="801.5" y2="1780.8" stroke="#000" stroke-width="1.7"/>
<line x1="801.5" y1="1780.8" x2="830.3" y2="1752.0" stroke="#000" stroke-width="3.2"/>
<line x1="830.3" y1="1752.0" x2="830.3" y2="1809.6" stroke="#000" stroke-width="1.7"/>
<line x1="830.3" y1="1809.6" x2="916.7" y2="1809.6" stroke="#000" stroke-width="1.7"/>
<line x1="916.7" y1="1809.6" x2="945.5" y2="1809.6" stroke="#000" stroke-width="1.7"/>
<line x1="887.9" y1="1780.8" x2="916.7" y2="1752.0" stroke="#000" stroke-width="1.7"/>
<line x1="887.9" y1="1838.4" x2="916.7" y2="1809.6" stroke="#000" stroke-width="3.2"/>
<line x1="830.3" y1="1809.6" x2="801.5" y2="1838.4" stroke="#000" stroke-width="1.7"/>
<line x1="801.5" y1="1838.4" x2="772.7" y2="1867.2" stroke="#000" stroke-width="1.7"/>
<line x1="772.7" y1="1867.2" x2="743.9" y2="1838.4" stroke="#000" stroke-width="1.7"/>
<line x1="686.2" y1="1348.7" x2="657.4" y2="1377.5" stroke="#000" stroke-width="1.7"/>
<line x1="657.4" y1="1377.5" x2="628.6" y2="1406.3" stroke="#000" stroke-width="1.7"/>
<line x1="628.6" y1="1406.3" x2="599.8" y2="1435.1" stroke="#000" stroke-width="1.7"/>
<line x1="599.8" y1="1435.1" x2="571.0" y2="1463.9" stroke="#000" stroke-width="1.7"/>
<line x1="1320.0" y1="311.5" x2="1336.4" y2="326.2" stroke="#000" stroke-width="1.3"/>
<circle cx="1340.1" cy="329.6" r="5" fill="none" stroke="#000" stroke-width="1.3"/>
<line x1="1406.5" y1="311.5" x2="1406.5" y2="287.7" stroke="#000" stroke-width="1.3"/>
<circle cx="1406.5" cy="282.7" r="5" fill="none" stroke="#000" stroke-width="1.3"/>
<line x1="1406.5" y1="311.5" x2="1430.3" y2="311.5" stroke="#000" stroke-width="1.3"/>
<circle cx="1435.3" cy="311.5" r="5" fill="none" stroke="#000" stroke-width="1.3"/>
<line x1="1392.1" y1="844.5" x2="1380.9" y2="834.4" stroke="#000" stroke-width="1.3"/>
<circle cx="1377.2" cy="831.1" r="5" fill="none" stroke="#000" stroke-width="1.3"/>
<line x1="1392.1" y1="844.5" x2="1402.5" y2="833.7" stroke="#000" stroke-width="1.3"/>
<circle cx="1406.0" cy="830.1" r="5" fill="none" stroke="#000" stroke-width="1.3"/>
<line x1="1392.1" y1="844.5" x2="1377.1" y2="844.5" stroke="#000" stroke-width="1.3"/>
<circle cx="1372.1" cy="844.5" r="5" fill="none" stroke="#000" stroke-width="1.3"/>
<line x1="1392.1" y1="844.5" x2="1407.1" y2="844.5" stroke="#000" stroke-width="1.3"/>
<circle cx="1412.1" cy="844.5" r="5" fill="none" stroke="#000" stroke-width="1.3"/>
<line x1="1392.1" y1="844.5" x2="1392.1" y2="859.5" stroke="#000" stroke-width="1.3"/>
<circle cx="1392.1" cy="864.5" r="5" fill="none" stroke="#000" stroke-width="1.3"/>
<line x1="1392.1" y1="844.5" x2="1403.0" y2="854.7" stroke="#000" stroke-width="1.3"/>
<circle cx="1406.7" cy="858.1" r="5" fill="none" stroke="#000" stroke-width="1.3"/>
<polyline points="81.0,283.0 131.0,233.0" fill="none" stroke="#cc00cc" stroke-width="1.5"/>
<polyline points="484.0,513.0 534.0,463.0" fill="none" stroke="#cc00cc" stroke-width="1.5"/>
<polyline points="1233.0,60.0 1233.0,132.0" fill="none" stroke="#cc00cc" stroke-width="1.5"/>
<polyline points="1262.0,110.0 1287.0,88.0" fill="none" stroke="#008800" stroke-width="1.5"/>
<polyline points="1298.0,175.0 1319.7,196.6" fill="none" stroke="#cc00cc" stroke-width="1.5"/>
<polyline points="1233.0,318.0 1233.0,341.0" fill="none" stroke="#cc00cc" stroke-width="1.5"/>
<polyline points="1262.0,830.0 1286.0,807.0" fill="none" stroke="#008800" stroke-width="1.5"/>
<polyline points="1238.0,1210.0 1255.0,1226.0" fill="none" stroke="#008800" stroke-width="1.5"/>
<polyline points="743.4,1723.4 722.0,1745.0" fill="none" stroke="#cc00cc" stroke-width="1.5"/>
<polyline points="858.6,1723.4 858.6,1788.0" fill="none" stroke="#cc00cc" stroke-width="1.5"/>
<circle cx="23.6" cy="225.1" r="7.15" fill="#ffcc99" stroke="#000" stroke-width="1.7" stroke-dasharray="2.6,1.6"/>
<circle cx="23.6" cy="253.9" r="7.15" fill="#ffcc99" stroke="#000" stroke-width="1.7" stroke-dasharray="2.6,1.6"/>
<circle cx="23.6" cy="282.7" r="7.15" fill="#ffcc99" stroke="#000" stroke-width="1.7" stroke-dasharray="2.6,1.6"/>
<circle cx="23.6" cy="743.6" r="7.15" fill="#ffcc99" stroke="#000" stroke-width="1.7" stroke-dasharray="2.6,1.6"/>
<circle cx="52.4" cy="253.9" r="7.15" fill="#ffffff" stroke="#000" stroke-width="1.7"/>
<circle cx="81.2" cy="253.9" r="7.15" fill="#ffffff" stroke="#000" stroke-width="1.7"/>
<circle cx="138.8" cy="253.9" r="7.15" fill="#ffffff" stroke="#000" stroke-width="1.7"/>
<circle cx="167.6" cy="253.9" r="7.15" fill="#ffffff" stroke="#000" stroke-width="1.7"/>
<circle cx="398.1" cy="253.9" r="7.15" fill="#ffffff" stroke="#000" stroke-width="1.7"/>
<circle cx="81.2" cy="282.7" r="7.15" fill="#ff99ff" stroke="#000" stroke-width="1.7"/>
<circle cx="52.4" cy="282.7" r="7.15" fill="#ffffff" stroke="#000" stroke-width="1.7"/>
<circle cx="110.0" cy="282.7" r="7.15" fill="#ffffff" stroke="#000" stroke-width="1.7"/>
<circle cx="138.8" cy="282.7" r="7.15" fill="#ffffff" stroke="#000" stroke-width="1.7"/>
<circle cx="196.5" cy="282.7" r="7.15" fill="#ffffff" stroke="#000" stroke-width="1.7"/>
<circle cx="225.3" cy="282.7" r="7.15" fill="#ffffff" stroke="#000" stroke-width="1.7"/>
<circle cx="167.6" cy="282.7" r="7.15" fill="#ffffff" stroke="#000" stroke-width="1.7"/>
<circle cx="167.6" cy="282.7" r="3.6" fill="#000"/>
<circle cx="52.4" cy="311.5" r="7.15" fill="#ffffff" stroke="#000" stroke-width="1.7"/>
<circle cx="81.2" cy="311.5" r="7.15" fill="#ffffff" stroke="#000" stroke-width="1.7"/>
<circle cx="110.0" cy="311.5" r="7.15" fill="#ffffff" stroke="#000" stroke-width="1.7"/>
<circle cx="138.8" cy="311.5" r="7.15" fill="#ffffff" stroke="#000" stroke-width="1.7"/>
<circle cx="167.6" cy="311.5" r="7.15" fill="#ffffff" stroke="#000" stroke-width="1.7"/>
<circle cx="196.5" cy="311.5" r="7.15" fill="#ffffff" stroke="#000" stroke-width="1.7"/>
<circle cx="110.0" cy="340.3" r="7.15" fill="#ffffff" stroke="#000" stroke-width="1.7"/>
<circle cx="138.8" cy="340.3" r="7.15" fill="#ffffff" stroke="#000" stroke-width="1.7"/>
<circle cx="167.6" cy="340.3" r="7.15" fill="#ffffff" stroke="#000" stroke-width="1.7"/>
<circle cx="196.5" cy="340.3" r="7.15" fill="#ffffff" stroke="#000" stroke-width="1.7"/>
<circle cx="110.0" cy="369.1" r="7.15" fill="#ffffff" stroke="#000" stroke-width="1.7"/>
<circle cx="138.8" cy="369.1" r="7.15" fill="#ffffff" stroke="#000" stroke-width="1.7"/>
<circle cx="138.8" cy="369.1" r="3.6" fill="#000"/>
<circle cx="167.6" cy="397.9" r="7.15" fill="#ffffff" stroke="#000" stroke-width="1.7"/>
<circle cx="167.6" cy="397.9" r="3.6" fill="#000"/>
<circle cx="282.9" cy="397.9" r="7.15" fill="#ffffff" stroke="#000" stroke-width="1.7"/>
<circle cx="282.9" cy="397.9" r="3.6" fill="#000"/>
<circle cx="340.5" cy="397.9" r="7.15" fill="#ffffff" stroke="#000" stroke-width="1.7"/>
<circle cx="340.5" cy="397.9" r="3.6" fill="#000"/>
<circle cx="196.5" cy="397.9" r="7.15" fill="#ffffff" stroke="#000" stroke-width="1.7"/>
<circle cx="254.1" cy="397.9" r="7.15" fill="#ffffff" stroke="#000" stroke-width="1.7"/>
<circle cx="311.7" cy="397.9" r="7.15" fill="#ffffff" stroke="#000" stroke-width="1.7"/>
<circle cx="167.6" cy="426.7" r="7.15" fill="#ffffff" stroke="#000" stroke-width="1.7"/>
<circle cx="196.5" cy="426.7" r="7.15" fill="#ffffff" stroke="#000" stroke-width="1.7"/>
<circle cx="196.5" cy="426.7" r="3.6" fill="#000"/>
<circle cx="254.1" cy="426.7" r="7.15" fill="#ffffff" stroke="#000" stroke-width="1.7"/>
<circle cx="254.1" cy="426.7" r="3.6" fill="#000"/>
<circle cx="282.9" cy="426.7" r="7.15" fill="#ffffff" stroke="#000" stroke-width="1.7"/>
<circle cx="282.9" cy="426.7" r="3.6" fill="#000"/>
<circle cx="311.7" cy="426.7" r="7.15" fill="#ffffff" stroke="#000" stroke-width="1.7"/>
<circle cx="311.7" cy="426.7" r="3.6" fill="#000"/>
<circle cx="340.5" cy="426.7" r="7.15" fill="#ffffff" stroke="#000" stroke-width="1.7"/>
<circle cx="340.5" cy="426.7" r="3.6" fill="#000"/>
<circle cx="369.3" cy="426.7" r="7.15" fill="#ffffff" stroke="#000" stroke-width="1.7"/>
<circle cx="369.3" cy="426.7" r="3.6" fill="#000"/>
<circle cx="254.1" cy="455.5" r="7.15" fill="#ffffff" stroke="#000" stroke-width="1.7"/>
<circle cx="225.3" cy="484.4" r="7.15" fill="#ffffff" stroke="#000" stroke-width="1.7"/>
<circle cx="254.1" cy="484.4" r="7.15" fill="#ffffff" stroke="#000" stroke-width="1.7"/>
<circle cx="311.7" cy="484.4" r="7.15" fill="#ffffff" stroke="#000" stroke-width="1.7"/>
<circle cx="340.5" cy="484.4" r="7.15" fill="#ffffff" stroke="#000" stroke-width="1.7"/>
<circle cx="340.5" cy="484.4" r="3.6" fill="#000"/>
<circle cx="369.3" cy="484.4" r="7.15" fill="#ffffff" stroke="#000" stroke-width="1.7"/>
<circle cx="369.3" cy="484.4" r="3.6" fill="#000"/>
<circle cx="398.1" cy="484.4" r="7.15" fill="#ffffff" stroke="#000" stroke-width="1.7"/>
<circle cx="398.1" cy="484.4" r="3.6" fill="#000"/>
<circle cx="138.8" cy="513.2" r="7.15" fill="#ffffff" stroke="#000" stroke-width="1.7"/>
<circle cx="138.8" cy="513.2" r="3.6" fill="#000"/>
<circle cx="167.6" cy="513.2" r="7.15" fill="#ffffff" stroke="#000" stroke-width="1.7"/>
<circle cx="167.6" cy="513.2" r="3.6" fill="#000"/>
<circle cx="196.5" cy="513.2" r="7.15" fill="#ffffff" stroke="#000" stroke-width="1.7"/>
<circle cx="196.5" cy="513.2" r="3.6" fill="#000"/>
<circle cx="225.3" cy="513.2" r="7.15" fill="#ffffff" stroke="#000" stroke-width="1.7"/>
<circle cx="225.3" cy="513.2" r="3.6" fill="#000"/>
<circle cx="282.9" cy="513.2" r="7.15" fill="#ffffff" stroke="#000" stroke-width="1.7"/>
<circle cx="311.7" cy="513.2" r="7.15" fill="#ffffff" stroke="#000" stroke-width="1.7"/>
<circle cx="369.3" cy="513.2" r="7.15" fill="#ffffff" stroke="#000" stroke-width="1.7"/>
<circle cx="398.1" cy="513.2" r="7.15" fill="#ffffff" stroke="#000" stroke-width="1.7"/>
<circle cx="167.6" cy="542.0" r="7.15" fill="#ffffff" stroke="#000" stroke-width="1.7"/>
<circle cx="167.6" cy="542.0" r="3.6" fill="#000"/>
<circle cx="196.5" cy="542.0" r="7.15" fill="#ffffff" stroke="#000" stroke-width="1.7"/>
<circle cx="196.5" cy="542.0" r="3.6" fill="#000"/>
<circle cx="254.1" cy="542.0" r="7.15" fill="#ffffff" stroke="#000" stroke-width="1.7"/>
<circle cx="254.1" cy="542.0" r="3.6" fill="#000"/>
<circle cx="369.3" cy="542.0" r="7.15" fill="#ffffff" stroke="#000" stroke-width="1.7"/>
<circle cx="369.3" cy="542.0" r="3.6" fill="#000"/>
<circle cx="398.1" cy="542.0" r="7.15" fill="#ffffff" stroke="#000" stroke-width="1.7"/>
<circle cx="398.1" cy="542.0" r="3.6" fill="#000"/>
<circle cx="225.3" cy="542.0" r="7.15" fill="#ffffff" stroke="#000" stroke-width="1.7"/>
<circle cx="282.9" cy="542.0" r="7.15" fill="#ffffff" stroke="#000" stroke-width="1.7"/>
<circle cx="311.7" cy="542.0" r="7.15" fill="#ffffff" stroke="#000" stroke-width="1.7"/>
<circle cx="196.5" cy="570.8" r="7.15" fill="#ffffff" stroke="#000" stroke-width="1.7"/>
<circle cx="196.5" cy="570.8" r="3.6" fill="#000"/>
<circle cx="225.3" cy="570.8" r="7.15" fill="#ffffff" stroke="#000" stroke-width="1.7"/>
<circle cx="225.3" cy="570.8" r="3.6" fill="#000"/>
<circle cx="254.1" cy="570.8" r="7.15" fill="#ffffff" stroke="#000" stroke-width="1.7"/>
<circle cx="254.1" cy="570.8" r="3.6" fill="#000"/>
<circle cx="311.7" cy="570.8" r="7.15" fill="#ffffff" stroke="#000" stroke-width="1.7"/>
<circle cx="311.7" cy="570.8" r="3.6" fill="#000"/>
<circle cx="340.5" cy="570.8" r="7.15" fill="#ffffff" stroke="#000" stroke-width="1.7"/>
<circle cx="340.5" cy="570.8" r="3.6" fill="#000"/>
<circle cx="398.1" cy="570.8" r="7.15" fill="#ffffff" stroke="#000" stroke-width="1.7"/>
<circle cx="398.1" cy="570.8" r="3.6" fill="#000"/>
<circle cx="282.9" cy="570.8" r="7.15" fill="#ffffff" stroke="#000" stroke-width="1.7"/>
<circle cx="225.3" cy="599.6" r="7.15" fill="#ffffff" stroke="#000" stroke-width="1.7"/>
<circle cx="254.1" cy="599.6" r="7.15" fill="#ffffff" stroke="#000" stroke-width="1.7"/>
<circle cx="282.9" cy="599.6" r="7.15" fill="#ffffff" stroke="#000" stroke-width="1.7"/>
<circle cx="340.5" cy="599.6" r="7.15" fill="#ffffff" stroke="#000" stroke-width="1.7"/>
<circle cx="311.7" cy="599.6" r="7.15" fill="#ffffff" stroke="#000" stroke-width="1.7"/>
<circle cx="311.7" cy="599.6" r="3.6" fill="#000"/>
<circle cx="369.3" cy="599.6" r="7.15" fill="#ffffff" stroke="#000" stroke-width="1.7"/>
<circle cx="369.3" cy="599.6" r="3.6" fill="#000"/>
<circle cx="138.8" cy="628.4" r="7.15" fill="#ffffff" stroke="#000" stroke-width="1.7"/>
<circle cx="138.8" cy="628.4" r="3.6" fill="#000"/>
<circle cx="167.6" cy="628.4" r="7.15" fill="#ffffff" stroke="#000" stroke-width="1.7"/>
<circle cx="340.5" cy="628.4" r="7.15" fill="#ffffff" stroke="#000" stroke-width="1.7"/>
<circle cx="369.3" cy="628.4" r="7.15" fill="#ffffff" stroke="#000" stroke-width="1.7"/>
<circle cx="398.1" cy="628.4" r="7.15" fill="#ffffff" stroke="#000" stroke-width="1.7"/>
<circle cx="138.8" cy="657.2" r="7.15" fill="#ffffff" stroke="#000" stroke-width="1.7"/>
<circle cx="196.5" cy="657.2" r="7.15" fill="#ffffff" stroke="#000" stroke-width="1.7"/>
<circle cx="196.5" cy="657.2" r="3.6" fill="#000"/>
<circle cx="196.5" cy="686.0" r="7.15" fill="#ffffff" stroke="#000" stroke-width="1.7"/>
<circle cx="225.3" cy="686.0" r="7.15" fill="#ffffff" stroke="#000" stroke-width="1.7"/>
<circle cx="225.3" cy="686.0" r="3.6" fill="#000"/>
<circle cx="282.9" cy="686.0" r="7.15" fill="#ffffff" stroke="#000" stroke-width="1.7"/>
<circle cx="282.9" cy="686.0" r="3.6" fill="#000"/>
<circle cx="282.9" cy="714.8" r="7.15" fill="#ffffff" stroke="#000" stroke-width="1.7"/>
<circle cx="52.4" cy="714.8" r="7.15" fill="#ffffff" stroke="#000" stroke-width="1.7"/>
<circle cx="81.2" cy="714.8" r="7.15" fill="#ffffff" stroke="#000" stroke-width="1.7"/>
<circle cx="52.4" cy="743.6" r="7.15" fill="#ffffff" stroke="#000" stroke-width="1.7"/>
<circle cx="81.2" cy="743.6" r="7.15" fill="#ffffff" stroke="#000" stroke-width="1.7"/>
<circle cx="81.2" cy="1089.4" r="7.15" fill="#ffffff" stroke="#000" stroke-width="1.7"/>
<circle cx="297.3" cy="1089.4" r="7.15" fill="#ffffff" stroke="#000" stroke-width="1.7"/>
<circle cx="254.1" cy="743.6" r="7.15" fill="#ffffff" stroke="#000" stroke-width="1.7"/>
<circle cx="254.1" cy="743.6" r="3.6" fill="#000"/>
<circle cx="340.5" cy="743.6" r="7.15" fill="#ffffff" stroke="#000" stroke-width="1.7"/>
<circle cx="340.5" cy="743.6" r="3.6" fill="#000"/>
<circle cx="282.9" cy="743.6" r="7.15" fill="#ffffff" stroke="#000" stroke-width="1.7"/>
<circle cx="282.9" cy="772.5" r="7.15" fill="#ffffff" stroke="#000" stroke-width="1.7"/>
<circle cx="282.9" cy="772.5" r="3.6" fill="#000"/>
<circle cx="398.1" cy="772.5" r="7.15" fill="#ffffff" stroke="#000" stroke-width="1.7"/>
<circle cx="398.1" cy="772.5" r="3.6" fill="#000"/>
<circle cx="369.3" cy="772.5" r="7.15" fill="#ffffff" stroke="#000" stroke-width="1.7"/>
<circle cx="225.3" cy="801.3" r="7.15" fill="#ffffff" stroke="#000" stroke-width="1.7"/>
<circle cx="225.3" cy="801.3" r="3.6" fill="#000"/>
<circle cx="311.7" cy="801.3" r="7.15" fill="#ffffff" stroke="#000" stroke-width="1.7"/>
<circle cx="311.7" cy="801.3" r="3.6" fill="#000"/>
<circle cx="254.1" cy="830.1" r="7.15" fill="#ffffff" stroke="#000" stroke-width="1.7"/>
<circle cx="254.1" cy="830.1" r="3.6" fill="#000"/>
<circle cx="282.9" cy="858.9" r="7.15" fill="#ffffff" stroke="#000" stroke-width="1.7"/>
<circle cx="282.9" cy="858.9" r="3.6" fill="#000"/>
<circle cx="282.9" cy="830.1" r="7.15" fill="#ffffff" stroke="#000" stroke-width="1.7"/>
<circle cx="311.7" cy="830.1" r="7.15" fill="#ffffff" stroke="#000" stroke-width="1.7"/>
<circle cx="340.5" cy="830.1" r="7.15" fill="#ffffff" stroke="#000" stroke-width="1.7"/>
<circle cx="369.3" cy="830.1" r="7.15" fill="#ffffff" stroke="#000" stroke-width="1.7"/>
<circle cx="369.3" cy="858.9" r="7.15" fill="#ffffff" stroke="#000" stroke-width="1.7"/>
<circle cx="311.7" cy="887.7" r="7.15" fill="#ffffff" stroke="#000" stroke-width="1.7"/>
<circle cx="715.0" cy="23.4" r="7.15" fill="#ffcc99" stroke="#000" stroke-width="1.7" stroke-dasharray="2.6,1.6"/>
<circle cx="772.7" cy="23.4" r="7.15" fill="#ffcc99" stroke="#000" stroke-width="1.7" stroke-dasharray="2.6,1.6"/>
<circle cx="801.5" cy="23.4" r="7.15" fill="#ffcc99" stroke="#000" stroke-width="1.7" stroke-dasharray="2.6,1.6"/>
<circle cx="657.4" cy="52.2" r="7.15" fill="#ffcc99" stroke="#000" stroke-width="1.7" stroke-dasharray="2.6,1.6"/>
<circle cx="628.6" cy="81.0" r="7.15" fill="#ffcc99" stroke="#000" stroke-width="1.7" stroke-dasharray="2.6,1.6"/>
<circle cx="628.6" cy="109.8" r="7.15" fill="#ffcc99" stroke="#000" stroke-width="1.7" stroke-dasharray="2.6,1.6"/>
<circle cx="628.6" cy="167.4" r="7.15" fill="#ffcc99" stroke="#000" stroke-width="1.7" stroke-dasharray="2.6,1.6"/>
<circle cx="743.9" cy="52.2" r="7.15" fill="#ffffff" stroke="#000" stroke-width="1.7"/>
<circle cx="772.7" cy="52.2" r="7.15" fill="#ffffff" stroke="#000" stroke-width="1.7"/>
<circle cx="801.5" cy="52.2" r="7.15" fill="#ffffff" stroke="#000" stroke-width="1.7"/>
<circle cx="686.2" cy="81.0" r="7.15" fill="#ffffff" stroke="#000" stroke-width="1.7"/>
<circle cx="801.5" cy="81.0" r="7.15" fill="#ffffff" stroke="#000" stroke-width="1.7"/>
<circle cx="743.9" cy="81.0" r="7.15" fill="#99ff99" stroke="#000" stroke-width="1.7"/>
<text x="743.9" y="84.8" text-anchor="middle" font-size="11" font-family="Liberation Sans" fill="#000">8</text>
<circle cx="657.4" cy="109.8" r="7.15" fill="#99ff99" stroke="#000" stroke-width="1.7"/>
<text x="657.4" y="113.4" text-anchor="middle" font-size="10" font-family="Liberation Sans" fill="#000" textLength="12.5" lengthAdjust="spacingAndGlyphs">10</text>
<circle cx="686.2" cy="109.8" r="7.15" fill="#99ff99" stroke="#000" stroke-width="1.7"/>
<text x="686.2" y="113.6" text-anchor="middle" font-size="11" font-family="Liberation Sans" fill="#000">6</text>
<circle cx="772.7" cy="138.6" r="7.15" fill="#99ff99" stroke="#000" stroke-width="1.7"/>
<text x="772.7" y="142.4" text-anchor="middle" font-size="11" font-family="Liberation Sans" fill="#000">7</text>
<circle cx="686.2" cy="167.4" r="7.15" fill="#99ff99" stroke="#000" stroke-width="1.7"/>
<text x="686.2" y="171.2" text-anchor="middle" font-size="11" font-family="Liberation Sans" fill="#000">9</text>
<circle cx="772.7" cy="167.4" r="7.15" fill="#99ff99" stroke="#000" stroke-width="1.7"/>
<text x="772.7" y="171.2" text-anchor="middle" font-size="11" font-family="Liberation Sans" fill="#000">9</text>
<circle cx="772.7" cy="196.3" r="7.15" fill="#99ff99" stroke="#000" stroke-width="1.7"/>
<text x="772.7" y="200.1" text-anchor="middle" font-size="11" font-family="Liberation Sans" fill="#000">7</text>
<circle cx="686.2" cy="225.1" r="7.15" fill="#99ff99" stroke="#000" stroke-width="1.7"/>
<text x="686.2" y="228.9" text-anchor="middle" font-size="11" font-family="Liberation Sans" fill="#000">7</text>
<circle cx="801.5" cy="196.3" r="7.15" fill="#99ff99" stroke="#000" stroke-width="1.7"/>
<text x="801.5" y="200.1" text-anchor="middle" font-size="11" font-family="Liberation Sans" fill="#000">7</text>
<circle cx="830.3" cy="196.3" r="7.15" fill="#99ff99" stroke="#000" stroke-width="1.7"/>
<text x="830.3" y="200.1" text-anchor="middle" font-size="11" font-family="Liberation Sans" fill="#000">6</text>
<circle cx="859.1" cy="196.3" r="7.15" fill="#99ff99" stroke="#000" stroke-width="1.7"/>
<text x="859.1" y="200.1" text-anchor="middle" font-size="11" font-family="Liberation Sans" fill="#000">7</text>
<circle cx="657.4" cy="138.6" r="7.15" fill="#ffffff" stroke="#000" stroke-width="1.7"/>
<circle cx="686.2" cy="138.6" r="7.15" fill="#ffffff" stroke="#000" stroke-width="1.7"/>
<circle cx="715.0" cy="138.6" r="7.15" fill="#ffffff" stroke="#000" stroke-width="1.7"/>
<circle cx="743.9" cy="138.6" r="7.15" fill="#ffffff" stroke="#000" stroke-width="1.7"/>
<circle cx="657.4" cy="167.4" r="7.15" fill="#ffffff" stroke="#000" stroke-width="1.7"/>
<circle cx="715.0" cy="167.4" r="7.15" fill="#ffffff" stroke="#000" stroke-width="1.7"/>
<circle cx="743.9" cy="167.4" r="7.15" fill="#ffffff" stroke="#000" stroke-width="1.7"/>
<circle cx="801.5" cy="167.4" r="7.15" fill="#ffffff" stroke="#000" stroke-width="1.7"/>
<circle cx="657.4" cy="196.3" r="7.15" fill="#ffffff" stroke="#000" stroke-width="1.7"/>
<circle cx="686.2" cy="196.3" r="7.15" fill="#ffffff" stroke="#000" stroke-width="1.7"/>
<circle cx="715.0" cy="196.3" r="7.15" fill="#ffffff" stroke="#000" stroke-width="1.7"/>
<circle cx="743.9" cy="196.3" r="7.15" fill="#ffffff" stroke="#000" stroke-width="1.7"/>
<circle cx="628.6" cy="253.9" r="7.15" fill="#ffffff" stroke="#000" stroke-width="1.7"/>
<circle cx="513.4" cy="397.9" r="7.15" fill="#ffffff" stroke="#000" stroke-width="1.7"/>
<circle cx="571.0" cy="397.9" r="7.15" fill="#ffffff" stroke="#000" stroke-width="1.7"/>
<circle cx="657.4" cy="397.9" r="7.15" fill="#ffffff" stroke="#000" stroke-width="1.7"/>
<circle cx="715.0" cy="397.9" r="7.15" fill="#ffffff" stroke="#000" stroke-width="1.7"/>
<circle cx="743.9" cy="397.9" r="7.15" fill="#ffffff" stroke="#000" stroke-width="1.7"/>
<circle cx="542.2" cy="397.9" r="7.15" fill="#ffffff" stroke="#000" stroke-width="1.7"/>
<circle cx="542.2" cy="397.9" r="3.6" fill="#000"/>
<circle cx="628.6" cy="397.9" r="7.15" fill="#ffffff" stroke="#000" stroke-width="1.7"/>
<circle cx="628.6" cy="397.9" r="3.6" fill="#000"/>
<circle cx="686.2" cy="397.9" r="7.15" fill="#ffffff" stroke="#000" stroke-width="1.7"/>
<circle cx="686.2" cy="397.9" r="3.6" fill="#000"/>
<circle cx="599.8" cy="455.5" r="7.15" fill="#ffffff" stroke="#000" stroke-width="1.7"/>
<circle cx="628.6" cy="455.5" r="7.15" fill="#ffffff" stroke="#000" stroke-width="1.7"/>
<circle cx="715.0" cy="455.5" r="7.15" fill="#ffffff" stroke="#000" stroke-width="1.7"/>
<circle cx="657.4" cy="455.5" r="7.15" fill="#ffffff" stroke="#000" stroke-width="1.7"/>
<circle cx="657.4" cy="455.5" r="3.6" fill="#000"/>
<circle cx="686.2" cy="455.5" r="7.15" fill="#ffffff" stroke="#000" stroke-width="1.7"/>
<circle cx="686.2" cy="455.5" r="3.6" fill="#000"/>
<circle cx="743.9" cy="455.5" r="7.15" fill="#ffffff" stroke="#000" stroke-width="1.7"/>
<circle cx="743.9" cy="455.5" r="3.6" fill="#000"/>
<circle cx="772.7" cy="455.5" r="7.15" fill="#ffffff" stroke="#000" stroke-width="1.7"/>
<circle cx="772.7" cy="455.5" r="3.6" fill="#000"/>
<circle cx="657.4" cy="484.4" r="7.15" fill="#ffffff" stroke="#000" stroke-width="1.7"/>
<circle cx="686.2" cy="484.4" r="7.15" fill="#ffffff" stroke="#000" stroke-width="1.7"/>
<circle cx="772.7" cy="484.4" r="7.15" fill="#ffffff" stroke="#000" stroke-width="1.7"/>
<circle cx="801.5" cy="484.4" r="7.15" fill="#ffffff" stroke="#000" stroke-width="1.7"/>
<circle cx="715.0" cy="484.4" r="7.15" fill="#ffffff" stroke="#000" stroke-width="1.7"/>
<circle cx="715.0" cy="484.4" r="3.6" fill="#000"/>
<circle cx="743.9" cy="484.4" r="7.15" fill="#ffffff" stroke="#000" stroke-width="1.7"/>
<circle cx="743.9" cy="484.4" r="3.6" fill="#000"/>
<circle cx="743.9" cy="513.2" r="7.15" fill="#ffffff" stroke="#000" stroke-width="1.7"/>
<circle cx="743.9" cy="513.2" r="3.6" fill="#000"/>
<circle cx="772.7" cy="513.2" r="7.15" fill="#ffffff" stroke="#000" stroke-width="1.7"/>
<circle cx="772.7" cy="513.2" r="3.6" fill="#000"/>
<circle cx="715.0" cy="599.6" r="7.15" fill="#ffffff" stroke="#000" stroke-width="1.7"/>
<circle cx="801.5" cy="599.6" r="7.15" fill="#ffffff" stroke="#000" stroke-width="1.7"/>
<circle cx="426.9" cy="484.4" r="7.15" fill="#ffffff" stroke="#000" stroke-width="1.7"/>
<circle cx="455.8" cy="484.4" r="7.15" fill="#ffffff" stroke="#000" stroke-width="1.7"/>
<circle cx="484.6" cy="484.4" r="7.15" fill="#ffffff" stroke="#000" stroke-width="1.7"/>
<circle cx="455.8" cy="513.2" r="7.15" fill="#ffffff" stroke="#000" stroke-width="1.7"/>
<circle cx="455.8" cy="542.0" r="7.15" fill="#ffffff" stroke="#000" stroke-width="1.7"/>
<circle cx="426.9" cy="599.6" r="7.15" fill="#ffffff" stroke="#000" stroke-width="1.7"/>
<circle cx="455.8" cy="628.4" r="7.15" fill="#ffffff" stroke="#000" stroke-width="1.7"/>
<circle cx="484.6" cy="628.4" r="7.15" fill="#ffffff" stroke="#000" stroke-width="1.7"/>
<circle cx="513.4" cy="628.4" r="7.15" fill="#ffffff" stroke="#000" stroke-width="1.7"/>
<circle cx="484.6" cy="657.2" r="7.15" fill="#ffffff" stroke="#000" stroke-width="1.7"/>
<circle cx="542.2" cy="686.0" r="7.15" fill="#ffffff" stroke="#000" stroke-width="1.7"/>
<circle cx="513.4" cy="714.8" r="7.15" fill="#ffffff" stroke="#000" stroke-width="1.7"/>
<circle cx="542.2" cy="714.8" r="7.15" fill="#ffffff" stroke="#000" stroke-width="1.7"/>
<circle cx="599.8" cy="714.8" r="7.15" fill="#ffffff" stroke="#000" stroke-width="1.7"/>
<circle cx="484.6" cy="743.6" r="7.15" fill="#ffffff" stroke="#000" stroke-width="1.7"/>
<circle cx="513.4" cy="743.6" r="7.15" fill="#ffffff" stroke="#000" stroke-width="1.7"/>
<circle cx="484.6" cy="772.5" r="7.15" fill="#ffffff" stroke="#000" stroke-width="1.7"/>
<circle cx="426.9" cy="801.3" r="7.15" fill="#ffffff" stroke="#000" stroke-width="1.7"/>
<circle cx="484.6" cy="513.2" r="7.15" fill="#ff99ff" stroke="#000" stroke-width="1.7"/>
<circle cx="426.9" cy="513.2" r="7.15" fill="#ffffff" stroke="#000" stroke-width="1.7"/>
<circle cx="426.9" cy="513.2" r="3.6" fill="#000"/>
<circle cx="542.2" cy="542.0" r="7.15" fill="#ffffff" stroke="#000" stroke-width="1.7"/>
<circle cx="542.2" cy="542.0" r="3.6" fill="#000"/>
<circle cx="426.9" cy="570.8" r="7.15" fill="#ffffff" stroke="#000" stroke-width="1.7"/>
<circle cx="426.9" cy="570.8" r="3.6" fill="#000"/>
<circle cx="542.2" cy="570.8" r="7.15" fill="#ffffff" stroke="#000" stroke-width="1.7"/>
<circle cx="542.2" cy="570.8" r="3.6" fill="#000"/>
<circle cx="455.8" cy="599.6" r="7.15" fill="#ffffff" stroke="#000" stroke-width="1.7"/>
<circle cx="455.8" cy="599.6" r="3.6" fill="#000"/>
<circle cx="484.6" cy="599.6" r="7.15" fill="#ffffff" stroke="#000" stroke-width="1.7"/>
<circle cx="484.6" cy="599.6" r="3.6" fill="#000"/>
<circle cx="455.8" cy="657.2" r="7.15" fill="#ffffff" stroke="#000" stroke-width="1.7"/>
<circle cx="455.8" cy="657.2" r="3.6" fill="#000"/>
<circle cx="542.2" cy="657.2" r="7.15" fill="#ffffff" stroke="#000" stroke-width="1.7"/>
<circle cx="542.2" cy="657.2" r="3.6" fill="#000"/>
<circle cx="484.6" cy="714.8" r="7.15" fill="#ffffff" stroke="#000" stroke-width="1.7"/>
<circle cx="484.6" cy="714.8" r="3.6" fill="#000"/>
<circle cx="455.8" cy="743.6" r="7.15" fill="#ffffff" stroke="#000" stroke-width="1.7"/>
<circle cx="455.8" cy="743.6" r="3.6" fill="#000"/>
<circle cx="542.2" cy="801.3" r="7.15" fill="#ffffff" stroke="#000" stroke-width="1.7"/>
<circle cx="542.2" cy="801.3" r="3.6" fill="#000"/>
<circle cx="571.0" cy="830.1" r="7.15" fill="#ffffff" stroke="#000" stroke-width="1.7"/>
<circle cx="571.0" cy="830.1" r="3.6" fill="#000"/>
<circle cx="571.0" cy="858.9" r="7.15" fill="#ffffff" stroke="#000" stroke-width="1.7"/>
<circle cx="571.0" cy="858.9" r="3.6" fill="#000"/>
<circle cx="599.8" cy="858.9" r="7.15" fill="#ffffff" stroke="#000" stroke-width="1.7"/>
<circle cx="599.8" cy="858.9" r="3.6" fill="#000"/>
<circle cx="599.8" cy="887.7" r="7.15" fill="#ffffff" stroke="#000" stroke-width="1.7"/>
<circle cx="628.6" cy="887.7" r="7.15" fill="#ffffff" stroke="#000" stroke-width="1.7"/>
<circle cx="743.9" cy="830.1" r="7.15" fill="#ffffff" stroke="#000" stroke-width="1.7"/>
<circle cx="772.7" cy="830.1" r="7.15" fill="#ffffff" stroke="#000" stroke-width="1.7"/>
<circle cx="801.5" cy="830.1" r="7.15" fill="#ffffff" stroke="#000" stroke-width="1.7"/>
<circle cx="455.8" cy="1089.4" r="7.15" fill="#ffffff" stroke="#000" stroke-width="1.7"/>
<circle cx="571.0" cy="1089.4" r="7.15" fill="#ffffff" stroke="#000" stroke-width="1.7"/>
<circle cx="599.8" cy="1089.4" r="7.15" fill="#ffffff" stroke="#000" stroke-width="1.7"/>
<circle cx="628.6" cy="1089.4" r="7.15" fill="#ffffff" stroke="#000" stroke-width="1.7"/>
<circle cx="657.4" cy="1089.4" r="7.15" fill="#ffffff" stroke="#000" stroke-width="1.7"/>
<circle cx="657.4" cy="1060.6" r="7.15" fill="#ffffff" stroke="#000" stroke-width="1.7"/>
<circle cx="599.8" cy="1118.2" r="7.15" fill="#ffffff" stroke="#000" stroke-width="1.7"/>
<circle cx="628.6" cy="1118.2" r="7.15" fill="#ffffff" stroke="#000" stroke-width="1.7"/>
<circle cx="657.4" cy="1118.2" r="7.15" fill="#ffffff" stroke="#000" stroke-width="1.7"/>
<circle cx="830.3" cy="23.4" r="7.15" fill="#ffcc99" stroke="#000" stroke-width="1.7" stroke-dasharray="2.6,1.6"/>
<circle cx="830.3" cy="52.2" r="7.15" fill="#ffffff" stroke="#000" stroke-width="1.7"/>
<circle cx="859.1" cy="52.2" r="7.15" fill="#ffffff" stroke="#000" stroke-width="1.7"/>
<circle cx="830.3" cy="138.6" r="7.15" fill="#ffffff" stroke="#000" stroke-width="1.7"/>
<circle cx="830.3" cy="167.4" r="7.15" fill="#ffffff" stroke="#000" stroke-width="1.7"/>
<circle cx="859.1" cy="167.4" r="7.15" fill="#ffffff" stroke="#000" stroke-width="1.7"/>
<circle cx="887.9" cy="167.4" r="7.15" fill="#ffffff" stroke="#000" stroke-width="1.7"/>
<circle cx="916.7" cy="167.4" r="7.15" fill="#ffffff" stroke="#000" stroke-width="1.7"/>
<circle cx="887.9" cy="196.3" r="7.15" fill="#ffffff" stroke="#000" stroke-width="1.7"/>
<circle cx="859.1" cy="225.1" r="7.15" fill="#ffffff" stroke="#000" stroke-width="1.7"/>
<circle cx="887.9" cy="225.1" r="7.15" fill="#ffffff" stroke="#000" stroke-width="1.7"/>
<circle cx="859.1" cy="253.9" r="7.15" fill="#ffffff" stroke="#000" stroke-width="1.7"/>
<circle cx="887.9" cy="253.9" r="7.15" fill="#ffffff" stroke="#000" stroke-width="1.7"/>
<circle cx="859.1" cy="282.7" r="7.15" fill="#ffffff" stroke="#000" stroke-width="1.7"/>
<circle cx="887.9" cy="282.7" r="7.15" fill="#ffffff" stroke="#000" stroke-width="1.7"/>
<circle cx="916.7" cy="282.7" r="7.15" fill="#ffffff" stroke="#000" stroke-width="1.7"/>
<circle cx="830.3" cy="311.5" r="7.15" fill="#ffffff" stroke="#000" stroke-width="1.7"/>
<circle cx="887.9" cy="311.5" r="7.15" fill="#ffffff" stroke="#000" stroke-width="1.7"/>
<circle cx="916.7" cy="311.5" r="7.15" fill="#ffffff" stroke="#000" stroke-width="1.7"/>
<circle cx="887.9" cy="340.3" r="7.15" fill="#ffffff" stroke="#000" stroke-width="1.7"/>
<circle cx="916.7" cy="340.3" r="7.15" fill="#ffffff" stroke="#000" stroke-width="1.7"/>
<circle cx="887.9" cy="369.1" r="7.15" fill="#ffffff" stroke="#000" stroke-width="1.7"/>
<circle cx="916.7" cy="369.1" r="7.15" fill="#ffffff" stroke="#000" stroke-width="1.7"/>
<circle cx="887.9" cy="397.9" r="7.15" fill="#ffffff" stroke="#000" stroke-width="1.7"/>
<circle cx="859.1" cy="138.6" r="7.15" fill="#ffffff" stroke="#000" stroke-width="1.7"/>
<text x="859.1" y="142.2" text-anchor="middle" font-size="10" font-family="Liberation Sans" fill="#000" textLength="12.5" lengthAdjust="spacingAndGlyphs">11</text>
<circle cx="916.7" cy="253.9" r="7.15" fill="#ffffff" stroke="#000" stroke-width="1.7"/>
<circle cx="916.7" cy="253.9" r="3.6" fill="#000"/>
<circle cx="916.7" cy="397.9" r="7.15" fill="#ffcc99" stroke="#000" stroke-width="1.7" stroke-dasharray="2.6,1.6"/>
<circle cx="1031.9" cy="52.2" r="7.15" fill="#ffffff" stroke="#000" stroke-width="1.7"/>
<circle cx="1060.8" cy="81.0" r="7.15" fill="#ffffff" stroke="#000" stroke-width="1.7"/>
<circle cx="1089.6" cy="167.4" r="7.15" fill="#ffffff" stroke="#000" stroke-width="1.7"/>
<circle cx="1118.4" cy="138.6" r="7.15" fill="#ffffff" stroke="#000" stroke-width="1.7"/>
<circle cx="1147.2" cy="138.6" r="7.15" fill="#ffffff" stroke="#000" stroke-width="1.7"/>
<circle cx="1176.0" cy="109.8" r="7.15" fill="#ffffff" stroke="#000" stroke-width="1.7"/>
<circle cx="1118.4" cy="167.4" r="7.15" fill="#ffffff" stroke="#000" stroke-width="1.7"/>
<circle cx="1147.2" cy="167.4" r="7.15" fill="#ffffff" stroke="#000" stroke-width="1.7"/>
<circle cx="1147.2" cy="225.1" r="7.15" fill="#ffffff" stroke="#000" stroke-width="1.7"/>
<circle cx="1089.6" cy="282.7" r="7.15" fill="#ffffff" stroke="#000" stroke-width="1.7"/>
<circle cx="1118.4" cy="282.7" r="7.15" fill="#ffffff" stroke="#000" stroke-width="1.7"/>
<circle cx="1147.2" cy="282.7" r="7.15" fill="#ffffff" stroke="#000" stroke-width="1.7"/>
<circle cx="1204.8" cy="282.7" r="7.15" fill="#ffffff" stroke="#000" stroke-width="1.7"/>
<circle cx="1060.8" cy="311.5" r="7.15" fill="#ffffff" stroke="#000" stroke-width="1.7"/>
<circle cx="1118.4" cy="311.5" r="7.15" fill="#ffffff" stroke="#000" stroke-width="1.7"/>
<circle cx="1147.2" cy="311.5" r="7.15" fill="#ffffff" stroke="#000" stroke-width="1.7"/>
<circle cx="1176.0" cy="311.5" r="7.15" fill="#ffffff" stroke="#000" stroke-width="1.7"/>
<circle cx="1060.8" cy="340.3" r="7.15" fill="#ffffff" stroke="#000" stroke-width="1.7"/>
<circle cx="1089.6" cy="340.3" r="7.15" fill="#ffffff" stroke="#000" stroke-width="1.7"/>
<circle cx="1118.4" cy="340.3" r="7.15" fill="#ffffff" stroke="#000" stroke-width="1.7"/>
<circle cx="1147.2" cy="340.3" r="7.15" fill="#ffffff" stroke="#000" stroke-width="1.7"/>
<circle cx="1176.0" cy="340.3" r="7.15" fill="#ffffff" stroke="#000" stroke-width="1.7"/>
<circle cx="1060.8" cy="369.1" r="7.15" fill="#ffffff" stroke="#000" stroke-width="1.7"/>
<circle cx="1089.6" cy="369.1" r="7.15" fill="#ffffff" stroke="#000" stroke-width="1.7"/>
<circle cx="1118.4" cy="369.1" r="7.15" fill="#ffffff" stroke="#000" stroke-width="1.7"/>
<circle cx="1147.2" cy="369.1" r="7.15" fill="#ffffff" stroke="#000" stroke-width="1.7"/>
<circle cx="1060.8" cy="52.2" r="7.15" fill="#ffffff" stroke="#000" stroke-width="1.7"/>
<circle cx="1060.8" cy="52.2" r="3.6" fill="#000"/>
<circle cx="1089.6" cy="81.0" r="7.15" fill="#ffffff" stroke="#000" stroke-width="1.7"/>
<circle cx="1089.6" cy="81.0" r="3.6" fill="#000"/>
<circle cx="1089.6" cy="138.6" r="7.15" fill="#ffffff" stroke="#000" stroke-width="1.7"/>
<circle cx="1089.6" cy="138.6" r="3.6" fill="#000"/>
<circle cx="1118.4" cy="253.9" r="7.15" fill="#ffffff" stroke="#000" stroke-width="1.7"/>
<circle cx="1118.4" cy="253.9" r="3.6" fill="#000"/>
<circle cx="1147.2" cy="253.9" r="7.15" fill="#ffffff" stroke="#000" stroke-width="1.7"/>
<circle cx="1147.2" cy="253.9" r="3.6" fill="#000"/>
<circle cx="1003.1" cy="81.0" r="7.15" fill="#ffcc99" stroke="#000" stroke-width="1.7" stroke-dasharray="2.6,1.6"/>
<circle cx="1204.8" cy="138.6" r="7.15" fill="#cc99ff" stroke="#000" stroke-width="1.7" stroke-dasharray="2.6,1.6"/>
<circle cx="1204.8" cy="138.6" r="3.6" fill="#000"/>
<circle cx="1176.0" cy="167.4" r="7.15" fill="#cc99ff" stroke="#000" stroke-width="1.7" stroke-dasharray="2.6,1.6"/>
<circle cx="1204.8" cy="167.4" r="7.15" fill="#cc99ff" stroke="#000" stroke-width="1.7" stroke-dasharray="2.6,1.6"/>
<circle cx="1233.6" cy="138.6" r="7.15" fill="#cc99ff" stroke="#000" stroke-width="1.7" stroke-dasharray="2.6,1.6"/>
<circle cx="1089.6" cy="426.7" r="7.15" fill="#ffffff" stroke="#000" stroke-width="1.7"/>
<path d="M1084.6,421.7L1094.6,431.7M1094.6,421.7L1084.6,431.7" stroke="#000" stroke-width="1.2"/>
<circle cx="1003.1" cy="455.5" r="7.15" fill="#ffffff" stroke="#000" stroke-width="1.7"/>
<circle cx="1031.9" cy="455.5" r="7.15" fill="#ffffff" stroke="#000" stroke-width="1.7"/>
<circle cx="916.7" cy="484.4" r="7.15" fill="#ffffff" stroke="#000" stroke-width="1.7"/>
<circle cx="945.5" cy="484.4" r="7.15" fill="#ffffff" stroke="#000" stroke-width="1.7"/>
<circle cx="974.3" cy="484.4" r="7.15" fill="#ffffff" stroke="#000" stroke-width="1.7"/>
<circle cx="887.9" cy="513.2" r="7.15" fill="#ffffff" stroke="#000" stroke-width="1.7"/>
<circle cx="945.5" cy="513.2" r="7.15" fill="#ffffff" stroke="#000" stroke-width="1.7"/>
<circle cx="859.1" cy="542.0" r="7.15" fill="#ffffff" stroke="#000" stroke-width="1.7"/>
<circle cx="887.9" cy="542.0" r="7.15" fill="#ffffff" stroke="#000" stroke-width="1.7"/>
<circle cx="1031.9" cy="542.0" r="7.15" fill="#ffffff" stroke="#000" stroke-width="1.7"/>
<circle cx="1060.8" cy="570.8" r="7.15" fill="#ffffff" stroke="#000" stroke-width="1.7"/>
<circle cx="945.5" cy="599.6" r="7.15" fill="#ffffff" stroke="#000" stroke-width="1.7"/>
<circle cx="974.3" cy="599.6" r="7.15" fill="#ffffff" stroke="#000" stroke-width="1.7"/>
<circle cx="1003.1" cy="599.6" r="7.15" fill="#ffffff" stroke="#000" stroke-width="1.7"/>
<circle cx="887.9" cy="628.4" r="7.15" fill="#ffffff" stroke="#000" stroke-width="1.7"/>
<circle cx="1003.1" cy="570.8" r="7.15" fill="#ffffff" stroke="#000" stroke-width="1.7"/>
<text x="1003.1" y="574.6" text-anchor="middle" font-size="11" font-family="Liberation Sans" fill="#000">5</text>
<circle cx="859.1" cy="513.2" r="7.15" fill="#ffffff" stroke="#000" stroke-width="1.7"/>
<path d="M854.1,508.2L864.1,518.2M864.1,508.2L854.1,518.2" stroke="#000" stroke-width="1.2"/>
<circle cx="859.1" cy="599.6" r="7.15" fill="#ffffff" stroke="#000" stroke-width="1.7"/>
<circle cx="859.1" cy="599.6" r="3.6" fill="#000"/>
<circle cx="1031.9" cy="599.6" r="7.15" fill="#cc99ff" stroke="#000" stroke-width="1.7" stroke-dasharray="2.6,1.6"/>
<circle cx="1031.9" cy="599.6" r="3.6" fill="#000"/>
<circle cx="974.3" cy="686.0" r="7.15" fill="#ffcc99" stroke="#000" stroke-width="1.7" stroke-dasharray="2.6,1.6"/>
<circle cx="1060.8" cy="801.3" r="7.15" fill="#ffcc99" stroke="#000" stroke-width="1.7" stroke-dasharray="2.6,1.6"/>
<circle cx="1060.8" cy="657.2" r="7.15" fill="#ffffff" stroke="#000" stroke-width="1.7"/>
<circle cx="1003.1" cy="686.0" r="7.15" fill="#ffffff" stroke="#000" stroke-width="1.7"/>
<circle cx="974.3" cy="743.6" r="7.15" fill="#ffffff" stroke="#000" stroke-width="1.7"/>
<circle cx="1118.4" cy="743.6" r="7.15" fill="#ffffff" stroke="#000" stroke-width="1.7"/>
<circle cx="1003.1" cy="772.5" r="7.15" fill="#ffffff" stroke="#000" stroke-width="1.7"/>
<circle cx="1147.2" cy="772.5" r="7.15" fill="#ffffff" stroke="#000" stroke-width="1.7"/>
<circle cx="1031.9" cy="686.0" r="7.15" fill="#ffffff" stroke="#000" stroke-width="1.7"/>
<circle cx="1031.9" cy="686.0" r="3.6" fill="#000"/>
<circle cx="1060.8" cy="686.0" r="7.15" fill="#ffffff" stroke="#000" stroke-width="1.7"/>
<circle cx="1060.8" cy="686.0" r="3.6" fill="#000"/>
<circle cx="1089.6" cy="686.0" r="7.15" fill="#ffffff" stroke="#000" stroke-width="1.7"/>
<circle cx="1089.6" cy="686.0" r="3.6" fill="#000"/>
<circle cx="1003.1" cy="714.8" r="7.15" fill="#ffffff" stroke="#000" stroke-width="1.7"/>
<circle cx="1003.1" cy="714.8" r="3.6" fill="#000"/>
<circle cx="1031.9" cy="714.8" r="7.15" fill="#ffffff" stroke="#000" stroke-width="1.7"/>
<circle cx="1031.9" cy="714.8" r="3.6" fill="#000"/>
<circle cx="1060.8" cy="714.8" r="7.15" fill="#ffffff" stroke="#000" stroke-width="1.7"/>
<circle cx="1060.8" cy="714.8" r="3.6" fill="#000"/>
<circle cx="1089.6" cy="714.8" r="7.15" fill="#ffffff" stroke="#000" stroke-width="1.7"/>
<circle cx="1089.6" cy="714.8" r="3.6" fill="#000"/>
<circle cx="1031.9" cy="743.6" r="7.15" fill="#ffffff" stroke="#000" stroke-width="1.7"/>
<circle cx="1031.9" cy="743.6" r="3.6" fill="#000"/>
<circle cx="1060.8" cy="743.6" r="7.15" fill="#ffffff" stroke="#000" stroke-width="1.7"/>
<circle cx="1060.8" cy="743.6" r="3.6" fill="#000"/>
<circle cx="1089.6" cy="743.6" r="7.15" fill="#ffffff" stroke="#000" stroke-width="1.7"/>
<circle cx="1089.6" cy="743.6" r="3.6" fill="#000"/>
<circle cx="1176.0" cy="801.3" r="7.15" fill="#ffffff" stroke="#000" stroke-width="1.7"/>
<circle cx="1176.0" cy="801.3" r="3.6" fill="#000"/>
<circle cx="859.1" cy="772.5" r="7.15" fill="#ffcc99" stroke="#000" stroke-width="1.7" stroke-dasharray="2.6,1.6"/>
<circle cx="830.3" cy="801.3" r="7.15" fill="#ffffff" stroke="#000" stroke-width="1.7"/>
<circle cx="887.9" cy="830.1" r="7.15" fill="#ffffff" stroke="#000" stroke-width="1.7"/>
<circle cx="1089.6" cy="830.1" r="7.15" fill="#ffffff" stroke="#000" stroke-width="1.7"/>
<circle cx="1118.4" cy="830.1" r="7.15" fill="#ffffff" stroke="#000" stroke-width="1.7"/>
<circle cx="1176.0" cy="830.1" r="7.15" fill="#ffffff" stroke="#000" stroke-width="1.7"/>
<circle cx="801.5" cy="858.9" r="7.15" fill="#ffffff" stroke="#000" stroke-width="1.7"/>
<circle cx="830.3" cy="858.9" r="7.15" fill="#ffffff" stroke="#000" stroke-width="1.7"/>
<circle cx="859.1" cy="858.9" r="7.15" fill="#ffffff" stroke="#000" stroke-width="1.7"/>
<circle cx="916.7" cy="858.9" r="7.15" fill="#ffffff" stroke="#000" stroke-width="1.7"/>
<circle cx="974.3" cy="858.9" r="7.15" fill="#ffffff" stroke="#000" stroke-width="1.7"/>
<circle cx="1003.1" cy="858.9" r="7.15" fill="#ffffff" stroke="#000" stroke-width="1.7"/>
<circle cx="1031.9" cy="858.9" r="7.15" fill="#ffffff" stroke="#000" stroke-width="1.7"/>
<circle cx="1089.6" cy="858.9" r="7.15" fill="#ffffff" stroke="#000" stroke-width="1.7"/>
<circle cx="1118.4" cy="858.9" r="7.15" fill="#ffffff" stroke="#000" stroke-width="1.7"/>
<circle cx="1176.0" cy="858.9" r="7.15" fill="#ffffff" stroke="#000" stroke-width="1.7"/>
<circle cx="1147.2" cy="830.1" r="7.15" fill="#ffcc99" stroke="#000" stroke-width="1.7" stroke-dasharray="2.6,1.6"/>
<circle cx="1060.8" cy="858.9" r="7.15" fill="#ffffff" stroke="#000" stroke-width="1.7"/>
<circle cx="1060.8" cy="858.9" r="3.6" fill="#000"/>
<circle cx="801.5" cy="887.7" r="7.15" fill="#ffffff" stroke="#000" stroke-width="1.7"/>
<circle cx="830.3" cy="887.7" r="7.15" fill="#ffffff" stroke="#000" stroke-width="1.7"/>
<circle cx="859.1" cy="887.7" r="7.15" fill="#ffffff" stroke="#000" stroke-width="1.7"/>
<circle cx="887.9" cy="887.7" r="7.15" fill="#ffffff" stroke="#000" stroke-width="1.7"/>
<circle cx="945.5" cy="887.7" r="7.15" fill="#ffffff" stroke="#000" stroke-width="1.7"/>
<circle cx="974.3" cy="887.7" r="7.15" fill="#ffffff" stroke="#000" stroke-width="1.7"/>
<circle cx="1089.6" cy="887.7" r="7.15" fill="#ffffff" stroke="#000" stroke-width="1.7"/>
<circle cx="1118.4" cy="887.7" r="7.15" fill="#ffffff" stroke="#000" stroke-width="1.7"/>
<circle cx="1003.1" cy="887.7" r="7.15" fill="#ffcc99" stroke="#000" stroke-width="1.7" stroke-dasharray="2.6,1.6"/>
<text x="1003.1" y="891.5" text-anchor="middle" font-size="11" font-family="Liberation Sans" fill="#000">L</text>
<circle cx="830.3" cy="916.5" r="7.15" fill="#ffffff" stroke="#000" stroke-width="1.7"/>
<circle cx="830.3" cy="916.5" r="3.6" fill="#000"/>
<circle cx="916.7" cy="916.5" r="7.15" fill="#ffffff" stroke="#000" stroke-width="1.7"/>
<circle cx="916.7" cy="916.5" r="3.6" fill="#000"/>
<circle cx="1060.8" cy="916.5" r="7.15" fill="#ffffff" stroke="#000" stroke-width="1.7"/>
<circle cx="1060.8" cy="916.5" r="3.6" fill="#000"/>
<circle cx="974.3" cy="916.5" r="7.15" fill="#ffffff" stroke="#000" stroke-width="1.7"/>
<circle cx="1003.1" cy="916.5" r="7.15" fill="#ffffff" stroke="#000" stroke-width="1.7"/>
<circle cx="1031.9" cy="916.5" r="7.15" fill="#ffffff" stroke="#000" stroke-width="1.7"/>
<circle cx="1176.0" cy="916.5" r="7.15" fill="#ffffff" stroke="#000" stroke-width="1.7"/>
<circle cx="801.5" cy="945.3" r="7.15" fill="#ffffff" stroke="#000" stroke-width="1.7"/>
<circle cx="945.5" cy="945.3" r="7.15" fill="#ffffff" stroke="#000" stroke-width="1.7"/>
<circle cx="1060.8" cy="945.3" r="7.15" fill="#ffffff" stroke="#000" stroke-width="1.7"/>
<circle cx="859.1" cy="974.1" r="7.15" fill="#ffffff" stroke="#000" stroke-width="1.7"/>
<circle cx="887.9" cy="974.1" r="7.15" fill="#ffffff" stroke="#000" stroke-width="1.7"/>
<circle cx="945.5" cy="974.1" r="7.15" fill="#ffffff" stroke="#000" stroke-width="1.7"/>
<circle cx="1060.8" cy="974.1" r="7.15" fill="#ffffff" stroke="#000" stroke-width="1.7"/>
<circle cx="801.5" cy="1002.9" r="7.15" fill="#ffffff" stroke="#000" stroke-width="1.7"/>
<circle cx="974.3" cy="1002.9" r="7.15" fill="#ffffff" stroke="#000" stroke-width="1.7"/>
<circle cx="1060.8" cy="1002.9" r="7.15" fill="#ffffff" stroke="#000" stroke-width="1.7"/>
<circle cx="1176.0" cy="1002.9" r="7.15" fill="#ffffff" stroke="#000" stroke-width="1.7"/>
<circle cx="830.3" cy="1031.8" r="7.15" fill="#ffffff" stroke="#000" stroke-width="1.7"/>
<circle cx="801.5" cy="1060.6" r="7.15" fill="#ffffff" stroke="#000" stroke-width="1.7"/>
<circle cx="1147.2" cy="1060.6" r="7.15" fill="#ffffff" stroke="#000" stroke-width="1.7"/>
<circle cx="945.5" cy="1089.4" r="7.15" fill="#ffffff" stroke="#000" stroke-width="1.7"/>
<circle cx="1147.2" cy="1089.4" r="7.15" fill="#ffffff" stroke="#000" stroke-width="1.7"/>
<circle cx="1176.0" cy="1089.4" r="7.15" fill="#ffffff" stroke="#000" stroke-width="1.7"/>
<circle cx="887.9" cy="1118.2" r="7.15" fill="#ffffff" stroke="#000" stroke-width="1.7"/>
<circle cx="945.5" cy="1118.2" r="7.15" fill="#ffffff" stroke="#000" stroke-width="1.7"/>
<circle cx="1118.4" cy="1118.2" r="7.15" fill="#ffffff" stroke="#000" stroke-width="1.7"/>
<circle cx="1147.2" cy="1118.2" r="7.15" fill="#ffffff" stroke="#000" stroke-width="1.7"/>
<circle cx="974.3" cy="1147.0" r="7.15" fill="#ffffff" stroke="#000" stroke-width="1.7"/>
<circle cx="1118.4" cy="1175.8" r="7.15" fill="#ffffff" stroke="#000" stroke-width="1.7"/>
<circle cx="1147.2" cy="1175.8" r="7.15" fill="#ffffff" stroke="#000" stroke-width="1.7"/>
<circle cx="1089.6" cy="1204.6" r="7.15" fill="#ffffff" stroke="#000" stroke-width="1.7"/>
<circle cx="1176.0" cy="945.3" r="7.15" fill="#ffffff" stroke="#000" stroke-width="1.7"/>
<circle cx="1176.0" cy="945.3" r="3.6" fill="#000"/>
<circle cx="830.3" cy="945.3" r="7.15" fill="#ffffff" stroke="#000" stroke-width="1.7"/>
<circle cx="830.3" cy="945.3" r="3.6" fill="#000"/>
<circle cx="887.9" cy="1002.9" r="7.15" fill="#ffffff" stroke="#000" stroke-width="1.7"/>
<circle cx="887.9" cy="1002.9" r="3.6" fill="#000"/>
<circle cx="1118.4" cy="1002.9" r="7.15" fill="#ffffff" stroke="#000" stroke-width="1.7"/>
<circle cx="1118.4" cy="1002.9" r="3.6" fill="#000"/>
<circle cx="1176.0" cy="1031.8" r="7.15" fill="#ffffff" stroke="#000" stroke-width="1.7"/>
<circle cx="1176.0" cy="1031.8" r="3.6" fill="#000"/>
<circle cx="1176.0" cy="1060.6" r="7.15" fill="#ffffff" stroke="#000" stroke-width="1.7"/>
<circle cx="1176.0" cy="1060.6" r="3.6" fill="#000"/>
<circle cx="1118.4" cy="1147.0" r="7.15" fill="#ffffff" stroke="#000" stroke-width="1.7"/>
<circle cx="1118.4" cy="1147.0" r="3.6" fill="#000"/>
<circle cx="1118.4" cy="1204.6" r="7.15" fill="#ffffff" stroke="#000" stroke-width="1.7"/>
<circle cx="1118.4" cy="1204.6" r="3.6" fill="#000"/>
<circle cx="1147.2" cy="1204.6" r="7.15" fill="#ffffff" stroke="#000" stroke-width="1.7"/>
<circle cx="1147.2" cy="1204.6" r="3.6" fill="#000"/>
<circle cx="1176.0" cy="1204.6" r="7.15" fill="#ffffff" stroke="#000" stroke-width="1.7"/>
<circle cx="1176.0" cy="1204.6" r="3.6" fill="#000"/>
<circle cx="945.5" cy="1031.8" r="7.15" fill="#cc99ff" stroke="#000" stroke-width="1.7" stroke-dasharray="2.6,1.6"/>
<text x="945.5" y="1035.3" text-anchor="middle" font-size="10" font-family="Liberation Sans" fill="#000" textLength="12.5" lengthAdjust="spacingAndGlyphs">18</text>
<circle cx="916.7" cy="1147.0" r="7.15" fill="#cc99ff" stroke="#000" stroke-width="1.7" stroke-dasharray="2.6,1.6"/>
<text x="916.7" y="1150.6" text-anchor="middle" font-size="10" font-family="Liberation Sans" fill="#000" textLength="12.5" lengthAdjust="spacingAndGlyphs">18</text>
<circle cx="801.5" cy="1118.2" r="7.15" fill="#ffffff" stroke="#000" stroke-width="1.7"/>
<text x="801.5" y="1121.8" text-anchor="middle" font-size="10" font-family="Liberation Sans" fill="#000" textLength="12.5" lengthAdjust="spacingAndGlyphs">17</text>
<circle cx="859.1" cy="1147.0" r="7.15" fill="#ffcc99" stroke="#000" stroke-width="1.7" stroke-dasharray="2.6,1.6"/>
<circle cx="1147.2" cy="1147.0" r="7.15" fill="#ffffff" stroke="#000" stroke-width="1.7"/>
<circle cx="1262.4" cy="81.0" r="7.15" fill="#ffffff" stroke="#000" stroke-width="1.7"/>
<circle cx="1320.0" cy="109.8" r="7.15" fill="#ffffff" stroke="#000" stroke-width="1.7"/>
<circle cx="1348.9" cy="109.8" r="7.15" fill="#ffffff" stroke="#000" stroke-width="1.7"/>
<circle cx="1348.9" cy="138.6" r="7.15" fill="#ffffff" stroke="#000" stroke-width="1.7"/>
<circle cx="1348.9" cy="167.4" r="7.15" fill="#ffffff" stroke="#000" stroke-width="1.7"/>
<circle cx="1406.5" cy="196.3" r="7.15" fill="#ffffff" stroke="#000" stroke-width="1.7"/>
<circle cx="1262.4" cy="109.8" r="7.15" fill="#99ff99" stroke="#000" stroke-width="1.7"/>
<circle cx="1262.4" cy="109.8" r="3.6" fill="#000"/>
<circle cx="1262.4" cy="138.6" r="7.15" fill="#ffffff" stroke="#000" stroke-width="1.7"/>
<circle cx="1262.4" cy="138.6" r="3.6" fill="#000"/>
<circle cx="1406.5" cy="225.1" r="7.15" fill="#ffffff" stroke="#000" stroke-width="1.7"/>
<circle cx="1406.5" cy="225.1" r="3.6" fill="#000"/>
<circle cx="1262.4" cy="167.4" r="7.15" fill="#ffcc99" stroke="#000" stroke-width="1.7" stroke-dasharray="2.6,1.6"/>
<circle cx="1262.4" cy="167.4" r="3.6" fill="#000"/>
<circle cx="1320.0" cy="196.3" r="7.15" fill="#ff99ff" stroke="#000" stroke-width="1.7"/>
<circle cx="1464.1" cy="253.9" r="7.15" fill="#ffffff" stroke="#000" stroke-width="1.7"/>
<text x="1464.1" y="257.7" text-anchor="middle" font-size="11" font-family="Liberation Sans" fill="#000">8</text>
<circle cx="1233.6" cy="282.7" r="7.15" fill="#99ff99" stroke="#000" stroke-width="1.7"/>
<circle cx="1233.6" cy="311.5" r="7.15" fill="#ff99ff" stroke="#000" stroke-width="1.7"/>
<circle cx="1291.2" cy="282.7" r="7.15" fill="#cc99ff" stroke="#000" stroke-width="1.7" stroke-dasharray="2.6,1.6"/>
<text x="1291.2" y="286.3" text-anchor="middle" font-size="10" font-family="Liberation Sans" fill="#000" textLength="12.5" lengthAdjust="spacingAndGlyphs">14</text>
<circle cx="1320.0" cy="282.7" r="7.15" fill="#cc99ff" stroke="#000" stroke-width="1.7" stroke-dasharray="2.6,1.6"/>
<text x="1320.0" y="286.3" text-anchor="middle" font-size="10" font-family="Liberation Sans" fill="#000" textLength="12.5" lengthAdjust="spacingAndGlyphs">16</text>
<circle cx="1348.9" cy="282.7" r="7.15" fill="#cc99ff" stroke="#000" stroke-width="1.7" stroke-dasharray="2.6,1.6"/>
<text x="1348.9" y="286.3" text-anchor="middle" font-size="10" font-family="Liberation Sans" fill="#000" textLength="12.5" lengthAdjust="spacingAndGlyphs">16</text>
<circle cx="1377.7" cy="282.7" r="7.15" fill="#cc99ff" stroke="#000" stroke-width="1.7" stroke-dasharray="2.6,1.6"/>
<text x="1377.7" y="286.3" text-anchor="middle" font-size="10" font-family="Liberation Sans" fill="#000" textLength="12.5" lengthAdjust="spacingAndGlyphs">14</text>
<circle cx="1435.3" cy="282.7" r="7.15" fill="#cc99ff" stroke="#000" stroke-width="1.7" stroke-dasharray="2.6,1.6"/>
<text x="1435.3" y="286.3" text-anchor="middle" font-size="10" font-family="Liberation Sans" fill="#000" textLength="12.5" lengthAdjust="spacingAndGlyphs">13</text>
<circle cx="1550.5" cy="282.7" r="7.15" fill="#cc99ff" stroke="#000" stroke-width="1.7" stroke-dasharray="2.6,1.6"/>
<text x="1550.5" y="286.3" text-anchor="middle" font-size="10" font-family="Liberation Sans" fill="#000" textLength="12.5" lengthAdjust="spacingAndGlyphs">14</text>
<circle cx="1579.3" cy="282.7" r="7.15" fill="#cc99ff" stroke="#000" stroke-width="1.7" stroke-dasharray="2.6,1.6"/>
<text x="1579.3" y="286.3" text-anchor="middle" font-size="10" font-family="Liberation Sans" fill="#000" textLength="12.5" lengthAdjust="spacingAndGlyphs">13</text>
<circle cx="1608.1" cy="282.7" r="7.15" fill="#cc99ff" stroke="#000" stroke-width="1.7" stroke-dasharray="2.6,1.6"/>
<text x="1608.1" y="286.3" text-anchor="middle" font-size="10" font-family="Liberation Sans" fill="#000" textLength="12.5" lengthAdjust="spacingAndGlyphs">12</text>
<circle cx="1291.2" cy="311.5" r="7.15" fill="#cc99ff" stroke="#000" stroke-width="1.7" stroke-dasharray="2.6,1.6"/>
<text x="1291.2" y="315.1" text-anchor="middle" font-size="10" font-family="Liberation Sans" fill="#000" textLength="12.5" lengthAdjust="spacingAndGlyphs">16</text>
<circle cx="1550.5" cy="311.5" r="7.15" fill="#cc99ff" stroke="#000" stroke-width="1.7" stroke-dasharray="2.6,1.6"/>
<text x="1550.5" y="315.1" text-anchor="middle" font-size="10" font-family="Liberation Sans" fill="#000" textLength="12.5" lengthAdjust="spacingAndGlyphs">13</text>
<circle cx="1608.1" cy="311.5" r="7.15" fill="#cc99ff" stroke="#000" stroke-width="1.7" stroke-dasharray="2.6,1.6"/>
<text x="1608.1" y="315.1" text-anchor="middle" font-size="10" font-family="Liberation Sans" fill="#000" textLength="12.5" lengthAdjust="spacingAndGlyphs">14</text>
<circle cx="1291.2" cy="340.3" r="7.15" fill="#cc99ff" stroke="#000" stroke-width="1.7" stroke-dasharray="2.6,1.6"/>
<text x="1291.2" y="343.9" text-anchor="middle" font-size="10" font-family="Liberation Sans" fill="#000" textLength="12.5" lengthAdjust="spacingAndGlyphs">16</text>
<circle cx="1521.7" cy="340.3" r="7.15" fill="#cc99ff" stroke="#000" stroke-width="1.7" stroke-dasharray="2.6,1.6"/>
<text x="1521.7" y="343.9" text-anchor="middle" font-size="10" font-family="Liberation Sans" fill="#000" textLength="12.5" lengthAdjust="spacingAndGlyphs">15</text>
<circle cx="1363.3" cy="354.7" r="7.15" fill="#cc99ff" stroke="#000" stroke-width="1.7" stroke-dasharray="2.6,1.6"/>
<text x="1363.3" y="358.3" text-anchor="middle" font-size="10" font-family="Liberation Sans" fill="#000" textLength="12.5" lengthAdjust="spacingAndGlyphs">14</text>
<circle cx="1320.0" cy="369.1" r="7.15" fill="#cc99ff" stroke="#000" stroke-width="1.7" stroke-dasharray="2.6,1.6"/>
<text x="1320.0" y="372.7" text-anchor="middle" font-size="10" font-family="Liberation Sans" fill="#000" textLength="12.5" lengthAdjust="spacingAndGlyphs">16</text>
<circle cx="1550.5" cy="369.1" r="7.15" fill="#cc99ff" stroke="#000" stroke-width="1.7" stroke-dasharray="2.6,1.6"/>
<text x="1550.5" y="372.7" text-anchor="middle" font-size="10" font-family="Liberation Sans" fill="#000" textLength="12.5" lengthAdjust="spacingAndGlyphs">13</text>
<circle cx="1608.1" cy="397.9" r="7.15" fill="#cc99ff" stroke="#000" stroke-width="1.7" stroke-dasharray="2.6,1.6"/>
<text x="1608.1" y="401.5" text-anchor="middle" font-size="10" font-family="Liberation Sans" fill="#000" textLength="12.5" lengthAdjust="spacingAndGlyphs">16</text>
<circle cx="1377.7" cy="426.7" r="7.15" fill="#cc99ff" stroke="#000" stroke-width="1.7" stroke-dasharray="2.6,1.6"/>
<text x="1377.7" y="430.3" text-anchor="middle" font-size="10" font-family="Liberation Sans" fill="#000" textLength="12.5" lengthAdjust="spacingAndGlyphs">15</text>
<circle cx="1449.7" cy="441.1" r="7.15" fill="#cc99ff" stroke="#000" stroke-width="1.7" stroke-dasharray="2.6,1.6"/>
<text x="1449.7" y="444.7" text-anchor="middle" font-size="10" font-family="Liberation Sans" fill="#000" textLength="12.5" lengthAdjust="spacingAndGlyphs">15</text>
<circle cx="1536.1" cy="441.1" r="7.15" fill="#cc99ff" stroke="#000" stroke-width="1.7" stroke-dasharray="2.6,1.6"/>
<text x="1536.1" y="444.7" text-anchor="middle" font-size="10" font-family="Liberation Sans" fill="#000" textLength="12.5" lengthAdjust="spacingAndGlyphs">13</text>
<circle cx="1608.1" cy="455.5" r="7.15" fill="#cc99ff" stroke="#000" stroke-width="1.7" stroke-dasharray="2.6,1.6"/>
<text x="1608.1" y="459.1" text-anchor="middle" font-size="10" font-family="Liberation Sans" fill="#000" textLength="12.5" lengthAdjust="spacingAndGlyphs">16</text>
<circle cx="1320.0" cy="311.5" r="7.15" fill="#99ff99" stroke="#000" stroke-width="1.7"/>
<circle cx="1406.5" cy="311.5" r="7.15" fill="#ffffff" stroke="#000" stroke-width="1.7"/>
<text x="1406.5" y="315.1" text-anchor="middle" font-size="10" font-family="Liberation Sans" fill="#000" textLength="12.5" lengthAdjust="spacingAndGlyphs">12</text>
<circle cx="1492.9" cy="311.5" r="7.15" fill="#ffffff" stroke="#000" stroke-width="1.7"/>
<circle cx="1579.3" cy="311.5" r="7.15" fill="#ffffff" stroke="#000" stroke-width="1.7"/>
<text x="1579.3" y="315.1" text-anchor="middle" font-size="10" font-family="Liberation Sans" fill="#000" textLength="12.5" lengthAdjust="spacingAndGlyphs">16</text>
<circle cx="1406.5" cy="397.9" r="7.15" fill="#ffffff" stroke="#000" stroke-width="1.7"/>
<text x="1406.5" y="401.5" text-anchor="middle" font-size="10" font-family="Liberation Sans" fill="#000" textLength="12.5" lengthAdjust="spacingAndGlyphs">13</text>
<circle cx="1492.9" cy="397.9" r="7.15" fill="#ffffff" stroke="#000" stroke-width="1.7"/>
<text x="1492.9" y="401.5" text-anchor="middle" font-size="10" font-family="Liberation Sans" fill="#000" textLength="12.5" lengthAdjust="spacingAndGlyphs">14</text>
<circle cx="1579.3" cy="397.9" r="7.15" fill="#ffffff" stroke="#000" stroke-width="1.7"/>
<text x="1579.3" y="401.5" text-anchor="middle" font-size="10" font-family="Liberation Sans" fill="#000" textLength="12.5" lengthAdjust="spacingAndGlyphs">15</text>
<circle cx="1550.5" cy="484.4" r="7.15" fill="#cc99ff" stroke="#000" stroke-width="1.7" stroke-dasharray="2.6,1.6"/>
<text x="1550.5" y="488.0" text-anchor="middle" font-size="10" font-family="Liberation Sans" fill="#000" textLength="12.5" lengthAdjust="spacingAndGlyphs">12</text>
<circle cx="1550.5" cy="513.2" r="7.15" fill="#cc99ff" stroke="#000" stroke-width="1.7" stroke-dasharray="2.6,1.6"/>
<text x="1550.5" y="516.8" text-anchor="middle" font-size="10" font-family="Liberation Sans" fill="#000" textLength="12.5" lengthAdjust="spacingAndGlyphs">13</text>
<circle cx="1579.3" cy="513.2" r="7.15" fill="#cc99ff" stroke="#000" stroke-width="1.7" stroke-dasharray="2.6,1.6"/>
<text x="1579.3" y="516.8" text-anchor="middle" font-size="10" font-family="Liberation Sans" fill="#000" textLength="12.5" lengthAdjust="spacingAndGlyphs">12</text>
<circle cx="1608.1" cy="513.2" r="7.15" fill="#cc99ff" stroke="#000" stroke-width="1.7" stroke-dasharray="2.6,1.6"/>
<text x="1608.1" y="516.8" text-anchor="middle" font-size="10" font-family="Liberation Sans" fill="#000" textLength="12.5" lengthAdjust="spacingAndGlyphs">13</text>
<circle cx="1579.3" cy="484.4" r="7.15" fill="#ffffff" stroke="#000" stroke-width="1.7"/>
<circle cx="1608.1" cy="484.4" r="7.15" fill="#ff99ff" stroke="#000" stroke-width="1.7"/>
<circle cx="1464.1" cy="642.8" r="7.15" fill="#ffcc99" stroke="#000" stroke-width="1.7" stroke-dasharray="2.6,1.6"/>
<circle cx="1464.1" cy="671.6" r="7.15" fill="#ffffff" stroke="#000" stroke-width="1.7"/>
<circle cx="1406.5" cy="700.4" r="7.15" fill="#cc99ff" stroke="#000" stroke-width="1.7" stroke-dasharray="2.6,1.6"/>
<text x="1406.5" y="704.0" text-anchor="middle" font-size="10" font-family="Liberation Sans" fill="#000" textLength="12.5" lengthAdjust="spacingAndGlyphs">17</text>
<circle cx="1435.3" cy="700.4" r="7.15" fill="#cc99ff" stroke="#000" stroke-width="1.7" stroke-dasharray="2.6,1.6"/>
<text x="1435.3" y="704.0" text-anchor="middle" font-size="10" font-family="Liberation Sans" fill="#000" textLength="12.5" lengthAdjust="spacingAndGlyphs">17</text>
<circle cx="1464.1" cy="700.4" r="7.15" fill="#cc99ff" stroke="#000" stroke-width="1.7" stroke-dasharray="2.6,1.6"/>
<text x="1464.1" y="704.0" text-anchor="middle" font-size="10" font-family="Liberation Sans" fill="#000" textLength="12.5" lengthAdjust="spacingAndGlyphs">17</text>
<circle cx="1406.5" cy="729.2" r="7.15" fill="#cc99ff" stroke="#000" stroke-width="1.7" stroke-dasharray="2.6,1.6"/>
<text x="1406.5" y="732.8" text-anchor="middle" font-size="10" font-family="Liberation Sans" fill="#000" textLength="12.5" lengthAdjust="spacingAndGlyphs">17</text>
<circle cx="1464.1" cy="729.2" r="7.15" fill="#cc99ff" stroke="#000" stroke-width="1.7" stroke-dasharray="2.6,1.6"/>
<text x="1464.1" y="732.8" text-anchor="middle" font-size="10" font-family="Liberation Sans" fill="#000" textLength="12.5" lengthAdjust="spacingAndGlyphs">17</text>
<circle cx="1464.1" cy="758.1" r="7.15" fill="#cc99ff" stroke="#000" stroke-width="1.7" stroke-dasharray="2.6,1.6"/>
<text x="1464.1" y="761.7" text-anchor="middle" font-size="10" font-family="Liberation Sans" fill="#000" textLength="12.5" lengthAdjust="spacingAndGlyphs">17</text>
<circle cx="1392.1" cy="772.5" r="7.15" fill="#cc99ff" stroke="#000" stroke-width="1.7" stroke-dasharray="2.6,1.6"/>
<text x="1392.1" y="776.1" text-anchor="middle" font-size="10" font-family="Liberation Sans" fill="#000" textLength="12.5" lengthAdjust="spacingAndGlyphs">17</text>
<circle cx="1435.3" cy="729.2" r="7.15" fill="#ffffff" stroke="#000" stroke-width="1.7"/>
<circle cx="1435.3" cy="729.2" r="3.6" fill="#000"/>
<circle cx="1392.1" cy="844.5" r="7.15" fill="#ffffff" stroke="#000" stroke-width="1.7"/>
<text x="1392.1" y="848.1" text-anchor="middle" font-size="10" font-family="Liberation Sans" fill="#000" textLength="12.5" lengthAdjust="spacingAndGlyphs">17</text>
<circle cx="1262.4" cy="801.3" r="7.15" fill="#ffcc99" stroke="#000" stroke-width="1.7" stroke-dasharray="2.6,1.6"/>
<circle cx="1262.4" cy="830.1" r="7.15" fill="#99ff99" stroke="#000" stroke-width="1.7"/>
<circle cx="1204.8" cy="830.1" r="7.15" fill="#ffffff" stroke="#000" stroke-width="1.7"/>
<circle cx="1233.6" cy="858.9" r="7.15" fill="#ffffff" stroke="#000" stroke-width="1.7"/>
<circle cx="1291.2" cy="858.9" r="7.15" fill="#ffffff" stroke="#000" stroke-width="1.7"/>
<circle cx="1233.6" cy="887.7" r="7.15" fill="#ffffff" stroke="#000" stroke-width="1.7"/>
<circle cx="1262.4" cy="887.7" r="7.15" fill="#ffffff" stroke="#000" stroke-width="1.7"/>
<circle cx="1291.2" cy="887.7" r="7.15" fill="#ffffff" stroke="#000" stroke-width="1.7"/>
<circle cx="1204.8" cy="858.9" r="7.15" fill="#ffffff" stroke="#000" stroke-width="1.7"/>
<circle cx="1204.8" cy="858.9" r="3.6" fill="#000"/>
<circle cx="1348.9" cy="858.9" r="7.15" fill="#ffcc99" stroke="#000" stroke-width="1.7" stroke-dasharray="2.6,1.6"/>
<circle cx="1392.1" cy="887.7" r="7.15" fill="#ffcc99" stroke="#000" stroke-width="1.7" stroke-dasharray="2.6,1.6"/>
<circle cx="1233.6" cy="916.5" r="7.15" fill="#ffffff" stroke="#000" stroke-width="1.7"/>
<circle cx="1262.4" cy="916.5" r="7.15" fill="#ffffff" stroke="#000" stroke-width="1.7"/>
<circle cx="1291.2" cy="916.5" r="7.15" fill="#ffffff" stroke="#000" stroke-width="1.7"/>
<circle cx="1320.0" cy="916.5" r="7.15" fill="#ffffff" stroke="#000" stroke-width="1.7"/>
<circle cx="1435.3" cy="916.5" r="7.15" fill="#ffffff" stroke="#000" stroke-width="1.7"/>
<circle cx="1233.6" cy="945.3" r="7.15" fill="#ffffff" stroke="#000" stroke-width="1.7"/>
<circle cx="1291.2" cy="945.3" r="7.15" fill="#ffffff" stroke="#000" stroke-width="1.7"/>
<circle cx="1320.0" cy="945.3" r="7.15" fill="#ffffff" stroke="#000" stroke-width="1.7"/>
<circle cx="1464.1" cy="945.3" r="7.15" fill="#ffffff" stroke="#000" stroke-width="1.7"/>
<circle cx="1291.2" cy="974.1" r="7.15" fill="#ffffff" stroke="#000" stroke-width="1.7"/>
<circle cx="1320.0" cy="974.1" r="7.15" fill="#ffffff" stroke="#000" stroke-width="1.7"/>
<circle cx="1348.9" cy="974.1" r="7.15" fill="#ffffff" stroke="#000" stroke-width="1.7"/>
<circle cx="1435.3" cy="974.1" r="7.15" fill="#ffffff" stroke="#000" stroke-width="1.7"/>
<circle cx="1204.8" cy="1002.9" r="7.15" fill="#ffffff" stroke="#000" stroke-width="1.7"/>
<circle cx="1291.2" cy="1002.9" r="7.15" fill="#ffffff" stroke="#000" stroke-width="1.7"/>
<circle cx="1348.9" cy="1002.9" r="7.15" fill="#ffffff" stroke="#000" stroke-width="1.7"/>
<circle cx="1233.6" cy="1031.8" r="7.15" fill="#ffffff" stroke="#000" stroke-width="1.7"/>
<circle cx="1377.7" cy="1031.8" r="7.15" fill="#ffffff" stroke="#000" stroke-width="1.7"/>
<circle cx="1204.8" cy="1060.6" r="7.15" fill="#ffffff" stroke="#000" stroke-width="1.7"/>
<circle cx="1233.6" cy="1060.6" r="7.15" fill="#ffffff" stroke="#000" stroke-width="1.7"/>
<circle cx="1262.4" cy="1060.6" r="7.15" fill="#ffffff" stroke="#000" stroke-width="1.7"/>
<circle cx="1204.8" cy="1089.4" r="7.15" fill="#ffffff" stroke="#000" stroke-width="1.7"/>
<circle cx="1233.6" cy="1089.4" r="7.15" fill="#ffffff" stroke="#000" stroke-width="1.7"/>
<circle cx="1262.4" cy="1089.4" r="7.15" fill="#ffffff" stroke="#000" stroke-width="1.7"/>
<circle cx="1291.2" cy="1089.4" r="7.15" fill="#ffffff" stroke="#000" stroke-width="1.7"/>
<circle cx="1406.5" cy="1089.4" r="7.15" fill="#ffffff" stroke="#000" stroke-width="1.7"/>
<circle cx="1204.8" cy="1118.2" r="7.15" fill="#ffffff" stroke="#000" stroke-width="1.7"/>
<circle cx="1521.7" cy="1089.4" r="7.15" fill="#ffffff" stroke="#000" stroke-width="1.7"/>
<circle cx="1464.1" cy="1147.0" r="7.15" fill="#ffffff" stroke="#000" stroke-width="1.7"/>
<circle cx="1406.5" cy="1233.4" r="7.15" fill="#ffffff" stroke="#000" stroke-width="1.7"/>
<circle cx="1435.3" cy="1233.4" r="7.15" fill="#ffffff" stroke="#000" stroke-width="1.7"/>
<circle cx="1435.3" cy="1262.2" r="7.15" fill="#ffffff" stroke="#000" stroke-width="1.7"/>
<circle cx="1464.1" cy="1262.2" r="7.15" fill="#ffffff" stroke="#000" stroke-width="1.7"/>
<circle cx="1492.9" cy="1262.2" r="7.15" fill="#ffffff" stroke="#000" stroke-width="1.7"/>
<circle cx="1320.0" cy="1319.9" r="7.15" fill="#ffffff" stroke="#000" stroke-width="1.7"/>
<circle cx="1204.8" cy="916.5" r="7.15" fill="#ffffff" stroke="#000" stroke-width="1.7"/>
<circle cx="1204.8" cy="916.5" r="3.6" fill="#000"/>
<circle cx="1320.0" cy="1002.9" r="7.15" fill="#ffffff" stroke="#000" stroke-width="1.7"/>
<circle cx="1320.0" cy="1002.9" r="3.6" fill="#000"/>
<circle cx="1348.9" cy="1031.8" r="7.15" fill="#ffffff" stroke="#000" stroke-width="1.7"/>
<circle cx="1348.9" cy="1031.8" r="3.6" fill="#000"/>
<circle cx="1377.7" cy="1060.6" r="7.15" fill="#ffffff" stroke="#000" stroke-width="1.7"/>
<circle cx="1377.7" cy="1060.6" r="3.6" fill="#000"/>
<circle cx="1291.2" cy="1118.2" r="7.15" fill="#ffffff" stroke="#000" stroke-width="1.7"/>
<circle cx="1291.2" cy="1118.2" r="3.6" fill="#000"/>
<circle cx="1233.6" cy="1147.0" r="7.15" fill="#ffffff" stroke="#000" stroke-width="1.7"/>
<circle cx="1233.6" cy="1147.0" r="3.6" fill="#000"/>
<circle cx="1406.5" cy="1204.6" r="7.15" fill="#ffffff" stroke="#000" stroke-width="1.7"/>
<circle cx="1406.5" cy="1204.6" r="3.6" fill="#000"/>
<circle cx="1464.1" cy="1233.4" r="7.15" fill="#ffffff" stroke="#000" stroke-width="1.7"/>
<circle cx="1464.1" cy="1233.4" r="3.6" fill="#000"/>
<circle cx="1406.5" cy="1118.2" r="7.15" fill="#ffcc99" stroke="#000" stroke-width="1.7" stroke-dasharray="2.6,1.6"/>
<circle cx="1406.5" cy="1118.2" r="3.6" fill="#000"/>
<circle cx="1492.9" cy="1060.6" r="7.15" fill="#ffcc99" stroke="#000" stroke-width="1.7" stroke-dasharray="2.6,1.6"/>
<circle cx="1320.0" cy="1147.0" r="7.15" fill="#ffcc99" stroke="#000" stroke-width="1.7" stroke-dasharray="2.6,1.6"/>
<circle cx="1262.4" cy="1204.6" r="7.15" fill="#ffcc99" stroke="#000" stroke-width="1.7" stroke-dasharray="2.6,1.6"/>
<circle cx="1521.7" cy="1262.2" r="7.15" fill="#ffcc99" stroke="#000" stroke-width="1.7" stroke-dasharray="2.6,1.6"/>
<circle cx="1521.7" cy="1060.6" r="7.15" fill="#99ddee" stroke="#000" stroke-width="1.7"/>
<circle cx="1435.3" cy="1204.6" r="7.15" fill="#cc99ff" stroke="#000" stroke-width="1.7" stroke-dasharray="2.6,1.6"/>
<text x="1435.3" y="1208.4" text-anchor="middle" font-size="11" font-family="Liberation Sans" fill="#000">5</text>
<circle cx="1204.8" cy="1175.8" r="7.15" fill="#ffffff" stroke="#000" stroke-width="1.7"/>
<text x="1204.8" y="1179.4" text-anchor="middle" font-size="10" font-family="Liberation Sans" fill="#000" textLength="12.5" lengthAdjust="spacingAndGlyphs">10</text>
<circle cx="1233.6" cy="1204.6" r="7.15" fill="#99ff99" stroke="#000" stroke-width="1.7"/>
<circle cx="1060.8" cy="1233.4" r="7.15" fill="#ffcc99" stroke="#000" stroke-width="1.7" stroke-dasharray="2.6,1.6"/>
<circle cx="1204.8" cy="1319.9" r="7.15" fill="#ffcc99" stroke="#000" stroke-width="1.7" stroke-dasharray="2.6,1.6"/>
<circle cx="1176.0" cy="1377.5" r="7.15" fill="#ffcc99" stroke="#000" stroke-width="1.7" stroke-dasharray="2.6,1.6"/>
<circle cx="1118.4" cy="1233.4" r="7.15" fill="#ffffff" stroke="#000" stroke-width="1.7"/>
<circle cx="1089.6" cy="1262.2" r="7.15" fill="#ffffff" stroke="#000" stroke-width="1.7"/>
<circle cx="1147.2" cy="1262.2" r="7.15" fill="#ffffff" stroke="#000" stroke-width="1.7"/>
<circle cx="1176.0" cy="1262.2" r="7.15" fill="#ffffff" stroke="#000" stroke-width="1.7"/>
<circle cx="1118.4" cy="1291.0" r="7.15" fill="#ffffff" stroke="#000" stroke-width="1.7"/>
<circle cx="1147.2" cy="1291.0" r="7.15" fill="#ffffff" stroke="#000" stroke-width="1.7"/>
<circle cx="1089.6" cy="1319.9" r="7.15" fill="#ffffff" stroke="#000" stroke-width="1.7"/>
<circle cx="1118.4" cy="1319.9" r="7.15" fill="#ffffff" stroke="#000" stroke-width="1.7"/>
<circle cx="1089.6" cy="1348.7" r="7.15" fill="#ffffff" stroke="#000" stroke-width="1.7"/>
<circle cx="1147.2" cy="1348.7" r="7.15" fill="#ffffff" stroke="#000" stroke-width="1.7"/>
<circle cx="1176.0" cy="1348.7" r="7.15" fill="#ffffff" stroke="#000" stroke-width="1.7"/>
<circle cx="1060.8" cy="1377.5" r="7.15" fill="#ffffff" stroke="#000" stroke-width="1.7"/>
<circle cx="1089.6" cy="1377.5" r="7.15" fill="#ffffff" stroke="#000" stroke-width="1.7"/>
<circle cx="1060.8" cy="1406.3" r="7.15" fill="#ffffff" stroke="#000" stroke-width="1.7"/>
<circle cx="1089.6" cy="1406.3" r="7.15" fill="#ffffff" stroke="#000" stroke-width="1.7"/>
<circle cx="1060.8" cy="1435.1" r="7.15" fill="#ffffff" stroke="#000" stroke-width="1.7"/>
<circle cx="1176.0" cy="1319.9" r="7.15" fill="#ffffff" stroke="#000" stroke-width="1.7"/>
<circle cx="1176.0" cy="1319.9" r="3.6" fill="#000"/>
<circle cx="916.7" cy="1377.5" r="7.15" fill="#ffffff" stroke="#000" stroke-width="1.7"/>
<circle cx="945.5" cy="1377.5" r="7.15" fill="#ffffff" stroke="#000" stroke-width="1.7"/>
<circle cx="1031.9" cy="1377.5" r="7.15" fill="#ffffff" stroke="#000" stroke-width="1.7"/>
<circle cx="945.5" cy="1406.3" r="7.15" fill="#ffffff" stroke="#000" stroke-width="1.7"/>
<circle cx="974.3" cy="1406.3" r="7.15" fill="#ffffff" stroke="#000" stroke-width="1.7"/>
<circle cx="1003.1" cy="1406.3" r="7.15" fill="#ffffff" stroke="#000" stroke-width="1.7"/>
<circle cx="1031.9" cy="1406.3" r="7.15" fill="#ffffff" stroke="#000" stroke-width="1.7"/>
<circle cx="974.3" cy="1435.1" r="7.15" fill="#ffffff" stroke="#000" stroke-width="1.7"/>
<circle cx="1003.1" cy="1435.1" r="7.15" fill="#ffffff" stroke="#000" stroke-width="1.7"/>
<circle cx="1031.9" cy="1435.1" r="7.15" fill="#ffffff" stroke="#000" stroke-width="1.7"/>
<circle cx="974.3" cy="1463.9" r="7.15" fill="#ffffff" stroke="#000" stroke-width="1.7"/>
<circle cx="1003.1" cy="1463.9" r="7.15" fill="#ffffff" stroke="#000" stroke-width="1.7"/>
<circle cx="1031.9" cy="1463.9" r="7.15" fill="#ffffff" stroke="#000" stroke-width="1.7"/>
<circle cx="1060.8" cy="1463.9" r="7.15" fill="#ffffff" stroke="#000" stroke-width="1.7"/>
<circle cx="1089.6" cy="1463.9" r="7.15" fill="#ffffff" stroke="#000" stroke-width="1.7"/>
<circle cx="945.5" cy="1492.7" r="7.15" fill="#ffffff" stroke="#000" stroke-width="1.7"/>
<circle cx="974.3" cy="1492.7" r="7.15" fill="#ffffff" stroke="#000" stroke-width="1.7"/>
<circle cx="1003.1" cy="1492.7" r="7.15" fill="#ffffff" stroke="#000" stroke-width="1.7"/>
<circle cx="1031.9" cy="1492.7" r="7.15" fill="#ffffff" stroke="#000" stroke-width="1.7"/>
<circle cx="1060.8" cy="1492.7" r="7.15" fill="#ffffff" stroke="#000" stroke-width="1.7"/>
<circle cx="1147.2" cy="1492.7" r="7.15" fill="#ffffff" stroke="#000" stroke-width="1.7"/>
<circle cx="916.7" cy="1521.5" r="7.15" fill="#ffffff" stroke="#000" stroke-width="1.7"/>
<circle cx="945.5" cy="1521.5" r="7.15" fill="#ffffff" stroke="#000" stroke-width="1.7"/>
<circle cx="974.3" cy="1521.5" r="7.15" fill="#ffffff" stroke="#000" stroke-width="1.7"/>
<circle cx="1003.1" cy="1521.5" r="7.15" fill="#ffffff" stroke="#000" stroke-width="1.7"/>
<circle cx="1031.9" cy="1521.5" r="7.15" fill="#ffffff" stroke="#000" stroke-width="1.7"/>
<circle cx="1060.8" cy="1521.5" r="7.15" fill="#ffffff" stroke="#000" stroke-width="1.7"/>
<circle cx="1118.4" cy="1521.5" r="7.15" fill="#ffffff" stroke="#000" stroke-width="1.7"/>
<circle cx="1147.2" cy="1521.5" r="7.15" fill="#ffffff" stroke="#000" stroke-width="1.7"/>
<circle cx="801.5" cy="1550.3" r="7.15" fill="#ffffff" stroke="#000" stroke-width="1.7"/>
<circle cx="830.3" cy="1550.3" r="7.15" fill="#ffffff" stroke="#000" stroke-width="1.7"/>
<circle cx="887.9" cy="1550.3" r="7.15" fill="#ffffff" stroke="#000" stroke-width="1.7"/>
<circle cx="916.7" cy="1550.3" r="7.15" fill="#ffffff" stroke="#000" stroke-width="1.7"/>
<circle cx="945.5" cy="1550.3" r="7.15" fill="#ffffff" stroke="#000" stroke-width="1.7"/>
<circle cx="974.3" cy="1550.3" r="7.15" fill="#ffffff" stroke="#000" stroke-width="1.7"/>
<circle cx="1003.1" cy="1550.3" r="7.15" fill="#ffffff" stroke="#000" stroke-width="1.7"/>
<circle cx="1031.9" cy="1550.3" r="7.15" fill="#ffffff" stroke="#000" stroke-width="1.7"/>
<circle cx="1060.8" cy="1550.3" r="7.15" fill="#ffffff" stroke="#000" stroke-width="1.7"/>
<circle cx="1089.6" cy="1550.3" r="7.15" fill="#ffffff" stroke="#000" stroke-width="1.7"/>
<circle cx="1118.4" cy="1550.3" r="7.15" fill="#ffffff" stroke="#000" stroke-width="1.7"/>
<circle cx="1147.2" cy="1550.3" r="7.15" fill="#ffffff" stroke="#000" stroke-width="1.7"/>
<circle cx="859.1" cy="1579.1" r="7.15" fill="#ffffff" stroke="#000" stroke-width="1.7"/>
<circle cx="887.9" cy="1579.1" r="7.15" fill="#ffffff" stroke="#000" stroke-width="1.7"/>
<circle cx="916.7" cy="1579.1" r="7.15" fill="#ffffff" stroke="#000" stroke-width="1.7"/>
<circle cx="945.5" cy="1579.1" r="7.15" fill="#ffffff" stroke="#000" stroke-width="1.7"/>
<circle cx="974.3" cy="1579.1" r="7.15" fill="#ffffff" stroke="#000" stroke-width="1.7"/>
<circle cx="1003.1" cy="1579.1" r="7.15" fill="#ffffff" stroke="#000" stroke-width="1.7"/>
<circle cx="1031.9" cy="1579.1" r="7.15" fill="#ffffff" stroke="#000" stroke-width="1.7"/>
<circle cx="1060.8" cy="1579.1" r="7.15" fill="#ffffff" stroke="#000" stroke-width="1.7"/>
<circle cx="1089.6" cy="1579.1" r="7.15" fill="#ffffff" stroke="#000" stroke-width="1.7"/>
<circle cx="1118.4" cy="1579.1" r="7.15" fill="#ffffff" stroke="#000" stroke-width="1.7"/>
<circle cx="887.9" cy="1608.0" r="7.15" fill="#ffffff" stroke="#000" stroke-width="1.7"/>
<circle cx="916.7" cy="1608.0" r="7.15" fill="#ffffff" stroke="#000" stroke-width="1.7"/>
<circle cx="945.5" cy="1608.0" r="7.15" fill="#ffffff" stroke="#000" stroke-width="1.7"/>
<circle cx="974.3" cy="1608.0" r="7.15" fill="#ffffff" stroke="#000" stroke-width="1.7"/>
<circle cx="1003.1" cy="1608.0" r="7.15" fill="#ffffff" stroke="#000" stroke-width="1.7"/>
<circle cx="1031.9" cy="1608.0" r="7.15" fill="#ffffff" stroke="#000" stroke-width="1.7"/>
<circle cx="1060.8" cy="1608.0" r="7.15" fill="#ffffff" stroke="#000" stroke-width="1.7"/>
<circle cx="1089.6" cy="1608.0" r="7.15" fill="#ffffff" stroke="#000" stroke-width="1.7"/>
<circle cx="1118.4" cy="1608.0" r="7.15" fill="#ffffff" stroke="#000" stroke-width="1.7"/>
<circle cx="945.5" cy="1636.8" r="7.15" fill="#ffffff" stroke="#000" stroke-width="1.7"/>
<circle cx="974.3" cy="1636.8" r="7.15" fill="#ffffff" stroke="#000" stroke-width="1.7"/>
<circle cx="1003.1" cy="1636.8" r="7.15" fill="#ffffff" stroke="#000" stroke-width="1.7"/>
<circle cx="1031.9" cy="1636.8" r="7.15" fill="#ffffff" stroke="#000" stroke-width="1.7"/>
<circle cx="1060.8" cy="1636.8" r="7.15" fill="#ffffff" stroke="#000" stroke-width="1.7"/>
<circle cx="1089.6" cy="1636.8" r="7.15" fill="#ffffff" stroke="#000" stroke-width="1.7"/>
<circle cx="1118.4" cy="1636.8" r="7.15" fill="#ffffff" stroke="#000" stroke-width="1.7"/>
<circle cx="974.3" cy="1665.6" r="7.15" fill="#ffffff" stroke="#000" stroke-width="1.7"/>
<circle cx="1003.1" cy="1665.6" r="7.15" fill="#ffffff" stroke="#000" stroke-width="1.7"/>
<circle cx="1031.9" cy="1665.6" r="7.15" fill="#ffffff" stroke="#000" stroke-width="1.7"/>
<circle cx="1060.8" cy="1665.6" r="7.15" fill="#ffffff" stroke="#000" stroke-width="1.7"/>
<circle cx="1089.6" cy="1665.6" r="7.15" fill="#ffffff" stroke="#000" stroke-width="1.7"/>
<circle cx="801.5" cy="1319.9" r="7.15" fill="#ffffff" stroke="#000" stroke-width="1.7"/>
<circle cx="887.9" cy="1319.9" r="7.15" fill="#ffffff" stroke="#000" stroke-width="1.7"/>
<circle cx="916.7" cy="1348.7" r="7.15" fill="#ffffff" stroke="#000" stroke-width="1.7"/>
<circle cx="830.3" cy="1319.9" r="7.15" fill="#ffffff" stroke="#000" stroke-width="1.7"/>
<circle cx="830.3" cy="1319.9" r="3.6" fill="#000"/>
<circle cx="859.1" cy="1319.9" r="7.15" fill="#ffffff" stroke="#000" stroke-width="1.7"/>
<circle cx="859.1" cy="1319.9" r="3.6" fill="#000"/>
<circle cx="1147.2" cy="1636.8" r="7.15" fill="#ffcc99" stroke="#000" stroke-width="1.7" stroke-dasharray="2.6,1.6"/>
<circle cx="1147.2" cy="1665.6" r="7.15" fill="#ffcc99" stroke="#000" stroke-width="1.7" stroke-dasharray="2.6,1.6"/>
<circle cx="1060.8" cy="1694.4" r="7.15" fill="#ffcc99" stroke="#000" stroke-width="1.7" stroke-dasharray="2.6,1.6"/>
<circle cx="830.3" cy="1521.5" r="7.15" fill="#ffffff" stroke="#000" stroke-width="1.7"/>
<path d="M825.3,1516.5L835.3,1526.5M835.3,1516.5L825.3,1526.5" stroke="#000" stroke-width="1.2"/>
<circle cx="859.1" cy="1521.5" r="7.15" fill="#ffffff" stroke="#000" stroke-width="1.7"/>
<path d="M854.1,1516.5L864.1,1526.5M864.1,1516.5L854.1,1526.5" stroke="#000" stroke-width="1.2"/>
<circle cx="801.5" cy="1579.1" r="7.15" fill="#ffffff" stroke="#000" stroke-width="1.7"/>
<path d="M796.5,1574.1L806.5,1584.1M806.5,1574.1L796.5,1584.1" stroke="#000" stroke-width="1.2"/>
<circle cx="830.3" cy="1579.1" r="7.15" fill="#ffffff" stroke="#000" stroke-width="1.7"/>
<path d="M825.3,1574.1L835.3,1584.1M835.3,1574.1L825.3,1584.1" stroke="#000" stroke-width="1.2"/>
<circle cx="859.1" cy="1608.0" r="7.15" fill="#ff99ff" stroke="#000" stroke-width="1.7"/>
<text x="859.1" y="1611.8" text-anchor="middle" font-size="11" font-family="Liberation Sans" fill="#000">4</text>
<circle cx="743.9" cy="1608.0" r="7.15" fill="#ffffff" stroke="#000" stroke-width="1.7"/>
<circle cx="772.7" cy="1608.0" r="7.15" fill="#ffffff" stroke="#000" stroke-width="1.7"/>
<circle cx="801.5" cy="1608.0" r="7.15" fill="#ffffff" stroke="#000" stroke-width="1.7"/>
<circle cx="715.0" cy="1636.8" r="7.15" fill="#ffffff" stroke="#000" stroke-width="1.7"/>
<circle cx="743.9" cy="1636.8" r="7.15" fill="#ffffff" stroke="#000" stroke-width="1.7"/>
<circle cx="772.7" cy="1636.8" r="7.15" fill="#ffffff" stroke="#000" stroke-width="1.7"/>
<circle cx="801.5" cy="1636.8" r="7.15" fill="#ffffff" stroke="#000" stroke-width="1.7"/>
<circle cx="859.1" cy="1636.8" r="7.15" fill="#ffffff" stroke="#000" stroke-width="1.7"/>
<circle cx="887.9" cy="1636.8" r="7.15" fill="#ffffff" stroke="#000" stroke-width="1.7"/>
<circle cx="743.9" cy="1665.6" r="7.15" fill="#ffffff" stroke="#000" stroke-width="1.7"/>
<circle cx="772.7" cy="1665.6" r="7.15" fill="#ffffff" stroke="#000" stroke-width="1.7"/>
<circle cx="859.1" cy="1665.6" r="7.15" fill="#ffffff" stroke="#000" stroke-width="1.7"/>
<circle cx="887.9" cy="1665.6" r="7.15" fill="#ffffff" stroke="#000" stroke-width="1.7"/>
<circle cx="772.7" cy="1694.4" r="7.15" fill="#ffffff" stroke="#000" stroke-width="1.7"/>
<circle cx="801.5" cy="1694.4" r="7.15" fill="#ffffff" stroke="#000" stroke-width="1.7"/>
<circle cx="830.3" cy="1694.4" r="7.15" fill="#ffffff" stroke="#000" stroke-width="1.7"/>
<circle cx="887.9" cy="1694.4" r="7.15" fill="#ffffff" stroke="#000" stroke-width="1.7"/>
<circle cx="916.7" cy="1694.4" r="7.15" fill="#ffffff" stroke="#000" stroke-width="1.7"/>
<circle cx="887.9" cy="1723.2" r="7.15" fill="#ffffff" stroke="#000" stroke-width="1.7"/>
<circle cx="916.7" cy="1723.2" r="7.15" fill="#ffffff" stroke="#000" stroke-width="1.7"/>
<circle cx="743.9" cy="1752.0" r="7.15" fill="#ffffff" stroke="#000" stroke-width="1.7"/>
<circle cx="772.7" cy="1752.0" r="7.15" fill="#ffffff" stroke="#000" stroke-width="1.7"/>
<circle cx="743.9" cy="1780.8" r="7.15" fill="#ffffff" stroke="#000" stroke-width="1.7"/>
<circle cx="801.5" cy="1780.8" r="7.15" fill="#ffffff" stroke="#000" stroke-width="1.7"/>
<circle cx="887.9" cy="1780.8" r="7.15" fill="#ffffff" stroke="#000" stroke-width="1.7"/>
<circle cx="830.3" cy="1809.6" r="7.15" fill="#ffffff" stroke="#000" stroke-width="1.7"/>
<circle cx="945.5" cy="1809.6" r="7.15" fill="#ffffff" stroke="#000" stroke-width="1.7"/>
<circle cx="801.5" cy="1838.4" r="7.15" fill="#ffffff" stroke="#000" stroke-width="1.7"/>
<circle cx="772.7" cy="1867.2" r="7.15" fill="#ffffff" stroke="#000" stroke-width="1.7"/>
<circle cx="887.9" cy="1867.2" r="7.15" fill="#ffffff" stroke="#000" stroke-width="1.7"/>
<circle cx="916.7" cy="1867.2" r="7.15" fill="#ffffff" stroke="#000" stroke-width="1.7"/>
<circle cx="945.5" cy="1867.2" r="7.15" fill="#ffffff" stroke="#000" stroke-width="1.7"/>
<circle cx="974.3" cy="1896.0" r="7.15" fill="#ffffff" stroke="#000" stroke-width="1.7"/>
<circle cx="1003.1" cy="1924.9" r="7.15" fill="#ffffff" stroke="#000" stroke-width="1.7"/>
<circle cx="1003.1" cy="1953.7" r="7.15" fill="#ffffff" stroke="#000" stroke-width="1.7"/>
<circle cx="1003.1" cy="1982.5" r="7.15" fill="#ffffff" stroke="#000" stroke-width="1.7"/>
<circle cx="916.7" cy="1636.8" r="7.15" fill="#ff99ff" stroke="#000" stroke-width="1.7"/>
<text x="916.7" y="1640.6" text-anchor="middle" font-size="11" font-family="Liberation Sans" fill="#000">1</text>
<circle cx="916.7" cy="1665.6" r="7.15" fill="#ff99ff" stroke="#000" stroke-width="1.7"/>
<text x="916.7" y="1669.4" text-anchor="middle" font-size="11" font-family="Liberation Sans" fill="#000">2</text>
<circle cx="859.1" cy="1694.4" r="7.15" fill="#ff99ff" stroke="#000" stroke-width="1.7"/>
<text x="859.1" y="1698.2" text-anchor="middle" font-size="11" font-family="Liberation Sans" fill="#000">3</text>
<circle cx="743.9" cy="1723.2" r="7.15" fill="#ff99ff" stroke="#000" stroke-width="1.7"/>
<circle cx="859.1" cy="1723.2" r="7.15" fill="#ff99ff" stroke="#000" stroke-width="1.7"/>
<circle cx="801.5" cy="1665.6" r="7.15" fill="#ffffff" stroke="#000" stroke-width="1.7"/>
<circle cx="801.5" cy="1665.6" r="3.6" fill="#000"/>
<circle cx="830.3" cy="1723.2" r="7.15" fill="#ffffff" stroke="#000" stroke-width="1.7"/>
<circle cx="830.3" cy="1723.2" r="3.6" fill="#000"/>
<circle cx="801.5" cy="1752.0" r="7.15" fill="#ffffff" stroke="#000" stroke-width="1.7"/>
<circle cx="801.5" cy="1752.0" r="3.6" fill="#000"/>
<circle cx="830.3" cy="1752.0" r="7.15" fill="#ffffff" stroke="#000" stroke-width="1.7"/>
<circle cx="830.3" cy="1752.0" r="3.6" fill="#000"/>
<circle cx="916.7" cy="1809.6" r="7.15" fill="#ffffff" stroke="#000" stroke-width="1.7"/>
<circle cx="916.7" cy="1809.6" r="3.6" fill="#000"/>
<circle cx="772.7" cy="1723.2" r="7.15" fill="#ffffff" stroke="#000" stroke-width="1.7"/>
<path d="M767.7,1718.2L777.7,1728.2M777.7,1718.2L767.7,1728.2" stroke="#000" stroke-width="1.2"/>
<circle cx="916.7" cy="1752.0" r="7.15" fill="#cc99ff" stroke="#000" stroke-width="1.7" stroke-dasharray="2.6,1.6"/>
<circle cx="743.9" cy="1838.4" r="7.15" fill="#ffcc99" stroke="#000" stroke-width="1.7" stroke-dasharray="2.6,1.6"/>
<circle cx="974.3" cy="2011.3" r="7.15" fill="#ffcc99" stroke="#000" stroke-width="1.7" stroke-dasharray="2.6,1.6"/>
<circle cx="887.9" cy="1838.4" r="7.15" fill="#ffffff" stroke="#000" stroke-width="1.7"/>
<text x="887.9" y="1842.2" text-anchor="middle" font-size="11" font-family="Liberation Sans" fill="#000">3</text>
<circle cx="686.2" cy="1348.7" r="7.15" fill="#cc99ff" stroke="#000" stroke-width="1.7" stroke-dasharray="2.6,1.6"/>
<text x="686.2" y="1352.3" text-anchor="middle" font-size="10" font-family="Liberation Sans" fill="#000" textLength="12.5" lengthAdjust="spacingAndGlyphs">19</text>
<circle cx="571.0" cy="1463.9" r="7.15" fill="#cc99ff" stroke="#000" stroke-width="1.7" stroke-dasharray="2.6,1.6"/>
<text x="571.0" y="1467.5" text-anchor="middle" font-size="10" font-family="Liberation Sans" fill="#000" textLength="12.5" lengthAdjust="spacingAndGlyphs">18</text>
<circle cx="657.4" cy="1377.5" r="7.15" fill="#ffffff" stroke="#000" stroke-width="1.7"/>
<text x="657.4" y="1381.1" text-anchor="middle" font-size="10" font-family="Liberation Sans" fill="#000" textLength="12.5" lengthAdjust="spacingAndGlyphs">18</text>
<circle cx="628.6" cy="1406.3" r="7.15" fill="#ffffff" stroke="#000" stroke-width="1.7"/>
<circle cx="599.8" cy="1435.1" r="7.15" fill="#ffffff" stroke="#000" stroke-width="1.7"/>
<text x="599.8" y="1438.7" text-anchor="middle" font-size="10" font-family="Liberation Sans" fill="#000" textLength="12.5" lengthAdjust="spacingAndGlyphs">19</text>
<rect x="131.0" y="217.0" width="45.0" height="16.0" rx="4" fill="#fff" stroke="#cc00cc" stroke-width="1.5"/>
<text x="153.5" y="228.8" text-anchor="middle" font-size="10.5" font-weight="bold" font-family="Liberation Sans" fill="#cc00cc">Cress</text>
<rect x="432.0" y="449.0" width="134.0" height="15.0" rx="4" fill="#fff" stroke="#cc00cc" stroke-width="1.5"/>
<text x="499.0" y="460.3" text-anchor="middle" font-size="10.5" font-weight="bold" font-family="Liberation Sans" fill="#cc00cc">The rabbit of Caerbannog</text>
<rect x="483.0" y="45.0" width="86.0" height="15.0" rx="4" fill="#fff" stroke="#008800" stroke-width="1.5"/>
<text x="526.0" y="56.3" text-anchor="middle" font-size="10.5" font-weight="bold" font-family="Liberation Sans" fill="#008800">(6) silver ore</text>
<rect x="483.0" y="74.0" width="86.0" height="15.0" rx="4" fill="#fff" stroke="#008800" stroke-width="1.5"/>
<text x="526.0" y="85.3" text-anchor="middle" font-size="10.5" font-weight="bold" font-family="Liberation Sans" fill="#008800">(7) gold ore</text>
<rect x="483.0" y="103.0" width="86.0" height="15.0" rx="4" fill="#fff" stroke="#008800" stroke-width="1.5"/>
<text x="526.0" y="114.3" text-anchor="middle" font-size="10.5" font-weight="bold" font-family="Liberation Sans" fill="#008800">(8) iron ore</text>
<rect x="483.0" y="131.0" width="86.0" height="15.0" rx="4" fill="#fff" stroke="#008800" stroke-width="1.5"/>
<text x="526.0" y="142.3" text-anchor="middle" font-size="10.5" font-weight="bold" font-family="Liberation Sans" fill="#008800">(9) copper ore</text>
<rect x="483.0" y="160.0" width="86.0" height="15.0" rx="4" fill="#fff" stroke="#008800" stroke-width="1.5"/>
<text x="526.0" y="171.3" text-anchor="middle" font-size="10.5" font-weight="bold" font-family="Liberation Sans" fill="#008800">(10) tin ore</text>
<rect x="1118.0" y="45.0" width="151.0" height="15.0" rx="4" fill="#fff" stroke="#cc00cc" stroke-width="1.5"/>
<text x="1193.5" y="56.3" text-anchor="middle" font-size="10.5" font-weight="bold" font-family="Liberation Sans" fill="#cc00cc">The mystik Goddess, Gre'Vos</text>
<rect x="1284.0" y="74.0" width="57.0" height="15.0" rx="4" fill="#fff" stroke="#008800" stroke-width="1.5"/>
<text x="1312.5" y="85.3" text-anchor="middle" font-size="10.5" font-weight="bold" font-family="Liberation Sans" fill="#008800">A poster</text>
<rect x="1283.0" y="160.0" width="44.0" height="15.0" rx="4" fill="#fff" stroke="#cc00cc" stroke-width="1.5"/>
<text x="1305.0" y="171.3" text-anchor="middle" font-size="10.5" font-weight="bold" font-family="Liberation Sans" fill="#cc00cc">Keeza</text>
<rect x="1219.0" y="341.0" width="51.0" height="14.0" rx="4" fill="#fff" stroke="#cc00cc" stroke-width="1.5"/>
<text x="1244.5" y="351.8" text-anchor="middle" font-size="10.5" font-weight="bold" font-family="Liberation Sans" fill="#cc00cc">Begbee</text>
<rect x="1126.0" y="407.0" width="143.0" height="15.0" rx="4" fill="#fff" stroke="#008800" stroke-width="1.5"/>
<text x="1197.5" y="418.3" text-anchor="middle" font-size="10.5" font-weight="bold" font-family="Liberation Sans" fill="#008800">A small pool of cold water</text>
<rect x="1241.0" y="437.0" width="108.0" height="16.0" rx="4" fill="#fff" stroke="#008800" stroke-width="1.5"/>
<text x="1295.0" y="448.8" text-anchor="middle" font-size="10.5" font-weight="bold" font-family="Liberation Sans" fill="#008800">A small wooden cup</text>
<rect x="1586.0" y="535.0" width="50.0" height="15.0" rx="4" fill="#fff" stroke="#cc00cc" stroke-width="1.5"/>
<text x="1611.0" y="546.3" text-anchor="middle" font-size="10.5" font-weight="bold" font-family="Liberation Sans" fill="#cc00cc">Ormwel</text>
<rect x="1284.0" y="794.0" width="93.0" height="15.0" rx="4" fill="#fff" stroke="#008800" stroke-width="1.5"/>
<text x="1330.5" y="805.3" text-anchor="middle" font-size="10.5" font-weight="bold" font-family="Liberation Sans" fill="#008800">The low branch</text>
<rect x="1226.0" y="1226.0" width="73.0" height="15.0" rx="4" fill="#fff" stroke="#008800" stroke-width="1.5"/>
<text x="1262.5" y="1237.3" text-anchor="middle" font-size="10.5" font-weight="bold" font-family="Liberation Sans" fill="#008800">A lost page</text>
<rect x="657.0" y="1744.0" width="65.0" height="15.0" rx="4" fill="#fff" stroke="#cc00cc" stroke-width="1.5"/>
<text x="689.5" y="1755.3" text-anchor="middle" font-size="10.5" font-weight="bold" font-family="Liberation Sans" fill="#cc00cc">Big Janklin</text>
<rect x="843.0" y="1788.0" width="33.0" height="15.0" rx="4" fill="#fff" stroke="#cc00cc" stroke-width="1.5"/>
<text x="859.5" y="1799.3" text-anchor="middle" font-size="10.5" font-weight="bold" font-family="Liberation Sans" fill="#cc00cc">Proji</text>
<rect x="1053.0" y="1774.0" width="80.0" height="29.0" rx="4" fill="#fff" stroke="#cc00cc" stroke-width="1.5"/>
<text x="1093.0" y="1786.8" text-anchor="middle" font-size="10.5" font-weight="bold" font-family="Liberation Sans" fill="#cc00cc">(1) Frugill the</text>
<text x="1093.0" y="1797.8" text-anchor="middle" font-size="10.5" font-weight="bold" font-family="Liberation Sans" fill="#cc00cc">Shopkeeper</text>
<rect x="1053.0" y="1817.0" width="80.0" height="29.0" rx="4" fill="#fff" stroke="#cc00cc" stroke-width="1.5"/>
<text x="1093.0" y="1829.8" text-anchor="middle" font-size="10.5" font-weight="bold" font-family="Liberation Sans" fill="#cc00cc">(2) Roovin the</text>
<text x="1093.0" y="1840.8" text-anchor="middle" font-size="10.5" font-weight="bold" font-family="Liberation Sans" fill="#cc00cc">Smelterer</text>
<rect x="1053.0" y="1860.0" width="80.0" height="29.0" rx="4" fill="#fff" stroke="#cc00cc" stroke-width="1.5"/>
<text x="1093.0" y="1872.8" text-anchor="middle" font-size="10.5" font-weight="bold" font-family="Liberation Sans" fill="#cc00cc">(3) Bugelil the</text>
<text x="1093.0" y="1883.8" text-anchor="middle" font-size="10.5" font-weight="bold" font-family="Liberation Sans" fill="#cc00cc">Blacksmith</text>
<rect x="1053.0" y="1903.0" width="80.0" height="29.0" rx="4" fill="#fff" stroke="#cc00cc" stroke-width="1.5"/>
<text x="1093.0" y="1915.8" text-anchor="middle" font-size="10.5" font-weight="bold" font-family="Liberation Sans" fill="#cc00cc">(4) Burdon the</text>
<text x="1093.0" y="1926.8" text-anchor="middle" font-size="10.5" font-weight="bold" font-family="Liberation Sans" fill="#cc00cc">animal keeper</text>
<text x="80.0" y="222.0" text-anchor="middle" font-size="9.5" font-weight="normal" font-family="Liberation Sans" fill="#111" stroke="#111" stroke-width="0.25">Forest of</text>
<text x="80.0" y="233.5" text-anchor="middle" font-size="9.5" font-weight="normal" font-family="Liberation Sans" fill="#111" stroke="#111" stroke-width="0.25">Tears</text>
<text x="37.0" y="767.0" text-anchor="middle" font-size="9.5" font-weight="normal" font-family="Liberation Sans" fill="#111" stroke="#111" stroke-width="0.25">Forest of</text>
<text x="37.0" y="778.5" text-anchor="middle" font-size="9.5" font-weight="normal" font-family="Liberation Sans" fill="#111" stroke="#111" stroke-width="0.25">Tears</text>
<text x="344.0" y="371.0" text-anchor="middle" font-size="11" font-weight="bold" font-family="Liberation Sans" fill="#999">The Canyon</text>
<text x="272.0" y="631.0" text-anchor="middle" font-size="11" font-weight="bold" font-family="Liberation Sans" fill="#999">The Canyon</text>
<text x="153.0" y="715.0" text-anchor="start" font-size="11" font-weight="bold" font-family="Liberation Sans" fill="#999">A Sandstone</text>
<text x="153.0" y="726.0" text-anchor="start" font-size="11" font-weight="bold" font-family="Liberation Sans" fill="#999">Tunnel</text>
<text x="660.0" y="27.0" text-anchor="middle" font-size="9.5" font-weight="normal" font-family="Liberation Sans" fill="#111" stroke="#111" stroke-width="0.25">Forest of Tears</text>
<text x="613.0" y="137.0" text-anchor="middle" font-size="9.5" font-weight="normal" font-family="Liberation Sans" fill="#111" stroke="#111" stroke-width="0.25">Forest of</text>
<text x="613.0" y="148.5" text-anchor="middle" font-size="9.5" font-weight="normal" font-family="Liberation Sans" fill="#111" stroke="#111" stroke-width="0.25">Tears</text>
<text x="801.0" y="764.0" text-anchor="middle" font-size="9.5" font-weight="normal" font-family="Liberation Sans" fill="#111" stroke="#111" stroke-width="0.25">Steading</text>
<text x="801.0" y="775.5" text-anchor="middle" font-size="9.5" font-weight="normal" font-family="Liberation Sans" fill="#111" stroke="#111" stroke-width="0.25">of the Hill</text>
<text x="801.0" y="787.0" text-anchor="middle" font-size="9.5" font-weight="normal" font-family="Liberation Sans" fill="#111" stroke="#111" stroke-width="0.25">Giants</text>
<text x="552.0" y="1121.0" text-anchor="middle" font-size="11" font-weight="bold" font-family="Liberation Sans" fill="#999">The Mesa</text>
<text x="411.0" y="918.0" text-anchor="middle" font-size="11" font-weight="bold" font-family="Liberation Sans" fill="#999">A Sandstone Tunnel</text>
<text x="1004.0" y="107.0" text-anchor="middle" font-size="9.5" font-weight="normal" font-family="Liberation Sans" fill="#111" stroke="#111" stroke-width="0.25">Miden'nir</text>
<text x="884.0" y="109.0" text-anchor="start" font-size="11" font-weight="bold" font-family="Liberation Sans" fill="#999">Hellish /</text>
<text x="884.0" y="120.0" text-anchor="start" font-size="11" font-weight="bold" font-family="Liberation Sans" fill="#999">Rough</text>
<text x="884.0" y="131.0" text-anchor="start" font-size="11" font-weight="bold" font-family="Liberation Sans" fill="#999">Terrain</text>
<text x="1031.0" y="165.0" text-anchor="start" font-size="11" font-weight="bold" font-family="Liberation Sans" fill="#999">A Quiet</text>
<text x="1031.0" y="176.0" text-anchor="start" font-size="11" font-weight="bold" font-family="Liberation Sans" fill="#999">Valley</text>
<text x="1168.0" y="244.0" text-anchor="start" font-size="11" font-weight="bold" font-family="Liberation Sans" fill="#999">The Low</text>
<text x="1168.0" y="255.0" text-anchor="start" font-size="11" font-weight="bold" font-family="Liberation Sans" fill="#999">Road</text>
<text x="1049.0" y="397.0" text-anchor="start" font-size="11" font-weight="bold" font-family="Liberation Sans" fill="#999">A Quiet</text>
<text x="1049.0" y="408.0" text-anchor="start" font-size="11" font-weight="bold" font-family="Liberation Sans" fill="#999">Valley</text>
<text x="963.0" y="396.0" text-anchor="middle" font-size="9.5" font-weight="normal" font-family="Liberation Sans" fill="#111" stroke="#111" stroke-width="0.25">Elemental</text>
<text x="963.0" y="407.5" text-anchor="middle" font-size="9.5" font-weight="normal" font-family="Liberation Sans" fill="#111" stroke="#111" stroke-width="0.25">Canyon</text>
<text x="1189.0" y="184.0" text-anchor="middle" font-size="8" font-weight="normal" font-family="Liberation Sans" fill="#111" stroke="#111" stroke-width="0.25">leave</text>
<text x="876.0" y="428.0" text-anchor="start" font-size="11" font-weight="bold" font-family="Liberation Sans" fill="#999">A Box End</text>
<text x="876.0" y="439.0" text-anchor="start" font-size="11" font-weight="bold" font-family="Liberation Sans" fill="#999">Canyon</text>
<text x="919.0" y="462.0" text-anchor="middle" font-size="11" font-weight="bold" font-family="Liberation Sans" fill="#999">The High Road</text>
<text x="912.0" y="626.0" text-anchor="start" font-size="11" font-weight="bold" font-family="Liberation Sans" fill="#999">Grace</text>
<text x="912.0" y="637.0" text-anchor="start" font-size="11" font-weight="bold" font-family="Liberation Sans" fill="#999">Bridge</text>
<text x="836.0" y="696.0" text-anchor="start" font-size="11" font-weight="bold" font-family="Liberation Sans" fill="#999">The</text>
<text x="836.0" y="707.0" text-anchor="start" font-size="11" font-weight="bold" font-family="Liberation Sans" fill="#999">High</text>
<text x="836.0" y="718.0" text-anchor="start" font-size="11" font-weight="bold" font-family="Liberation Sans" fill="#999">Road</text>
<text x="937.0" y="682.0" text-anchor="middle" font-size="9.5" font-weight="normal" font-family="Liberation Sans" fill="#111" stroke="#111" stroke-width="0.25">Mithril</text>
<text x="937.0" y="693.5" text-anchor="middle" font-size="9.5" font-weight="normal" font-family="Liberation Sans" fill="#111" stroke="#111" stroke-width="0.25">Hall</text>
<text x="1119.0" y="692.0" text-anchor="start" font-size="11" font-weight="bold" font-family="Liberation Sans" fill="#999">Upon</text>
<text x="1119.0" y="703.0" text-anchor="start" font-size="11" font-weight="bold" font-family="Liberation Sans" fill="#999">Grace</text>
<text x="1119.0" y="714.0" text-anchor="start" font-size="11" font-weight="bold" font-family="Liberation Sans" fill="#999">Mountain</text>
<text x="949.0" y="772.0" text-anchor="middle" font-size="11" font-weight="bold" font-family="Liberation Sans" fill="#999">Sunset Rock</text>
<text x="1060.0" y="775.0" text-anchor="middle" font-size="9.5" font-weight="normal" font-family="Liberation Sans" fill="#111" stroke="#111" stroke-width="0.25">Seth's</text>
<text x="1060.0" y="786.5" text-anchor="middle" font-size="9.5" font-weight="normal" font-family="Liberation Sans" fill="#111" stroke="#111" stroke-width="0.25">Fortress</text>
<text x="1160.0" y="745.0" text-anchor="start" font-size="11" font-weight="bold" font-family="Liberation Sans" fill="#999">Sunrise</text>
<text x="1160.0" y="756.0" text-anchor="start" font-size="11" font-weight="bold" font-family="Liberation Sans" fill="#999">Rock</text>
<text x="1146.0" y="799.0" text-anchor="middle" font-size="9.5" font-weight="normal" font-family="Liberation Sans" fill="#111" stroke="#111" stroke-width="0.25">The</text>
<text x="1146.0" y="810.5" text-anchor="middle" font-size="9.5" font-weight="normal" font-family="Liberation Sans" fill="#111" stroke="#111" stroke-width="0.25">Wilds</text>
<text x="1041.0" y="604.0" text-anchor="start" font-size="9.5" font-weight="normal" font-family="Liberation Sans" fill="#111" stroke="#111" stroke-width="0.25">4</text>
<text x="1002.0" y="825.0" text-anchor="start" font-size="11" font-weight="bold" font-family="Liberation Sans" fill="#999">Mount</text>
<text x="1002.0" y="836.0" text-anchor="start" font-size="11" font-weight="bold" font-family="Liberation Sans" fill="#999">Hensley</text>
<text x="844.0" y="943.0" text-anchor="start" font-size="11" font-weight="bold" font-family="Liberation Sans" fill="#999">Spearhead</text>
<text x="844.0" y="954.0" text-anchor="start" font-size="11" font-weight="bold" font-family="Liberation Sans" fill="#999">Rock</text>
<text x="1010.0" y="938.0" text-anchor="middle" font-size="9.5" font-weight="normal" font-family="Liberation Sans" fill="#111" stroke="#111" stroke-width="0.25">Lamech's</text>
<text x="1010.0" y="949.5" text-anchor="middle" font-size="9.5" font-weight="normal" font-family="Liberation Sans" fill="#111" stroke="#111" stroke-width="0.25">Abandoned</text>
<text x="1010.0" y="961.0" text-anchor="middle" font-size="9.5" font-weight="normal" font-family="Liberation Sans" fill="#111" stroke="#111" stroke-width="0.25">Manor (L)</text>
<text x="1172.0" y="976.0" text-anchor="start" font-size="11" font-weight="bold" font-family="Liberation Sans" fill="#999">Mount</text>
<text x="1172.0" y="987.0" text-anchor="start" font-size="11" font-weight="bold" font-family="Liberation Sans" fill="#999">Valour</text>
<text x="1092.0" y="1092.0" text-anchor="start" font-size="11" font-weight="bold" font-family="Liberation Sans" fill="#999">Mount</text>
<text x="1092.0" y="1103.0" text-anchor="start" font-size="11" font-weight="bold" font-family="Liberation Sans" fill="#999">Courage</text>
<text x="858.0" y="1169.0" text-anchor="middle" font-size="9.5" font-weight="normal" font-family="Liberation Sans" fill="#111" stroke="#111" stroke-width="0.25">Scourge</text>
<text x="858.0" y="1180.5" text-anchor="middle" font-size="9.5" font-weight="normal" font-family="Liberation Sans" fill="#111" stroke="#111" stroke-width="0.25">of Time</text>
<text x="976.0" y="1179.0" text-anchor="middle" font-size="11" font-weight="bold" font-family="Liberation Sans" fill="#999">Hourglass Rock</text>
<text x="1049.0" y="1168.0" text-anchor="start" font-size="11" font-weight="bold" font-family="Liberation Sans" fill="#999">A Rickety</text>
<text x="1049.0" y="1179.0" text-anchor="start" font-size="11" font-weight="bold" font-family="Liberation Sans" fill="#999">Structure</text>
<text x="872.0" y="22.0" text-anchor="middle" font-size="9.5" font-weight="normal" font-family="Liberation Sans" fill="#111" stroke="#111" stroke-width="0.25">Forest of</text>
<text x="872.0" y="33.5" text-anchor="middle" font-size="9.5" font-weight="normal" font-family="Liberation Sans" fill="#111" stroke="#111" stroke-width="0.25">Tears</text>
<text x="1262.0" y="190.0" text-anchor="middle" font-size="9.5" font-weight="normal" font-family="Liberation Sans" fill="#111" stroke="#111" stroke-width="0.25">Miden'nir</text>
<text x="1276.0" y="261.0" text-anchor="start" font-size="11" font-weight="bold" font-family="Liberation Sans" fill="#999">Lost Amongst the Foothills</text>
<text x="1446.0" y="646.0" text-anchor="end" font-size="9.5" font-weight="normal" font-family="Liberation Sans" fill="#111" stroke="#111" stroke-width="0.25">Transylvania</text>
<text x="1269.0" y="768.0" text-anchor="middle" font-size="9.5" font-weight="normal" font-family="Liberation Sans" fill="#111" stroke="#111" stroke-width="0.25">Von Deusen</text>
<text x="1269.0" y="779.5" text-anchor="middle" font-size="9.5" font-weight="normal" font-family="Liberation Sans" fill="#111" stroke="#111" stroke-width="0.25">Mausoleum</text>
<text x="1241.0" y="814.0" text-anchor="middle" font-size="8" font-weight="normal" font-family="Liberation Sans" fill="#111" stroke="#111" stroke-width="0.25">pull</text>
<text x="1241.0" y="823.0" text-anchor="middle" font-size="8" font-weight="normal" font-family="Liberation Sans" fill="#111" stroke="#111" stroke-width="0.25">branch</text>
<text x="1346.0" y="831.0" text-anchor="middle" font-size="9.5" font-weight="normal" font-family="Liberation Sans" fill="#111" stroke="#111" stroke-width="0.25">Ashen</text>
<text x="1346.0" y="842.5" text-anchor="middle" font-size="9.5" font-weight="normal" font-family="Liberation Sans" fill="#111" stroke="#111" stroke-width="0.25">Forest</text>
<text x="1390.0" y="913.0" text-anchor="middle" font-size="9.5" font-weight="normal" font-family="Liberation Sans" fill="#111" stroke="#111" stroke-width="0.25">Ruins of</text>
<text x="1390.0" y="924.5" text-anchor="middle" font-size="9.5" font-weight="normal" font-family="Liberation Sans" fill="#111" stroke="#111" stroke-width="0.25">T'Man</text>
<text x="1442.0" y="1063.0" text-anchor="middle" font-size="9.5" font-weight="normal" font-family="Liberation Sans" fill="#111" stroke="#111" stroke-width="0.25">New Darkhaven</text>
<text x="1334.0" y="1114.0" text-anchor="middle" font-size="9.5" font-weight="normal" font-family="Liberation Sans" fill="#111" stroke="#111" stroke-width="0.25">Desert</text>
<text x="1334.0" y="1125.5" text-anchor="middle" font-size="9.5" font-weight="normal" font-family="Liberation Sans" fill="#111" stroke="#111" stroke-width="0.25">of Despair</text>
<text x="1405.0" y="1146.0" text-anchor="middle" font-size="9.5" font-weight="normal" font-family="Liberation Sans" fill="#111" stroke="#111" stroke-width="0.25">Azure</text>
<text x="1405.0" y="1157.5" text-anchor="middle" font-size="9.5" font-weight="normal" font-family="Liberation Sans" fill="#111" stroke="#111" stroke-width="0.25">Sea</text>
<text x="1224.0" y="1179.0" text-anchor="start" font-size="11" font-weight="bold" font-family="Liberation Sans" fill="#999">Mount Chivalry</text>
<text x="1298.0" y="1200.0" text-anchor="middle" font-size="9.5" font-weight="normal" font-family="Liberation Sans" fill="#111" stroke="#111" stroke-width="0.25">Emerald</text>
<text x="1298.0" y="1211.5" text-anchor="middle" font-size="9.5" font-weight="normal" font-family="Liberation Sans" fill="#111" stroke="#111" stroke-width="0.25">Hills</text>
<text x="1387.0" y="1207.0" text-anchor="start" font-size="9.5" font-weight="normal" font-family="Liberation Sans" fill="#111" stroke="#111" stroke-width="0.25">4</text>
<text x="1485.0" y="1233.0" text-anchor="start" font-size="11" font-weight="bold" font-family="Liberation Sans" fill="#999">Mount</text>
<text x="1485.0" y="1244.0" text-anchor="start" font-size="11" font-weight="bold" font-family="Liberation Sans" fill="#999">Aragon</text>
<text x="1508.0" y="1284.0" text-anchor="middle" font-size="9.5" font-weight="normal" font-family="Liberation Sans" fill="#111" stroke="#111" stroke-width="0.25">Azure Sea</text>
<text x="1197.0" y="1294.0" text-anchor="start" font-size="11" font-weight="bold" font-family="Liberation Sans" fill="#999">Mount</text>
<text x="1197.0" y="1305.0" text-anchor="start" font-size="11" font-weight="bold" font-family="Liberation Sans" fill="#999">Chastity</text>
<text x="1219.0" y="1344.0" text-anchor="middle" font-size="9.5" font-weight="normal" font-family="Liberation Sans" fill="#111" stroke="#111" stroke-width="0.25">The Empyreal</text>
<text x="1219.0" y="1355.5" text-anchor="middle" font-size="9.5" font-weight="normal" font-family="Liberation Sans" fill="#111" stroke="#111" stroke-width="0.25">Wasteland</text>
<text x="1172.0" y="1402.0" text-anchor="middle" font-size="9.5" font-weight="normal" font-family="Liberation Sans" fill="#111" stroke="#111" stroke-width="0.25">Dragon's Pass</text>
<text x="1025.0" y="1265.0" text-anchor="middle" font-size="9.5" font-weight="normal" font-family="Liberation Sans" fill="#111" stroke="#111" stroke-width="0.25">Elemental Canyon</text>
<text x="1069.0" y="1288.0" text-anchor="middle" font-size="11" font-weight="bold" font-family="Liberation Sans" fill="#999">The Valley</text>
<text x="1069.0" y="1299.0" text-anchor="middle" font-size="11" font-weight="bold" font-family="Liberation Sans" fill="#999">of Knights</text>
<text x="1004.0" y="1351.0" text-anchor="middle" font-size="11" font-weight="bold" font-family="Liberation Sans" fill="#999">The Foothills</text>
<text x="907.0" y="1452.0" text-anchor="middle" font-size="11" font-weight="bold" font-family="Liberation Sans" fill="#999">The Foothills</text>
<text x="1008.0" y="1697.0" text-anchor="middle" font-size="11" font-weight="bold" font-family="Liberation Sans" fill="#999">The Foothills</text>
<text x="696.0" y="1835.0" text-anchor="middle" font-size="9.5" font-weight="normal" font-family="Liberation Sans" fill="#111" stroke="#111" stroke-width="0.25">MacMillan</text>
<text x="696.0" y="1846.5" text-anchor="middle" font-size="9.5" font-weight="normal" font-family="Liberation Sans" fill="#111" stroke="#111" stroke-width="0.25">Family Farm</text>
<text x="696.0" y="1684.0" text-anchor="middle" font-size="11" font-weight="bold" font-family="Liberation Sans" fill="#999">Town</text>
<text x="696.0" y="1695.0" text-anchor="middle" font-size="11" font-weight="bold" font-family="Liberation Sans" fill="#999">of Edel</text>
<text x="970.0" y="1737.0" text-anchor="start" font-size="11" font-weight="normal" font-family="Liberation Sans" fill="#999">The</text>
<text x="970.0" y="1748.0" text-anchor="start" font-size="11" font-weight="normal" font-family="Liberation Sans" fill="#999">Southern</text>
<text x="970.0" y="1759.0" text-anchor="start" font-size="11" font-weight="normal" font-family="Liberation Sans" fill="#999">Caravan</text>
<text x="1118.0" y="1697.0" text-anchor="middle" font-size="9.5" font-weight="normal" font-family="Liberation Sans" fill="#111" stroke="#111" stroke-width="0.25">Wastelands</text>
<text x="1172.0" y="1655.0" text-anchor="start" font-size="9.5" font-weight="normal" font-family="Liberation Sans" fill="#111" stroke="#111" stroke-width="0.25">Wastelands</text>
<text x="955.0" y="2014.0" text-anchor="end" font-size="9.5" font-weight="normal" font-family="Liberation Sans" fill="#111" stroke="#111" stroke-width="0.25">The Mire</text>
<text x="545.0" y="1349.0" text-anchor="start" font-size="11" font-weight="bold" font-family="Liberation Sans" fill="#999">Fury Valley</text>
<text x="545.0" y="1361.0" text-anchor="start" font-size="11" font-weight="normal" font-family="Liberation Sans" fill="#999">A three-room loop</text>
<text x="545.0" y="1372.0" text-anchor="start" font-size="11" font-weight="normal" font-family="Liberation Sans" fill="#999">that hurts you on</text>
<text x="545.0" y="1383.0" text-anchor="start" font-size="11" font-weight="normal" font-family="Liberation Sans" fill="#999">each entry.</text>
</svg></body></html>
